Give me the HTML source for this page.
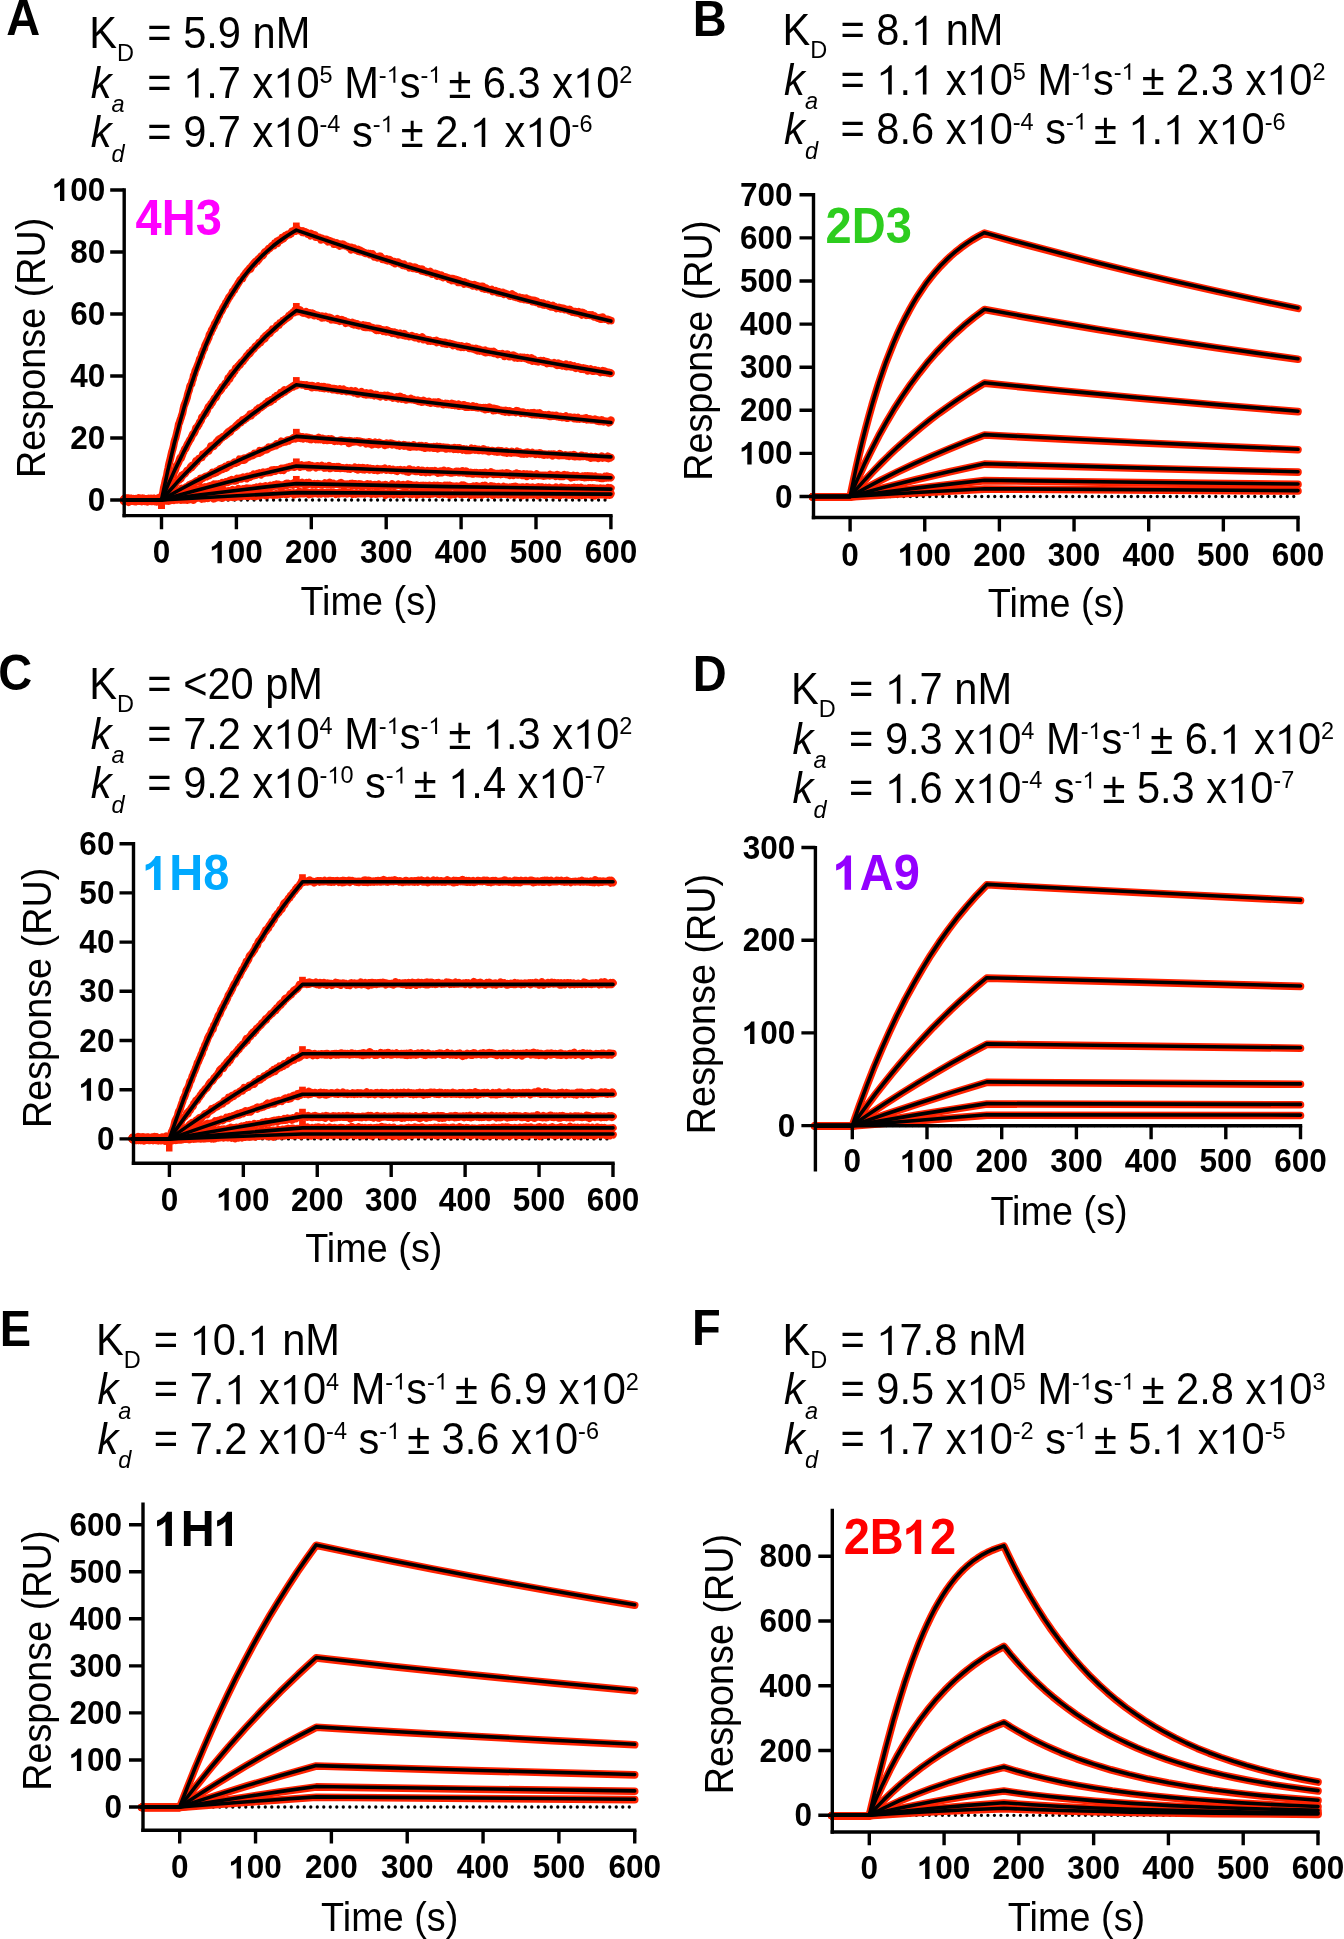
<!DOCTYPE html><html><head><meta charset="utf-8"><style>html,body{margin:0;padding:0;background:#fff;overflow:hidden}svg{display:block;will-change:transform}text{font-family:"Liberation Sans", sans-serif}</style></head><body>
<svg width="1344" height="1939" viewBox="0 0 1344 1939">
<rect width="1344" height="1939" fill="#fff"/><defs><path id="or" d="M0.285 0L0.371 0L0.371 0.67L0.325 0.67Q0.25 0.56 0.107 0.5L0.107 0.43Q0.21 0.47 0.285 0.52Z"/><path id="ob" d="M0.233 0L0.371 0L0.371 0.69L0.269 0.69Q0.19 0.55 0.054 0.51L0.054 0.39Q0.15 0.41 0.233 0.492Z"/></defs>
<path d="M124.05 500H610.9" stroke="#000" stroke-width="3.3" stroke-linecap="round" stroke-dasharray="0 6.5"/>
<g fill="none" stroke="#ff2200" stroke-width="7.6" stroke-linejoin="round" stroke-linecap="round">
<path d="M124 499.9l0.8-1.4 0.7 0.8 0.8 0.7 0.7-1.5 0.8 1.1 0.7-0.2 0.8-0.3 0.7 1.4 0.8-1 0.7-1.1 0.8 1.4 0.7 0.2 0.8-0.6 0.7-0.1 0.8-0.4 0.7 1.7 0.8-1.7 0.7 0.6 0.8-0.1 0.7-1.4 0.8 1 0.7 0 0.8 0.6 0.7-0.4 0.8 0.2 0.7 0.1 0.8 0.5 0.7-1.1 0.8 0.5 0.7 0 0.8 0.4 0.7-0.9 0.8 0.6 0.7 1 0.8-1 0.7-1 0.8 0.5 0.7 1.1 0.8 1 0.7-1.6 0.8-0.4 0.7-0.2 0.8 1.3 0.7-1.2 0.8-1 0.7 0.3 0.8 1.6 0.7-0.8 0.8-0.2 0.7-0.6 0.7-3.2 0.8-2.6 0.7-4.5 0.8-3.1 0.7-3.4 0.8-3.3 0.7-2.4 0.8-4.7 0.7-2.8 0.8-4.3 0.7-2.7 0.8-3.1 0.7-3.4 0.8-3.3 0.7-2.1 0.8-3.2 0.7-3.9 0.8-2.8 0.7-1.9 0.8-3.2 0.7-3 0.8-3.3 0.7-4 0.8-1.6 0.7-2.5 0.8-2.1 0.7-2.4 0.8-2.2 0.7-3.7 0.8-3.6 0.7-1.7 0.8-2.1 0.7-1.9 0.8-2.4 0.7-3.4 0.8-2.6 0.7-1.8 0.8-3.9 0.7-1.3 0.8-0.8 0.7-3.3 0.8-1.7 0.7-3.8 0.8-1.2 0.7-3.1 0.8-1.8 0.7-1.4 0.8-2.2 0.7-1.8 0.7-1.6 0.8-3.1 0.7-1.1 0.8-1.5 0.7-3.2 0.8-1.3 0.7-2.3 0.8-0.9 0.7-3 0.8-1.8 0.7-1.4 0.8-1.5 0.7-1.8 0.8-1.4 0.7-3.1 0.8-1.3 0.7-0.7 0.8-3 0.7-0.4 0.8-2.2 0.7-0.7 0.8-2.8 0.7-0.7 0.8-1.6 0.7-0.6 0.8-2.4 0.7-1.6 0.8-1.1 0.7-2.1 0.8-1.5 0.7-0.7 0.8-1.5 0.7-1.9 0.8-1.1 0.7-1.4 0.8-0.3 0.7-2.7 0.8-0.7 0.7-1.5 0.8-1.1 0.7-1.8 0.8-0.3 0.7-1.6 0.8-1 0.7-0.9 0.8-2.2 0.7-0.5 0.8-0.6 0.7-1.8 0.8-1.3 0.7-0.7 0.7-1.4 0.8-1.2 0.7-1.3 0.8-1 0.7-1.6 0.8-0.6 0.7-0.7 0.8 0.1 0.7-2.2 0.8-1.2 0.7-0.6 0.8-1.3 0.7-1.1 0.8-0.9 0.7-0.7 0.8-0.8 0.7-0.9 0.8-1.2 0.7 1.1 0.8-2.1 0.7-1.5 0.8-0.2 0.7-1.6 0.8 0.5 0.7-2.1 0.8-0.8 0.7-0.2 0.8 0.2 0.7-2 0.8 0.3 0.7-1.6 0.8-0.3 0.7-1.6 0.8 0 0.7-0.3 0.8-0.8 0.7-1.8 0.8-1.1 0.7-0.2 0.8-0.9 0.7-0.1 0.8-1.3 0.7-0.9 0.8 0 0.7-0.5 0.8-1.1 0.7-0.9 0.8-0.7 0.7-0.1 0.8 0.3 0.7-2.4 0.7 0.7 0.8-0.9 0.7-1.5 0.8 1.9 0.7-2.1 0.8-1.2 0.7 0.2 0.8 0.1 0.7-0.6 0.8-2.5 0.7 0 0.8 1.2 0.7-1.8 0.8-0.9 0.7 0.6 0.8-1 0.7-0.5 0.8-0.7 0.7 0.4 0.8 0.1 0.7-1.4 0.8 0.3 0.7-2.4 0.8-0.2 0.7-0.2 0.8 0.4 0.7-1.2 0.8 1.1 0.7-2.8 0.8 0.5 0.7 1.5 0.8-0.2 0.7 0.2 0.8 0.4 0.7 0.6 0.8 0.1 0.7 0.9 0.8-1.2 0.7 1.3 0.8-0.5 0.7 0 0.8 0.3 0.7 0.4 0.8 1.4 0.7-0.3 0.8 0.5 0.7-0.1 0.8 1.6 0.7-2.2 0.7 0.9 0.8 0.4 0.7 0.8 0.8 0.4 0.7-1.1 0.8 2.3 0.7-0.6 0.8 0.4 0.7 0.2 0.8 0.2 0.7 0 0.8 0.5 0.7 2 0.8-1.8 0.7 0.6 0.8 0.4 0.7 0.4 0.8-0.2 0.7 0 0.8 1 0.7-0.5 0.8 1.9 0.7-1.3 0.8 0.3 0.7 0.9 0.8-0.5 0.7 0.6 0.8 0.1 0.7 0.2 0.8 2.1 0.7-1.4 0.8 0 0.7 1.2 0.8-1 0.7 0.9 0.8 1.3 0.7-0.5 0.8 1.3 0.7-1.6 0.8 0.9 0.7 0.2 0.8-1.3 0.7 0.4 0.8 0.5 0.7 0.9 0.8 0.2 0.7 0.1 0.8 0.2 0.7 0.6 0.8 0.4 0.7 0.5 0.7-0.4 0.8 2.3 0.7-2.3 0.8 1.4 0.7-0.9 0.8 0 0.7 0.9 0.8 1 0.7-0.3 0.8 0.9 0.7 0.5 0.8-1.5 0.7 1.1 0.8 0.9 0.7-1 0.8 0.8 0.7 0.1 0.8 0.4 0.7 0.9 0.8-0.2 0.7 0.9 0.8-0.1 0.7 0.1 0.8 0.2 0.7-0.2 0.8 0.2 0.7 0.8 0.8-0.7 0.7 1.2 0.8-0.3 0.7-0.5 0.8 1.3 0.7 1.5 0.8-0.4 0.7 0.1 0.8 0.6 0.7 0.5 0.8-1 0.7 0.2 0.8 0.6 0.7-1.3 0.8 1.4 0.7 0 0.8 1.8 0.7-0.1 0.8 0.4 0.7-0.3 0.8-0.1 0.7 1 0.7-1.3 0.8 1.8 0.7-1.3 0.8 0.8 0.7-0.6 0.8 1.4 0.7 0.5 0.8 0.2 0.7 0.5 0.8-0.8 0.7 0.1 0.8 2 0.7-0.6 0.8-0.1 0.7-0.7 0.8-0.2 0.7 1.1 0.8-0.1 0.7 1 0.8-0.2 0.7 0.9 0.8 0.7 0.7-0.5 0.8-0.6 0.7 1.3 0.8 0.4 0.7-0.1 0.8 0.2 0.7 0.3 0.8-0.1 0.7 1.4 0.8-1.4 0.7 1.1 0.8-0.5 0.7 0.3 0.8 1.2 0.7-0.4 0.8-0.7 0.7 1.1 0.8-0.6 0.7 1.4 0.8-0.2 0.7-0.1 0.8-0.1 0.7 1 0.8 0.3 0.7 0.7 0.8-1.6 0.7 1 0.7 1.1 0.8-0.4 0.7 0.3 0.8 0.2 0.7 1 0.8-0.1 0.7 0.2 0.8-0.3 0.7 0.6 0.8-1.2 0.7 1.1 0.8 1.5 0.7-0.3 0.8-0.6 0.7 0.4 0.8-0.4 0.7 0.1 0.8 0.6 0.7 2.1 0.8-1.9 0.7 0.8 0.8 0.4 0.7 0.3 0.8 0.7 0.7-1.1 0.8 0.7 0.7 1.5 0.8-0.4 0.7-0.2 0.8-0.2 0.7 0.4 0.8 0.6 0.7 0.2 0.8 0.1 0.7 1.4 0.8-1 0.7 0.1 0.8 0.2 0.7 1.8 0.8-1.9 0.7 1.7 0.8 0.4 0.7-0.1 0.8-1.1 0.7 0.8 0.8-0.2 0.7 2.2 0.8-1.9 0.7 0.2 0.8 1.7 0.7-0.8 0.7 0.6 0.8 0 0.7 0.6 0.8 1.2 0.7-1.9 0.8 1.7 0.7 0.1 0.8-0.6 0.7 0.7 0.8-0.1 0.7 0.7 0.8-0.2 0.7 0.2 0.8 0.5 0.7 0.6 0.8 0.4 0.7-0.5 0.8-0.8 0.7 0.4 0.8 1 0.7 0.6 0.8-0.7 0.7 0.5 0.8-0.1 0.7 0.4 0.8 0 0.7-0.3 0.8 1.7 0.7-1.8 0.8 1 0.7 0.7 0.8 1 0.7-1.2 0.8 0.5 0.7 0.5 0.8 0.4 0.7 0.5 0.8 0 0.7-0.1 0.8 0.4 0.7-0.5 0.8 1.9 0.7-1 0.8 0.8 0.7-0.2 0.8-0.5 0.7 1 0.8-0.1 0.7 1.1 0.8-0.9 0.7 1.3 0.7 0.2 0.8-0.4 0.7-0.3 0.8 0.8 0.7-0.8 0.8 1.7 0.7-0.7 0.8-0.1 0.7 0.4 0.8 0.1 0.7 0.7 0.8 0.2 0.7 0.1 0.8 1.1 0.7 0.2 0.8-1.4 0.7-0.8 0.8 1.9 0.7-0.8 0.8 1.6 0.7-0.9 0.8 1.5 0.7 0.2 0.8-0.4 0.7 0.7 0.8 0.5 0.7-1.1 0.8 0.7 0.7 0.9 0.8-0.4 0.7-0.4 0.8 1 0.7 0.5 0.8-1 0.7 0.7 0.8-0.9 0.7 1.4 0.8-0.5 0.7 0.9 0.8-0.6 0.7 0.5 0.8 0 0.7 0.2 0.8 1.4 0.7-1.2 0.8 0 0.7 1.5 0.8-1.2 0.7 1.5 0.7-1 0.8 0.8 0.7 0.3 0.8 0.5 0.7 1.2 0.8-0.2 0.7-0.9 0.8 1.4 0.7 0.4 0.8-1.4 0.7 1 0.8 0.8 0.7-0.3 0.8-0.1 0.7-0.4 0.8 0.3 0.7 1.4 0.8 0.2 0.7-0.4 0.8 1 0.7-1 0.8-0.3 0.7 1.5 0.8-0.7 0.7 0.3 0.8 0.8 0.7 1 0.8-1 0.7 0.4 0.8 0.3 0.7-0.8 0.8 0.4 0.7 1.2 0.8-0.4 0.7-0.1 0.8 0 0.7-0.1 0.8 1.2 0.7-0.5 0.8 0.3 0.7 0.3 0.8 0.1 0.7 0.4 0.8 0.6 0.7-1.3 0.8 1.2 0.7 0.7 0.8 0.7 0.7-0.9 0.8 0.5 0.7 0 0.7 0.9 0.8-0.9 0.7 0.4 0.8 1 0.7-0.3 0.8-1 0.7 1.6 0.8 0.6 0.7 0.2 0.8 0.8 0.7-2.5 0.8 1.9 0.7-0.4 0.8-0.5 0.7 1 0.8 0.9 0.7-0.3 0.8 0.2 0.7-0.2 0.8-0.2 0.7 0.7 0.8-0.3 0.7 0.5 0.8-0.6 0.7 1 0.8 0.6 0.7-0.7 0.8 1.2 0.7 0 0.8 0.1 0.7 0.8 0.8-0.4 0.7 0.3 0.8-0.4 0.7 1.3 0.8-0.5 0.7 0.6 0.8-1.9 0.7 1.2 0.8 0.2 0.7 0.7 0.8-0.2 0.7 0.3 0.8 0 0.7-0.1 0.8 1.2 0.7-0.5 0.8 0.6 0.7 0.1"/>
<path d="M124 501l0.8-1.4 0.7 0.1 0.8 0.1 0.7-0.4 0.8-0.6 0.7 0.4 0.8 0.9 0.7-0.2 0.8 0.4 0.7-1.5 0.8 0.9 0.7 0.8 0.8-1.7 0.7 0.5 0.8-0.4 0.7 1.8 0.8-0.7 0.7-0.4 0.8 0.4 0.7-0.1 0.8 0.6 0.7 0.1 0.8-0.1 0.7-0.4 0.8 0.3 0.7 0 0.8 0.2 0.7-1.8 0.8 1.3 0.7-0.1 0.8 0 0.7-0.2 0.8 0.1 0.7 0.3 0.8-0.1 0.7-0.1 0.8-0.7 0.7-0.1 0.8 0.3 0.7-0.6 0.8 0.7 0.7-0.2 0.8-0.5 0.7-0.1 0.8 0.9 0.7-0.1 0.8 1.6 0.7-0.7 0.8-1 0.7 0.1 0.7-2.1 0.8-1.6 0.7-1.5 0.8-1.5 0.7-2.1 0.8-0.9 0.7-1.8 0.8-0.9 0.7-3.6 0.8-0.5 0.7-2.3 0.8-2.4 0.7-0.9 0.8-2.4 0.7-0.7 0.8 0.1 0.7-2.5 0.8-1.3 0.7-1.9 0.8-3.2 0.7-0.4 0.8-1.7 0.7-1.4 0.8-2.4 0.7-2.1 0.8 0.9 0.7-2 0.8-2 0.7-2 0.8-1.1 0.7-2.3 0.8-0.1 0.7-1.9 0.8-1.7 0.7-1.6 0.8-1.2 0.7-1.3 0.8-1.7 0.7-0.5 0.8-1.9 0.7-1.5 0.8-1.8 0.7-0.2 0.8-1.3 0.7-1.7 0.8-2.8 0.7-0.4 0.8-0.5 0.7-1.9 0.7-0.6 0.8-2.3 0.7-0.5 0.8-1.4 0.7-3.1 0.8 0 0.7-1.2 0.8-1.4 0.7-1.4 0.8 0.3 0.7-2.3 0.8-0.6 0.7-2.5 0.8-1.6 0.7-0.3 0.8-0.6 0.7-1.9 0.8-0.4 0.7-0.9 0.8-1.9 0.7-0.9 0.8-1.6 0.7 0 0.8-0.7 0.7-1.9 0.8-1.7 0.7-1.2 0.8-0.8 0.7-0.4 0.8-2.1 0.7 0.3 0.8-2.7 0.7-0.3 0.8-0.2 0.7-0.8 0.8-2.3 0.7-0.3 0.8 0 0.7-1.8 0.8-3.1 0.7 0.5 0.8 0.3 0.7-3.1 0.8 0.2 0.7-2.7 0.8 1.2 0.7-2.4 0.8 0 0.7-0.9 0.8-3.1 0.7-0.1 0.7 0.1 0.8-2 0.7-0.1 0.8-1.4 0.7 0.4 0.8-2 0.7-1.1 0.8 0 0.7-0.5 0.8-1.7 0.7-0.6 0.8-0.8 0.7-1.4 0.8-1.3 0.7 0.2 0.8-1.4 0.7-1.4 0.8 0.5 0.7-1.1 0.8-1 0.7-1.3 0.8-0.5 0.7-0.3 0.8-0.9 0.7-1.6 0.8-0.8 0.7-0.1 0.8-0.8 0.7-0.4 0.8-2 0.7 0.5 0.8-0.3 0.7-1.2 0.8-1.3 0.7-0.2 0.8-2.1 0.7-0.2 0.8 0.8 0.7-3 0.8-0.4 0.7 0.4 0.8-1.6 0.7-0.6 0.8-1 0.7 0.9 0.8-2 0.7-0.5 0.8-1.6 0.7 0.8 0.8-1.1 0.7-0.4 0.7 0 0.8-1.5 0.7-1.5 0.8-0.5 0.7 0 0.8 0.1 0.7-2.2 0.8 0 0.7-0.6 0.8-0.2 0.7-1.5 0.8 0.1 0.7-0.4 0.8-1.1 0.7-0.6 0.8-0.2 0.7-0.6 0.8-0.2 0.7-2 0.8 0.8 0.7-1.5 0.8-1.1 0.7-0.2 0.8-1 0.7 0.1 0.8 0.1 0.7-2.5 0.8 0.1 0.7 0.6 0.8-0.5 0.7 0.9 0.8-1.1 0.7 0.9 0.8-1.3 0.7 1.2 0.8 1.1 0.7 0.5 0.8 0.4 0.7-0.8 0.8-0.3 0.7 0.5 0.8-0.8 0.7 2.2 0.8 0 0.7-1 0.8 1.8 0.7-1.8 0.8 1.4 0.7-0.7 0.7-0.4 0.8 1.5 0.7-0.8 0.8 1.6 0.7-1 0.8 0.7 0.7-0.1 0.8 0.5 0.7-0.3 0.8 1.1 0.7 0 0.8-0.1 0.7 0 0.8 1.5 0.7-1.5 0.8 0.4 0.7 0.9 0.8-0.3 0.7-0.8 0.8 1 0.7 0.1 0.8-0.2 0.7 0.9 0.8-0.7 0.7 0.7 0.8-0.3 0.7 1.8 0.8-1 0.7 0.7 0.8 0 0.7 0.5 0.8-0.4 0.7 0.7 0.8-0.2 0.7-1.3 0.8 1.8 0.7-0.8 0.8 1.5 0.7-0.3 0.8-0.1 0.7-1.2 0.8 0.4 0.7 0.8 0.8 0.6 0.7-0.4 0.8 2.2 0.7-0.8 0.8-0.1 0.7-0.4 0.8 0.6 0.7 0.2 0.7 0.1 0.8 0.3 0.7 0.7 0.8-1.3 0.7 1.3 0.8 0.7 0.7-1.3 0.8 0.9 0.7 0 0.8-0.3 0.7 1.5 0.8-0.6 0.7 1 0.8-0.3 0.7-0.2 0.8 0.5 0.7-0.2 0.8-0.6 0.7 2 0.8-0.5 0.7 0.7 0.8-1.7 0.7 1.9 0.8 0.1 0.7-0.4 0.8-1.1 0.7 1.5 0.8-0.3 0.7 0.5 0.8 0.3 0.7-0.4 0.8 0.6 0.7 0.2 0.8 1.1 0.7-0.8 0.8 1.6 0.7-1.9 0.8 0.8 0.7 1 0.8-1.6 0.7 1.5 0.8 0 0.7-0.4 0.8 0.4 0.7 1.2 0.8-1 0.7 0.6 0.8 0.2 0.7 0.7 0.7-1.8 0.8 0.5 0.7 0.2 0.8 0.8 0.7 0.7 0.8 0.3 0.7-0.5 0.8 1.2 0.7-0.8 0.8 0.7 0.7-0.7 0.8 1.1 0.7-0.8 0.8 1.3 0.7 0 0.8 0.7 0.7-1.2 0.8-0.3 0.7 1.4 0.8-0.2 0.7-0.3 0.8-0.3 0.7 1.4 0.8-1.5 0.7 1.1 0.8 1 0.7-0.6 0.8 0.6 0.7 0.2 0.8 0.2 0.7 0.4 0.8-0.1 0.7-0.4 0.8-0.4 0.7 0.7 0.8 0 0.7 0.8 0.8 0.6 0.7-0.1 0.8-0.7 0.7 0.7 0.8 0 0.7-0.1 0.8 1.2 0.7-0.3 0.8 0 0.7-0.8 0.8-0.7 0.7 1.3 0.7 1.3 0.8-0.6 0.7 0.2 0.8 0 0.7 0.6 0.8-0.1 0.7 1.2 0.8-1 0.7 0.1 0.8 1.2 0.7-0.3 0.8 0.1 0.7 0.1 0.8-0.2 0.7 0.4 0.8 0.2 0.7-0.1 0.8-1 0.7 2.1 0.8-1 0.7 0.1 0.8 0.3 0.7-0.1 0.8 0.1 0.7 0.6 0.8 0.8 0.7-0.6 0.8 0.6 0.7-0.9 0.8 1.4 0.7-1 0.8 1.2 0.7-0.7 0.8 0.3 0.7-0.3 0.8 0.2 0.7 0.7 0.8-0.3 0.7 0.6 0.8 1 0.7-1 0.8 0.4 0.7 0.3 0.8-0.2 0.7 0.5 0.8 0.3 0.7 0.7 0.8-0.9 0.7 0.4 0.8 0.2 0.7 1 0.7-1.2 0.8 0.8 0.7 0.5 0.8 0.1 0.7-0.7 0.8 0 0.7-0.3 0.8 0.9 0.7 0.3 0.8-0.6 0.7 1.5 0.8-0.2 0.7-0.1 0.8 0 0.7 0.7 0.8-0.3 0.7 0.6 0.8-0.4 0.7 1 0.8-1.4 0.7 0.4 0.8 1.9 0.7-0.3 0.8 0.5 0.7-1.3 0.8 1 0.7 0.3 0.8 0.1 0.7-0.5 0.8 1.2 0.7-0.5 0.8-0.9 0.7 2.4 0.8-1.3 0.7 0.8 0.8-1 0.7 0 0.8 1.2 0.7 0.1 0.8-0.8 0.7 0.8 0.8-0.8 0.7-0.3 0.8 2 0.7-1.2 0.8 1.3 0.7 0.3 0.8-0.3 0.7 0.9 0.8-0.6 0.7 0.1 0.7 0 0.8 0.4 0.7 0.1 0.8-0.7 0.7 0.7 0.8 0 0.7 2 0.8-0.8 0.7-1.1 0.8 1 0.7-1.3 0.8 1.2 0.7 1.2 0.8-0.9 0.7 0.9 0.8-0.9 0.7 0.7 0.8 0.1 0.7-1.4 0.8 0.9 0.7 1.8 0.8-1.5 0.7 1.3 0.8 0.5 0.7-0.9 0.8 0.7 0.7-0.2 0.8-0.5 0.7 0.9 0.8 0 0.7-0.7 0.8 0.5 0.7-0.4 0.8 0.7 0.7 0.3 0.8-0.4 0.7-0.4 0.8 1.7 0.7 0.4 0.8-1.1 0.7 0.7 0.8-0.3 0.7-1.1 0.8 3 0.7-0.9 0.8-0.9 0.7 1.7 0.8-0.2 0.7 0.6 0.7-0.3 0.8 0 0.7 0.7 0.8-0.9 0.7 0.4 0.8-0.6 0.7 0.1 0.8 0.9 0.7 0.2 0.8-1 0.7 1.3 0.8 0.5 0.7-1.2 0.8 0.7 0.7 1.3 0.8-1.4 0.7 1 0.8 0.3 0.7-0.3 0.8 0.2 0.7 0.3 0.8 0 0.7 0.1 0.8-0.9 0.7 1.2 0.8-0.5 0.7 1.5 0.8 0.5 0.7-0.5 0.8-1.8 0.7 2 0.8-0.4 0.7-0.6 0.8 0.1 0.7 1.5 0.8-0.9 0.7 0.4 0.8 0.2 0.7 0.7 0.8-2 0.7 2.4 0.8-1.1 0.7 0.4 0.8 0.7 0.7 0 0.8-1.5 0.7 1.9 0.8-0.3 0.7-0.4 0.8 0.4 0.7-0.5 0.7 1.6 0.8 0.5 0.7-1.1 0.8 0.2 0.7-0.5 0.8 0.6 0.7-0.1 0.8 0.8 0.7 1.1 0.8-0.2 0.7 0 0.8-1 0.7 1.2 0.8-0.8 0.7 0 0.8 1.1 0.7-0.4 0.8 1.7 0.7-1.2 0.8-0.2 0.7 0.8 0.8-1.1 0.7 1.3 0.8 0.6 0.7-0.9 0.8-0.1 0.7 1.1 0.8-1.2 0.7 1 0.8-0.4 0.7 0.6 0.8-0.5 0.7 1 0.8 0 0.7 0.9 0.8-1.2 0.7 0.6 0.8-1.2 0.7 0.8 0.8 0.7 0.7-0.9 0.8 0.9 0.7-0.3 0.8 0.9 0.7 0.2 0.8-0.5 0.7 0.8 0.8-0.6 0.7 0.5"/>
<path d="M124 499.3l0.8 0.4 0.7-0.1 0.8-1 0.7 0.9 0.8 0.4 0.7 0 0.8-1.1 0.7 0 0.8 0.3 0.7 0.5 0.8 0.5 0.7 0.2 0.8-0.5 0.7 0.5 0.8-0.6 0.7-1 0.8 1.2 0.7-0.8 0.8 0.1 0.7-0.1 0.8 0.2 0.7 0.1 0.8 0.5 0.7-0.8 0.8 1.1 0.7-0.3 0.8-0.6 0.7 0.3 0.8-0.6 0.7 0.2 0.8-0.4 0.7 0.3 0.8 0.2 0.7 0.2 0.8-0.5 0.7-0.1 0.8 0.5 0.7 0.2 0.8-1 0.7 0 0.8 0.1 0.7 0.6 0.8 0.2 0.7 0.1 0.8-0.7 0.7 1 0.8-2 0.7 1.2 0.8 0 0.7 0.8 0.7-2.1 0.8-0.2 0.7-0.5 0.8-1.6 0.7-0.5 0.8-0.1 0.7-2.2 0.8 0 0.7-1.7 0.8 0 0.7-1.3 0.8-0.8 0.7-1.2 0.8-0.1 0.7-1.1 0.8-0.5 0.7-0.2 0.8-2.3 0.7 0.2 0.8-1.7 0.7-0.7 0.8-1.1 0.7-0.9 0.8 0.5 0.7-1.8 0.8 0.5 0.7-3 0.8 0.5 0.7-1.5 0.8-0.2 0.7-0.4 0.8-0.9 0.7-1.2 0.8-1.2 0.7-0.4 0.8-0.1 0.7-1 0.8-0.6 0.7-1.8 0.8 1.1 0.7-2.5 0.8 0.6 0.7-1 0.8-0.6 0.7-1.2 0.8-2.3 0.7 1.2 0.8-1.6 0.7-0.7 0.7-1.2 0.8-0.1 0.7-0.5 0.8-0.3 0.7-0.1 0.8-3.1 0.7 0.5 0.8-0.9 0.7 0 0.8-1.6 0.7-0.2 0.8-1.2 0.7 0.4 0.8-0.4 0.7-1.8 0.8-0.5 0.7-2.7 0.8 1.2 0.7-0.4 0.8-1.5 0.7 0.9 0.8-1.8 0.7-0.1 0.8-1.9 0.7-1 0.8 1.2 0.7-2.8 0.8 0.9 0.7-2.1 0.8 0.1 0.7-0.8 0.8 0 0.7-1.1 0.8-0.5 0.7 0.1 0.8-0.5 0.7-1 0.8-1.3 0.7 0.5 0.8-2.2 0.7 0.3 0.8-1.3 0.7 1 0.8-1.7 0.7-0.9 0.8-0.5 0.7-0.5 0.8-0.6 0.7-0.1 0.8-1.4 0.7-0.8 0.7 0.5 0.8-1.7 0.7-0.7 0.8-0.8 0.7 0.3 0.8-0.3 0.7-1.5 0.8-1.1 0.7 0.5 0.8-0.3 0.7-0.9 0.8-0.8 0.7 0 0.8-0.7 0.7-1 0.8 0 0.7-0.6 0.8-2 0.7 0.4 0.8 0.7 0.7-1.7 0.8-0.7 0.7-0.5 0.8 0.3 0.7-1 0.8-0.7 0.7-1.2 0.8 0.7 0.7-1.5 0.8-1.1 0.7-0.2 0.8 0.2 0.7-0.7 0.8-0.3 0.7-1.1 0.8 0 0.7-0.7 0.8-0.8 0.7-0.9 0.8 0 0.7-0.1 0.8-2 0.7 0.6 0.8-1.1 0.7 1.1 0.8-0.6 0.7-1.8 0.8 0.2 0.7-0.8 0.8 0.3 0.7-2.1 0.7 0.5 0.8-0.4 0.7-1.7 0.8 0.9 0.7-0.7 0.8-0.9 0.7-0.6 0.8-1.7 0.7 1.5 0.8-1 0.7-1.3 0.8-0.9 0.7-0.9 0.8 1.7 0.7-1.1 0.8-0.3 0.7-0.2 0.8-0.5 0.7-0.7 0.8-0.4 0.7-0.8 0.8-0.3 0.7-0.1 0.8-1.1 0.7 0.6 0.8-1.6 0.7 0 0.8 0.6 0.7-0.1 0.8-1.5 0.7 0.5 0.8-0.3 0.7 0 0.8 0.1 0.7 0.2 0.8-0.2 0.7 0.4 0.8-0.1 0.7-0.1 0.8 0.4 0.7 0 0.8 1 0.7-1 0.8 1 0.7-0.6 0.8 0 0.7 0.8 0.8 0.6 0.7-1.1 0.7 1.8 0.8-1.8 0.7 1 0.8-0.1 0.7 0 0.8 0.8 0.7-0.1 0.8-1.1 0.7-0.4 0.8 0.5 0.7 1.3 0.8-0.4 0.7 0.5 0.8-1 0.7 1.4 0.8 0.2 0.7-1.8 0.8 1.9 0.7-1 0.8 0.1 0.7 0.6 0.8-0.6 0.7 1.1 0.8-1 0.7 0.6 0.8 0 0.7 0.9 0.8 0.4 0.7-1.1 0.8 0.1 0.7 0.7 0.8 0.5 0.7-0.9 0.8 0.8 0.7 0.7 0.8-0.6 0.7 0.2 0.8-1 0.7 1.6 0.8-0.1 0.7 0.6 0.8-0.9 0.7-0.8 0.8 1.1 0.7-0.4 0.8 0.4 0.7 1 0.8-0.7 0.7 0.1 0.8 0.5 0.7 0 0.7 0.2 0.8-0.9 0.7 1.1 0.8 0.2 0.7-0.4 0.8 1.2 0.7-0.3 0.8-1.4 0.7 1.4 0.8 0.3 0.7 1.1 0.8 0.1 0.7-1.4 0.8 0.1 0.7-0.2 0.8-0.8 0.7 1.2 0.8 0.2 0.7 1.2 0.8-1 0.7 0.7 0.8 0.7 0.7-1.7 0.8 0.9 0.7-0.2 0.8 0.8 0.7-0.9 0.8 1.1 0.7-1.4 0.8 1.5 0.7 0.2 0.8-0.1 0.7 0.7 0.8-1 0.7-0.2 0.8 0.1 0.7 0.7 0.8 0.7 0.7-0.4 0.8 0.3 0.7 0.8 0.8-1 0.7 0.2 0.8 0.1 0.7 0 0.8-0.3 0.7-0.3 0.8 1 0.7 0.7 0.7-0.4 0.8-1.2 0.7 0.9 0.8 0 0.7 0.5 0.8-0.5 0.7 0.3 0.8 0.4 0.7 1 0.8-0.7 0.7 0.2 0.8 0 0.7 0.4 0.8-0.9 0.7 0.9 0.8 0.7 0.7-1.3 0.8 0.8 0.7-1.7 0.8 1.9 0.7 0.7 0.8-0.5 0.7 0.4 0.8-0.9 0.7 0.7 0.8 1.1 0.7 0.2 0.8-0.7 0.7-0.2 0.8 0.4 0.7-0.1 0.8-0.1 0.7-0.9 0.8 1.3 0.7 0.1 0.8-0.5 0.7 0.5 0.8 0.3 0.7 0 0.8 0.2 0.7 0.4 0.8-0.5 0.7 1 0.8-0.6 0.7 0.5 0.8 0 0.7 1 0.8-1.1 0.7 0.8 0.7-1.2 0.8 0.8 0.7-0.2 0.8 0.3 0.7 0.4 0.8 0.5 0.7-0.7 0.8-0.3 0.7 1.1 0.8 0.7 0.7-0.3 0.8-0.1 0.7-0.3 0.8-0.4 0.7 0.5 0.8-0.4 0.7 0.9 0.8-0.3 0.7-0.4 0.8 1.2 0.7-1.6 0.8 1.5 0.7-0.5 0.8 0 0.7 0.6 0.8 0.8 0.7 0.2 0.8 0 0.7-0.7 0.8-0.5 0.7 0.4 0.8 0.6 0.7-0.7 0.8 0.7 0.7 0.3 0.8-0.3 0.7 0.2 0.8 0.5 0.7-1.7 0.8 1.7 0.7-0.7 0.8-0.2 0.7 1.2 0.8-0.8 0.7 0.2 0.8 0.6 0.7 0.5 0.8-1.6 0.7 1.9 0.8-1 0.7 0.7 0.7 0 0.8 0.3 0.7-1.4 0.8-0.1 0.7 1.2 0.8 1.2 0.7-1.2 0.8 0 0.7 1.1 0.8-0.8 0.7 0.9 0.8-0.5 0.7 0.3 0.8 0.3 0.7 0.1 0.8-1.3 0.7 0.7 0.8 0.5 0.7-0.2 0.8-0.4 0.7 1.2 0.8 0 0.7 0.1 0.8-0.4 0.7 0.1 0.8 0.1 0.7 0.1 0.8 0.7 0.7-0.7 0.8-0.2 0.7 1.1 0.8 0.8 0.7-1.8 0.8 1.5 0.7-1.2 0.8 1.2 0.7-0.1 0.8-1.8 0.7 1.4 0.8 0.4 0.7-0.2 0.8-0.5 0.7 2.2 0.8-2.3 0.7 1.2 0.8 0.8 0.7-1.4 0.8 0.3 0.7 0.1 0.8 0.5 0.7 0.6 0.7-0.1 0.8-0.1 0.7 0 0.8 1.1 0.7-0.4 0.8-0.4 0.7 0.2 0.8 1.2 0.7-1.3 0.8 0.9 0.7-0.6 0.8 0.4 0.7 0.8 0.8-1.2 0.7 0.7 0.8-0.1 0.7 0.4 0.8 0.1 0.7-0.1 0.8-0.3 0.7 0.3 0.8 0.6 0.7-1.8 0.8 1.3 0.7-1.1 0.8 1 0.7-0.2 0.8 0.6 0.7 0.8 0.8-1.1 0.7 0 0.8 0.9 0.7-0.5 0.8 1 0.7 0 0.8-0.1 0.7-0.1 0.8-0.3 0.7 0.5 0.8 0.4 0.7-0.4 0.8 0.3 0.7-0.6 0.8 1.3 0.7-1.1 0.8-0.5 0.7 1.9 0.8-0.2 0.7-0.2 0.7 0.4 0.8-1.4 0.7 0.6 0.8-0.3 0.7-0.6 0.8 2.1 0.7-0.3 0.8-0.2 0.7 0.3 0.8 0.6 0.7-0.3 0.8-0.4 0.7 0.3 0.8 0.6 0.7-0.1 0.8-0.2 0.7-0.7 0.8 1.7 0.7-0.8 0.8 0.7 0.7-1 0.8 0 0.7 0.8 0.8 0.2 0.7-0.1 0.8-0.6 0.7-0.3 0.8 1.4 0.7-0.2 0.8-0.2 0.7 0.8 0.8-0.2 0.7-0.5 0.8 0.2 0.7 1 0.8-0.1 0.7-0.6 0.8 0.1 0.7 0.1 0.8-1 0.7 1.9 0.8-0.4 0.7 0.5 0.8-0.9 0.7-0.1 0.8-0.1 0.7 0.5 0.8 0.2 0.7-0.2 0.8 0.2 0.7 0.9 0.7-1.1 0.8 0.7 0.7 0.6 0.8-0.8 0.7-0.5 0.8 1.5 0.7 0.1 0.8-0.4 0.7 0.1 0.8-0.3 0.7 0.5 0.8-0.1 0.7-0.5 0.8 0.8 0.7-0.3 0.8-0.8 0.7 1.6 0.8-0.9 0.7 0.7 0.8 0.2 0.7-0.7 0.8 0.6 0.7 0.3 0.8-0.3 0.7 0.3 0.8 0.1 0.7 0 0.8-0.8 0.7 0.3 0.8 1.3 0.7-0.6 0.8-0.1 0.7 1.4 0.8-0.2 0.7-0.7 0.8 0.6 0.7-1.3 0.8 1.5 0.7 0.4 0.8-0.8 0.7 0.6 0.8-0.4 0.7 0.1 0.8 0.2 0.7 0.2 0.8 1.1 0.7-0.3 0.8-0.4 0.7-2"/>
<path d="M124 500.8l0.8 0.4 0.7 0 0.8 0.2 0.7-0.5 0.8 0.5 0.7 0.7 0.8-1.6 0.7 0 0.8-0.2 0.7 0.4 0.8-0.5 0.7 0.9 0.8 0.2 0.7 0.3 0.8 0.1 0.7-1 0.8 0.3 0.7-0.6 0.8 0.5 0.7 0 0.8 0.3 0.7-0.3 0.8-0.6 0.7 1.2 0.8-0.7 0.7-0.7 0.8-0.2 0.7 1.4 0.8-1.5 0.7 1.5 0.8 0.5 0.7-0.6 0.8 0.2 0.7-0.2 0.8-0.7 0.7 0.5 0.8-1.2 0.7 1.5 0.8 0 0.7-0.3 0.8 0.5 0.7-0.7 0.8-0.9 0.7 1.8 0.8-0.8 0.7-0.4 0.8 0.1 0.7 0.1 0.8 0.3 0.7-0.9 0.7 0.4 0.8-0.7 0.7 0.2 0.8-1 0.7 0.1 0.8-1.3 0.7 0.3 0.8-0.8 0.7 0.4 0.8-0.9 0.7 0 0.8-1.3 0.7-0.5 0.8-0.1 0.7-1 0.8 0 0.7 0.5 0.8-1.8 0.7-0.1 0.8 0 0.7 0.5 0.8-0.1 0.7-2 0.8-0.4 0.7 0 0.8-0.9 0.7-1.2 0.8 1.1 0.7-0.5 0.8-0.5 0.7-0.2 0.8-0.6 0.7-0.9 0.8 0.3 0.7-0.8 0.8-0.3 0.7-1.1 0.8 0.3 0.7-0.5 0.8-0.8 0.7-0.4 0.8-0.2 0.7-0.1 0.8-0.8 0.7-0.6 0.8 0.3 0.7-1.2 0.8 0.5 0.7-1.1 0.7 0 0.8 0.4 0.7-2.3 0.8 0.1 0.7 0.1 0.8-0.1 0.7-0.8 0.8-0.5 0.7-0.2 0.8-0.6 0.7 0.3 0.8-0.8 0.7-0.1 0.8-0.2 0.7 0 0.8-1.2 0.7-0.2 0.8 0.1 0.7-1.9 0.8 0.9 0.7-0.9 0.8 0.7 0.7-1.1 0.8-0.7 0.7 0.8 0.8-1.3 0.7-0.6 0.8 0.5 0.7-1.8 0.8 0.7 0.7 0.1 0.8-1.5 0.7 1 0.8-1.1 0.7-0.5 0.8-1.1 0.7 1.5 0.8-0.4 0.7-1.3 0.8 0 0.7-1.7 0.8 0.9 0.7-0.2 0.8-1 0.7-0.3 0.8-0.1 0.7-0.7 0.8-0.9 0.7 1.1 0.8-0.2 0.7-0.6 0.7-0.2 0.8-0.2 0.7-1.1 0.8-1.9 0.7 1.4 0.8-0.7 0.7-0.7 0.8 0.7 0.7-1.2 0.8-0.5 0.7 1.8 0.8-2 0.7 0 0.8-0.1 0.7-0.3 0.8-0.7 0.7 0 0.8-0.7 0.7-0.5 0.8-0.2 0.7 0.2 0.8-0.3 0.7-0.5 0.8-1.5 0.7 0.5 0.8 0.1 0.7-0.9 0.8 0.2 0.7-0.5 0.8 0.3 0.7-2.4 0.8 1.1 0.7 0.3 0.8-0.6 0.7-1 0.8-0.1 0.7-0.4 0.8 0.1 0.7-0.1 0.8-1.1 0.7 0.6 0.8-0.6 0.7-1.8 0.8 0.7 0.7-0.2 0.8-0.6 0.7 0.1 0.8-0.4 0.7-0.3 0.8-0.4 0.7 0 0.7-0.8 0.8 0.4 0.7-1.7 0.8 0.8 0.7-0.6 0.8-0.3 0.7 0.1 0.8-0.8 0.7-1.8 0.8 0.7 0.7 0.4 0.8-0.3 0.7-0.4 0.8-0.4 0.7 0.5 0.8-0.7 0.7-0.9 0.8-0.2 0.7 0.8 0.8-0.8 0.7-0.2 0.8-0.5 0.7-0.1 0.8-0.8 0.7-0.5 0.8-0.3 0.7-0.2 0.8 1.3 0.7-1 0.8-0.3 0.7 0 0.8-0.8 0.7 1.4 0.8-1.4 0.7 1.7 0.8-0.8 0.7-0.5 0.8 1.7 0.7-1.4 0.8 0.5 0.7 0.1 0.8-0.7 0.7 1.2 0.8-1 0.7 0.8 0.8-0.5 0.7 1.6 0.8-0.8 0.7 0.9 0.7-1.2 0.8 0.6 0.7 0.2 0.8-0.2 0.7-0.2 0.8 0.9 0.7-0.4 0.8-0.1 0.7 0.5 0.8-2 0.7 1 0.8 1 0.7-0.5 0.8 0.1 0.7-0.6 0.8 0.7 0.7 1.1 0.8-1.1 0.7-0.2 0.8 0.5 0.7 0.8 0.8-0.9 0.7-0.5 0.8 1.1 0.7-0.3 0.8 0.4 0.7-1.1 0.8 0.4 0.7 0.6 0.8 0.4 0.7 0.9 0.8-0.2 0.7-0.1 0.8 0 0.7 0.1 0.8-0.2 0.7 0.1 0.8-0.6 0.7 0 0.8 1.1 0.7-1.4 0.8 0.4 0.7 0.3 0.8 0.3 0.7-0.5 0.8 0.2 0.7-0.1 0.8 0.1 0.7 0.2 0.8 2.3 0.7-2.6 0.7 2.2 0.8-2.1 0.7 0.8 0.8 0 0.7 0.4 0.8-0.5 0.7-0.4 0.8 0.4 0.7 0.2 0.8-0.7 0.7 0.9 0.8 0.2 0.7-0.9 0.8 0.2 0.7 1.3 0.8-1 0.7 0.2 0.8 0.1 0.7 0 0.8 0.8 0.7-0.1 0.8 1.1 0.7-1.4 0.8 0.5 0.7-0.6 0.8 1.1 0.7-1.5 0.8 0.5 0.7 0.4 0.8 1.9 0.7-0.3 0.8-0.1 0.7-1.1 0.8-0.9 0.7 1.3 0.8 0.4 0.7-1 0.8 1.6 0.7 0 0.8-2.1 0.7 0.9 0.8 0.1 0.7 0 0.8 0.2 0.7 0.1 0.8-0.1 0.7 1.7 0.8-1.7 0.7-0.4 0.7 1.5 0.8-0.1 0.7-1.2 0.8 0.2 0.7 0.1 0.8-0.7 0.7 0.5 0.8 1.1 0.7-1 0.8 0.7 0.7 0 0.8-0.1 0.7 0.7 0.8-0.2 0.7 0.7 0.8-0.4 0.7-0.6 0.8 1.4 0.7-0.7 0.8 0.1 0.7 0 0.8-0.3 0.7-0.3 0.8 1.3 0.7-1.1 0.8 0.3 0.7 0.7 0.8 0.2 0.7-0.6 0.8 1.3 0.7-1.3 0.8 1.6 0.7-0.6 0.8-0.6 0.7-0.2 0.8 0.8 0.7-1.6 0.8 1.5 0.7 0 0.8 0.6 0.7 0 0.8-0.6 0.7 0.1 0.8-0.8 0.7 1 0.8-0.8 0.7-0.3 0.8 1.9 0.7 0.1 0.7-1.1 0.8 0.3 0.7 1.3 0.8-2.2 0.7 1.8 0.8-1 0.7 0.6 0.8-0.4 0.7 1 0.8-0.1 0.7-0.8 0.8 0.8 0.7 0 0.8 0.3 0.7-1.4 0.8 1.2 0.7-0.5 0.8 0.2 0.7-1 0.8 2.2 0.7-1.2 0.8 0.3 0.7-1.1 0.8 0.8 0.7 0.3 0.8 0 0.7-0.7 0.8 0.9 0.7-0.4 0.8 0.9 0.7-1.2 0.8 1.4 0.7-1.2 0.8 0 0.7 1 0.8 0.1 0.7-0.1 0.8-0.5 0.7 0.2 0.8-0.3 0.7 1.2 0.8-1.6 0.7 0.3 0.8 0.1 0.7 1.1 0.8-1.2 0.7 1.4 0.8-1.4 0.7 0 0.8 1.3 0.7 0.1 0.7-0.4 0.8 1 0.7-1 0.8 0 0.7 0.3 0.8 0.9 0.7-0.8 0.8 1.2 0.7-0.2 0.8-0.1 0.7-0.1 0.8 0.3 0.7-0.5 0.8-1.6 0.7 1.6 0.8-0.2 0.7-0.5 0.8-0.4 0.7 1.2 0.8-0.7 0.7 0.7 0.8-0.4 0.7 0.7 0.8-0.7 0.7 0.8 0.8-0.2 0.7-0.2 0.8 0.2 0.7 0.4 0.8-1.7 0.7 0.5 0.8 1.2 0.7 0 0.8 0.2 0.7 0.1 0.8-0.7 0.7 1.4 0.8-0.3 0.7-0.2 0.8-0.3 0.7-0.3 0.8 0.2 0.7 0.6 0.8-0.1 0.7 0.4 0.8-0.3 0.7-0.3 0.8 1 0.7-1.5 0.8 0.1 0.7 1.1 0.7-0.5 0.8-0.5 0.7 0 0.8 0.9 0.7 0.9 0.8 0.1 0.7-0.9 0.8-0.1 0.7-0.3 0.8 1.7 0.7-1.1 0.8-0.1 0.7 0.7 0.8 0.3 0.7-0.7 0.8 0.8 0.7-1.4 0.8 1 0.7 0.1 0.8 0 0.7 0.2 0.8-0.3 0.7 0.3 0.8-1.5 0.7 0.8 0.8 1 0.7-1.1 0.8 0.2 0.7 1.7 0.8-1.1 0.7 0.2 0.8 0.1 0.7 0.9 0.8-1.2 0.7-0.3 0.8 0.7 0.7 0.7 0.8-1.8 0.7 1 0.8-0.1 0.7 0.4 0.8 0.3 0.7-0.2 0.8-1 0.7 0.8 0.8 0.1 0.7 0.1 0.8 0.7 0.7-0.8 0.7-0.1 0.8 0.3 0.7 0.2 0.8 0.4 0.7-1.4 0.8 0.3 0.7 0.8 0.8 0.6 0.7-0.5 0.8 0.2 0.7 0.9 0.8-0.9 0.7 0.2 0.8-0.2 0.7 0.7 0.8-0.3 0.7-0.4 0.8 0.6 0.7-0.1 0.8-0.5 0.7 0.8 0.8 0.8 0.7-1.8 0.8 0 0.7 0.6 0.8 0 0.7 0.3 0.8-0.1 0.7 0.2 0.8 0.6 0.7 0.1 0.8-1.9 0.7 1.6 0.8-0.3 0.7 0.4 0.8-0.3 0.7 0.2 0.8-0.3 0.7-0.2 0.8 0.3 0.7 0.7 0.8-0.5 0.7 0 0.8 0.9 0.7-0.2 0.8-1 0.7 0.1 0.8 0.4 0.7 0.4 0.8 0.4 0.7-1.6 0.7 1.8 0.8-0.7 0.7 0.2 0.8 0.4 0.7-0.3 0.8 0 0.7 0.5 0.8 0.1 0.7-1.3 0.8-0.2 0.7 0.3 0.8 0.9 0.7-0.3 0.8 0.1 0.7-0.2 0.8-0.1 0.7 0.8 0.8-0.3 0.7 0.3 0.8 0.1 0.7 0.7 0.8 0.4 0.7-1.6 0.8 1.2 0.7-0.7 0.8 0.2 0.7 0.5 0.8-1 0.7 0.3 0.8 0.7 0.7-0.2 0.8 0.8 0.7-0.7 0.8-0.2 0.7-0.1 0.8 0.4 0.7-1.4 0.8 1.9 0.7-0.5 0.8-0.5 0.7 0.4 0.8 0.3 0.7-0.9 0.8 1.2 0.7-1.8 0.8 2.2 0.7-0.9 0.8 0.3 0.7-0.3"/>
<path d="M124 499l0.8 0.8 0.7-0.8 0.8 1.5 0.7-1.8 0.8 0.4 0.7-0.7 0.8 1.8 0.7-1.7 0.8 2.7 0.7-2 0.8 0.3 0.7 0 0.8 0 0.7-0.1 0.8-0.4 0.7 0.8 0.8-0.3 0.7-0.5 0.8 1.1 0.7 0.6 0.8-0.6 0.7 0.3 0.8-1.2 0.7 0.6 0.8-1.5 0.7 0.7 0.8 0.9 0.7 0.5 0.8-1.3 0.7 0.5 0.8 0.9 0.7-0.7 0.8-1.2 0.7 1.4 0.8 0 0.7-0.7 0.8-0.5 0.7 0.8 0.8-0.6 0.7-0.4 0.8 2.1 0.7-1 0.8 0.5 0.7-0.2 0.8-0.3 0.7-0.6 0.8 0 0.7 0.8 0.8 0.8 0.7-0.7 0.7 0 0.8-1.4 0.7-0.3 0.8-0.5 0.7 1.1 0.8-1.4 0.7 0.8 0.8 0.1 0.7-1.3 0.8-0.8 0.7 0.5 0.8 0.4 0.7-0.3 0.8 0.3 0.7-0.6 0.8-1.1 0.7 0.4 0.8-0.1 0.7-0.3 0.8 0.2 0.7-0.8 0.8 0.6 0.7-0.8 0.8 0.4 0.7-1.5 0.8 1.3 0.7-0.8 0.8-1.9 0.7 2.5 0.8-1.3 0.7 0.3 0.8-0.8 0.7-0.1 0.8-1.1 0.7 0.4 0.8 0.6 0.7 0.2 0.8-1 0.7 1 0.8-2.4 0.7-0.9 0.8 0.2 0.7 1.3 0.8-1.4 0.7 0 0.8-0.3 0.7 0.8 0.8-0.6 0.7 0.4 0.7-0.5 0.8-0.6 0.7 0.4 0.8-1.5 0.7 1 0.8 0 0.7-0.4 0.8-1.2 0.7-0.3 0.8 0.5 0.7 0.7 0.8 0.6 0.7-1.8 0.8-0.7 0.7-0.3 0.8 1.1 0.7-0.4 0.8-1.3 0.7 0.3 0.8 0.4 0.7-1.9 0.8 0.7 0.7 0 0.8-0.5 0.7 1.1 0.8-1 0.7-0.4 0.8 1.2 0.7-0.4 0.8 0.5 0.7-1.8 0.8-0.8 0.7 1.4 0.8-1.2 0.7 0 0.8-0.3 0.7-0.7 0.8 0.4 0.7 0.2 0.8-0.4 0.7-1.2 0.8-0.5 0.7 0.9 0.8-0.3 0.7-1.3 0.8 1 0.7-0.1 0.8 0.3 0.7 0.1 0.8-0.4 0.7 0 0.7-2.2 0.8 0.6 0.7 0.2 0.8-0.1 0.7-1 0.8 0 0.7 0.7 0.8-0.9 0.7-0.9 0.8 0.3 0.7 0.5 0.8-0.3 0.7-0.1 0.8 1.2 0.7-2.1 0.8 0.9 0.7-0.6 0.8 0.3 0.7-1.1 0.8 0.3 0.7-0.6 0.8-0.3 0.7-1.1 0.8 1.3 0.7-0.3 0.8 0 0.7-0.7 0.8-1 0.7-0.1 0.8 0.5 0.7-1 0.8 0.5 0.7 1.3 0.8-0.9 0.7-0.1 0.8-1.6 0.7 0.8 0.8 0 0.7-0.3 0.8-0.5 0.7 0.3 0.8 0.2 0.7-1.1 0.8-0.4 0.7 0.1 0.8 1 0.7-2.1 0.8 1.1 0.7-0.5 0.8-0.9 0.7 0 0.7 1.2 0.8-1.2 0.7-0.2 0.8 0.3 0.7-0.1 0.8-0.3 0.7-0.4 0.8 1 0.7-1.8 0.8 0.9 0.7-0.8 0.8 1.7 0.7-1.4 0.8-0.8 0.7-0.2 0.8 0.3 0.7-0.7 0.8 0.4 0.7-0.5 0.8-0.6 0.7 0.3 0.8-0.2 0.7-0.3 0.8-0.7 0.7 0.4 0.8 1 0.7-0.3 0.8-2 0.7 0.6 0.8-0.3 0.7-0.2 0.8 0.3 0.7 0.1 0.8 1.7 0.7-0.9 0.8-1.1 0.7 0.9 0.8-0.1 0.7 0.5 0.8-0.9 0.7 0.3 0.8-0.4 0.7 0 0.8 1.3 0.7 0.8 0.8-2.7 0.7 2.9 0.8-1.2 0.7 0.1 0.7-0.9 0.8 0.8 0.7-0.5 0.8 0.4 0.7 0.3 0.8 0.9 0.7-1.4 0.8-0.3 0.7 0.7 0.8 0.3 0.7-0.4 0.8-0.5 0.7 0.5 0.8-1 0.7 0.6 0.8 0.8 0.7 1 0.8-0.8 0.7-0.6 0.8 1.2 0.7-0.8 0.8 0.5 0.7 0.1 0.8-1.7 0.7 2.6 0.8 0 0.7-1.7 0.8 0.3 0.7-0.2 0.8 0.1 0.7-0.1 0.8 1.3 0.7-0.8 0.8-0.5 0.7 1.4 0.8-0.3 0.7-1.2 0.8 1.4 0.7 0.3 0.8-0.7 0.7 0.5 0.8-0.4 0.7 0.1 0.8 0.6 0.7 0 0.8-0.5 0.7-0.3 0.8 0.9 0.7-0.8 0.8 0.3 0.7-0.2 0.7 1.2 0.8-0.4 0.7-0.4 0.8 0 0.7-0.2 0.8 0 0.7-0.7 0.8 1.5 0.7 0.3 0.8 0 0.7 0.6 0.8-2.2 0.7 0.1 0.8 0.1 0.7 1.2 0.8 0.2 0.7 0.3 0.8-1.7 0.7 1.4 0.8 0.5 0.7-1.5 0.8 1 0.7-0.1 0.8-1.1 0.7 0.3 0.8 1.6 0.7 0 0.8-1.4 0.7 0.6 0.8 0 0.7-0.3 0.8 0.2 0.7 1.1 0.8-0.3 0.7-0.2 0.8-0.3 0.7-0.5 0.8 1.8 0.7-0.3 0.8-1.3 0.7 0.1 0.8 0.4 0.7 0.3 0.8-0.5 0.7-0.5 0.8-0.1 0.7-0.4 0.8 1.2 0.7 0.6 0.7-0.7 0.8 0.2 0.7-0.2 0.8-0.5 0.7 1.2 0.8-0.4 0.7 0.7 0.8-0.5 0.7-0.4 0.8 0.7 0.7-0.4 0.8 0.3 0.7 0.7 0.8-0.6 0.7 1 0.8-1.3 0.7 0.4 0.8-0.5 0.7-0.2 0.8 0.4 0.7 0 0.8 0.7 0.7-0.3 0.8-0.5 0.7 0.4 0.8 0.4 0.7 0.8 0.8-1 0.7 0.5 0.8 0.9 0.7-2.9 0.8 1.6 0.7-0.4 0.8 0.4 0.7-0.2 0.8 0.4 0.7-0.6 0.8 0.6 0.7 0.6 0.8-0.1 0.7 0.2 0.8-0.3 0.7-1.1 0.8 0.9 0.7-0.4 0.8 0.2 0.7 1.3 0.8-1.6 0.7 1.4 0.7-1.2 0.8 0.3 0.7 0.4 0.8 1.1 0.7-0.7 0.8-1.1 0.7 0.6 0.8 0 0.7 1 0.8-1.4 0.7 0.3 0.8-0.3 0.7 0.7 0.8-0.3 0.7-0.2 0.8-0.5 0.7 0.2 0.8 1.5 0.7-0.2 0.8 0.9 0.7-0.9 0.8-0.7 0.7-0.2 0.8 1.4 0.7-1.3 0.8 1.1 0.7-1.1 0.8-0.8 0.7 1.4 0.8-0.5 0.7 0.4 0.8 0.3 0.7 0.2 0.8-1.4 0.7 1.2 0.8 0.6 0.7-0.9 0.8 0.7 0.7 0.4 0.8-0.6 0.7 0.2 0.8-0.4 0.7 0.2 0.8-1.1 0.7 0 0.8 0.9 0.7-0.5 0.8 1.2 0.7-0.1 0.8-0.1 0.7-1.1 0.7 0.4 0.8-0.8 0.7 1.7 0.8-0.9 0.7 0.7 0.8 0.3 0.7-1.6 0.8 2.1 0.7-1.2 0.8 0.6 0.7 0.5 0.8-0.7 0.7 0.1 0.8-0.2 0.7 1.4 0.8-1 0.7 0.9 0.8-1 0.7 0.5 0.8-0.6 0.7 0.8 0.8-0.5 0.7 0.6 0.8 0.2 0.7-1.1 0.8 0 0.7 0.5 0.8-0.3 0.7 1.4 0.8-1.2 0.7 0.5 0.8-1 0.7 1.3 0.8 0.5 0.7-1.4 0.8 0.1 0.7 0.4 0.8 0.1 0.7-0.2 0.8-1.3 0.7 0.7 0.8 0.5 0.7 1 0.8-0.9 0.7 0.8 0.8 0.1 0.7-0.1 0.8-0.6 0.7-0.1 0.8 0.7 0.7-0.4 0.7-0.4 0.8 1 0.7-0.7 0.8-0.5 0.7 0.9 0.8-0.1 0.7-0.4 0.8 0.5 0.7 0.3 0.8-1.3 0.7 1.3 0.8-1.1 0.7 1.1 0.8 0.8 0.7-1.1 0.8 0.5 0.7 0.2 0.8-0.4 0.7 0.8 0.8-1.1 0.7-0.1 0.8-0.1 0.7-0.7 0.8 1.7 0.7 0.1 0.8-0.5 0.7-0.6 0.8 0.3 0.7 0.6 0.8 0.5 0.7 0.2 0.8-0.3 0.7-1.3 0.8 1.3 0.7-0.4 0.8-0.5 0.7 2.1 0.8-2.2 0.7 0.4 0.8 0.2 0.7-0.5 0.8-0.1 0.7 0.9 0.8 0.8 0.7-1 0.8 0.5 0.7 0.3 0.8-0.3 0.7-0.3 0.7-1 0.8 0.8 0.7 0.7 0.8-0.1 0.7-0.2 0.8-0.1 0.7 0.4 0.8 0.2 0.7-0.4 0.8 0.6 0.7-0.6 0.8 0.5 0.7-0.5 0.8 0.3 0.7-0.1 0.8-0.2 0.7-0.2 0.8 0.5 0.7-1.1 0.8 0.5 0.7-0.1 0.8 0.5 0.7-0.3 0.8 0.3 0.7 0.2 0.8 0.6 0.7-0.6 0.8-1.1 0.7 0.1 0.8 1.2 0.7-0.3 0.8 0.7 0.7-0.8 0.8 0.1 0.7 0.5 0.8 0.4 0.7-0.2 0.8-1.5 0.7 0.9 0.8 0.1 0.7-0.1 0.8-0.6 0.7 0.4 0.8 0.6 0.7 0.5 0.8-0.5 0.7 1.7 0.8-1.1 0.7 0.2 0.8-1.3 0.7 1.4 0.7-1.1 0.8 0.4 0.7 0.5 0.8-1 0.7 1 0.8-0.3 0.7 0.2 0.8 0.2 0.7 0 0.8 0.3 0.7-1.1 0.8 0.1 0.7 0.3 0.8 0.9 0.7-1.5 0.8 1.5 0.7-0.1 0.8-1.3 0.7 1.2 0.8-0.7 0.7 0.6 0.8-0.8 0.7 1 0.8-1.1 0.7 0.5 0.8 0.6 0.7 0 0.8-0.9 0.7 1 0.8 0.2 0.7-0.5 0.8 0.1 0.7-0.2 0.8 1.1 0.7-0.7 0.8 0.9 0.7-0.7 0.8-0.3 0.7 0.8 0.8-0.9 0.7-0.8 0.8 0.1 0.7 1.3 0.8-1.7 0.7 0.7 0.8 0.8 0.7-0.8 0.8 0.1 0.7 0.7"/>
<path d="M124 500.4l0.8-0.4 0.7-0.4 0.8 0.1 0.7-0.8 0.8 1.6 0.7-1.1 0.8 0.3 0.7-0.2 0.8 0.4 0.7-0.2 0.8-0.1 0.7 0 0.8 0.3 0.7 0.8 0.8-1.6 0.7 1.3 0.8-0.5 0.7 0.2 0.8-0.7 0.7 1 0.8-0.2 0.7-1.5 0.8 0.1 0.7 2 0.8-1.3 0.7 0.2 0.8-0.8 0.7 0.9 0.8 0 0.7-0.3 0.8 1.1 0.7-0.9 0.8 0.6 0.7-0.5 0.8 0.1 0.7-0.3 0.8-0.1 0.7 1.1 0.8-0.1 0.7 0 0.8-1.1 0.7 0.2 0.8 0.3 0.7-0.3 0.8 0.6 0.7 0.6 0.8-1.3 0.7 0.1 0.8-0.7 0.7 1.6 0.7-0.7 0.8 0 0.7-0.7 0.8 0.3 0.7-0.3 0.8-0.3 0.7 0.6 0.8 0.4 0.7-0.2 0.8-1 0.7 1.9 0.8-2.3 0.7 0.3 0.8-0.9 0.7 0.5 0.8 0.3 0.7-0.7 0.8 0.2 0.7-0.6 0.8 0.2 0.7-0.6 0.8 0.4 0.7-1.1 0.8 0.7 0.7 0.1 0.8 0.1 0.7 0.7 0.8-1.5 0.7 0.2 0.8 0.8 0.7-1.2 0.8 0.3 0.7-0.9 0.8-1 0.7 3.1 0.8-1 0.7 0.7 0.8-1.4 0.7-0.9 0.8 1 0.7-0.9 0.8 0.6 0.7 0 0.8 0.1 0.7-1 0.8 0.5 0.7 0 0.8 0.5 0.7-1.1 0.7 1.3 0.8-0.9 0.7-0.2 0.8-0.7 0.7 0.5 0.8 0 0.7-1 0.8 0.9 0.7-0.4 0.8-0.4 0.7-0.4 0.8 0.3 0.7 0.4 0.8 0.5 0.7-1 0.8-0.4 0.7 0.5 0.8 0.1 0.7-0.2 0.8-0.7 0.7-1.4 0.8 1.5 0.7-0.3 0.8-0.7 0.7 0.6 0.8-0.7 0.7 0.3 0.8 0.8 0.7-1.1 0.8-1.2 0.7 1.9 0.8-0.7 0.7-0.1 0.8-1.1 0.7-0.2 0.8 0.8 0.7-0.2 0.8 0.4 0.7-0.4 0.8 0.3 0.7-0.6 0.8 0.4 0.7-0.6 0.8 0.5 0.7 0 0.8-1.4 0.7 0.8 0.8-0.3 0.7 0.2 0.8 1 0.7-1.6 0.7 0.2 0.8 0.1 0.7-1.5 0.8 2.1 0.7-0.6 0.8-0.5 0.7 0.5 0.8 0.9 0.7-2.1 0.8 1.2 0.7 0.1 0.8-1.6 0.7 0.7 0.8-1.1 0.7 0.8 0.8-0.6 0.7 0.6 0.8-0.6 0.7 0.8 0.8-0.1 0.7 0.2 0.8-1.1 0.7-0.2 0.8-0.1 0.7-0.3 0.8 0.2 0.7-0.6 0.8 0.4 0.7 0.5 0.8 0 0.7-0.4 0.8-1.2 0.7 1.7 0.8 0.1 0.7-0.7 0.8-0.8 0.7 0.5 0.8-0.5 0.7-0.9 0.8 1.5 0.7-0.3 0.8-0.3 0.7 0.1 0.8-0.5 0.7-0.8 0.8 1.5 0.7-1.2 0.8-0.1 0.7 0.4 0.8-1.3 0.7 0.7 0.7 0.4 0.8-0.5 0.7-1.4 0.8 1.4 0.7 0.4 0.8-1.4 0.7 2 0.8-1.3 0.7-0.1 0.8 0.1 0.7 0.3 0.8-0.6 0.7-0.3 0.8 0.2 0.7-1 0.8 1.8 0.7-2.2 0.8 0.8 0.7-0.5 0.8 0.5 0.7-0.2 0.8 0.6 0.7-0.8 0.8-0.2 0.7 1.3 0.8-1.9 0.7 0.5 0.8-0.3 0.7 0.8 0.8-0.6 0.7 0.7 0.8-1.1 0.7 0.6 0.8 0.2 0.7-0.3 0.8 0.2 0.7-1.1 0.8 1.2 0.7-0.4 0.8 1.3 0.7-1.7 0.8-0.3 0.7 2.1 0.8 0 0.7-1.3 0.8-1 0.7 0.7 0.8 0.7 0.7 0.1 0.7 0.3 0.8 0.1 0.7-0.3 0.8-0.4 0.7 0.9 0.8 0.1 0.7-0.7 0.8-0.4 0.7 0.7 0.8-0.3 0.7-0.1 0.8 0.1 0.7 0.6 0.8 0.2 0.7-0.3 0.8-0.3 0.7-0.4 0.8-0.7 0.7 0.8 0.8 0.4 0.7-0.8 0.8 0.8 0.7-0.7 0.8 0.6 0.7-1.7 0.8 1.9 0.7 0.2 0.8-0.4 0.7 0.4 0.8-1 0.7 0.6 0.8-0.2 0.7 0.3 0.8-0.1 0.7 0.1 0.8-0.5 0.7 0.2 0.8-0.8 0.7 1 0.8-1.4 0.7 1.7 0.8 1 0.7-1.4 0.8 0 0.7 0.3 0.8 0.3 0.7 0.2 0.8-0.8 0.7 0.2 0.8 0.4 0.7 0 0.7-0.9 0.8 1 0.7 0.8 0.8-2.1 0.7 0.8 0.8 0.1 0.7-0.4 0.8-0.2 0.7 1.8 0.8-0.8 0.7 0.1 0.8 0.3 0.7-1.2 0.8 1.4 0.7-1.1 0.8 1.1 0.7-0.7 0.8 0.9 0.7-0.5 0.8-0.3 0.7 0.6 0.8-0.9 0.7 0.7 0.8-1.2 0.7 0.8 0.8 1.2 0.7-0.6 0.8-1.1 0.7 1.4 0.8-0.9 0.7 0.4 0.8-0.4 0.7 0.6 0.8-0.7 0.7 1.1 0.8-0.9 0.7-0.2 0.8 0.1 0.7-0.5 0.8 1.2 0.7 0.3 0.8 0.1 0.7-0.5 0.8-0.3 0.7 0.9 0.8 0 0.7-1.2 0.8-0.3 0.7 0.4 0.7 0.3 0.8 0.7 0.7 0 0.8-0.4 0.7 0.5 0.8-0.8 0.7 0.1 0.8-1.3 0.7 1.1 0.8 0.1 0.7 0.9 0.8-0.8 0.7-0.1 0.8 0.3 0.7-0.3 0.8-0.9 0.7 0.8 0.8 0.3 0.7 0 0.8-0.3 0.7 0.2 0.8 0.6 0.7-1.2 0.8 0.7 0.7-0.2 0.8 0.3 0.7 0.1 0.8 0.4 0.7-1.9 0.8 1.4 0.7-0.5 0.8-0.3 0.7 1.1 0.8 0 0.7-0.5 0.8 0.3 0.7-0.3 0.8 1.3 0.7 0.2 0.8-0.3 0.7-1.4 0.8 1.1 0.7-0.2 0.8-0.1 0.7-0.1 0.8-0.1 0.7-0.2 0.8 0 0.7-0.1 0.7 1.9 0.8-1 0.7-0.7 0.8 0 0.7 0.7 0.8 0.8 0.7-0.1 0.8-1.5 0.7-0.2 0.8 0.4 0.7 0.5 0.8-0.4 0.7-0.1 0.8 1.6 0.7-1.9 0.8 1.1 0.7-0.5 0.8-0.2 0.7 1.5 0.8-1.9 0.7 1 0.8-0.3 0.7-0.3 0.8 0.2 0.7 0.3 0.8 1.5 0.7-1.2 0.8-0.5 0.7-0.6 0.8 0.9 0.7 0.4 0.8 1.2 0.7-2.6 0.8 0.1 0.7-0.2 0.8 0.2 0.7 1.6 0.8-0.7 0.7-0.4 0.8 0.5 0.7-0.1 0.8 0 0.7 0.8 0.8-0.2 0.7-0.7 0.8 1 0.7-0.2 0.8-0.7 0.7-0.1 0.8 0 0.7-0.3 0.7-0.7 0.8 2 0.7 0.1 0.8-2.2 0.7 1.3 0.8-0.4 0.7 0.3 0.8 0.5 0.7 0.5 0.8-0.4 0.7 0.2 0.8 0.2 0.7-0.5 0.8 0.6 0.7-0.2 0.8-0.9 0.7 0.9 0.8-0.7 0.7 0.9 0.8 0 0.7-1.5 0.8 1.2 0.7-0.9 0.8 0.3 0.7 0 0.8 0.6 0.7 0.1 0.8-0.4 0.7-1.2 0.8 1.6 0.7 0.4 0.8-2.3 0.7 1.3 0.8 0 0.7 0.5 0.8-0.3 0.7 0.8 0.8-0.9 0.7-0.2 0.8-0.7 0.7 0.1 0.8 1 0.7 0.5 0.8-1 0.7 1 0.8-0.6 0.7 0.8 0.8 0.3 0.7-0.5 0.8-0.8 0.7 1.2 0.7-0.5 0.8-0.1 0.7 0.2 0.8 0.2 0.7 0.3 0.8-1.5 0.7 1.6 0.8-0.6 0.7 0.6 0.8-0.8 0.7 0.6 0.8 0.1 0.7 0.2 0.8-1 0.7 1.1 0.8-1.2 0.7-0.4 0.8 0.3 0.7-0.3 0.8 1.6 0.7-0.2 0.8-1.7 0.7 1 0.8 0.3 0.7 0 0.8-0.5 0.7 0 0.8 0.9 0.7-0.6 0.8-0.4 0.7 0.7 0.8-0.6 0.7 0.3 0.8 0.6 0.7-0.6 0.8 1.7 0.7-2.4 0.8 0.3 0.7 1.5 0.8-0.8 0.7-0.2 0.8 0.7 0.7-0.7 0.8-0.4 0.7 1.5 0.8-0.8 0.7 0 0.8 0 0.7-0.1 0.7-0.5 0.8 0 0.7-0.4 0.8 1.5 0.7-0.5 0.8-0.1 0.7-0.8 0.8 0.1 0.7 0.6 0.8 0.4 0.7-0.2 0.8 0 0.7-0.4 0.8 1 0.7-0.3 0.8 0.6 0.7-0.5 0.8-0.9 0.7 0.3 0.8 0.3 0.7 0.8 0.8-0.7 0.7 0 0.8 0.9 0.7-0.3 0.8-0.2 0.7-1.4 0.8 0.9 0.7 1.4 0.8-0.8 0.7 0.4 0.8 0.3 0.7-0.6 0.8-1.6 0.7 1.4 0.8-0.4 0.7-0.4 0.8 1.2 0.7-1 0.8 1.2 0.7-0.5 0.8-0.6 0.7-0.2 0.8 1.6 0.7-1.2 0.8 0.4 0.7-0.2 0.8-0.5 0.7 0.3 0.8 0.1 0.7-0.9 0.7 0.6 0.8-0.1 0.7 0.7 0.8 0 0.7-0.9 0.8 0.4 0.7 0.5 0.8-0.6 0.7-0.5 0.8 1.5 0.7-0.5 0.8-0.1 0.7-0.1 0.8 0.5 0.7-0.5 0.8 0.3 0.7 0.7 0.8 0.2 0.7 0.1 0.8-1.6 0.7 0.6 0.8-0.7 0.7 0.1 0.8-0.1 0.7 0.6 0.8-0.1 0.7-0.3 0.8 0.6 0.7 0.3 0.8-0.6 0.7-0.1 0.8 0.9 0.7-0.6 0.8 0.3 0.7-0.7 0.8 0.9 0.7 0.2 0.8-1.1 0.7 0 0.8 0.4 0.7 0.6 0.8 0.1 0.7 0.3 0.8-1.2 0.7-0.7 0.8 0.7 0.7 0.6 0.8 0.2 0.7-1.1"/>
<path d="M124 501.4l0.8-0.6 0.7-1.1 0.8 1.3 0.7-0.6 0.8 0 0.7 0.2 0.8-0.2 0.7 1 0.8-0.4 0.7-0.8 0.8 0.1 0.7 0.7 0.8-0.6 0.7-0.4 0.8-0.4 0.7 0.1 0.8 1.6 0.7-0.3 0.8-0.7 0.7-0.3 0.8 0.9 0.7-0.1 0.8-1 0.7 0.7 0.8 0 0.7-0.3 0.8-0.1 0.7 0.4 0.8-0.9 0.7 0.9 0.8 0.1 0.7-0.4 0.8-0.1 0.7 1 0.8-0.8 0.7-0.4 0.8 1.5 0.7-1.6 0.8 0 0.7 0.8 0.8-0.8 0.7 0.9 0.8-0.2 0.7 0.7 0.8-0.8 0.7 0.3 0.8-0.2 0.7 0.3 0.8-0.1 0.7-1.1 0.7-0.4 0.8 0.5 0.7 0.3 0.8 0.5 0.7-0.5 0.8 0.8 0.7-1.2 0.8 0.5 0.7 0.9 0.8-0.7 0.7 0.3 0.8-1 0.7 0.3 0.8 0.2 0.7-0.5 0.8-0.5 0.7 1.2 0.8-0.7 0.7 0.2 0.8-0.5 0.7 0.7 0.8-0.3 0.7-1 0.8 0.9 0.7-0.5 0.8 0.9 0.7-2.4 0.8 2 0.7-0.6 0.8 0.9 0.7-0.3 0.8-1.4 0.7 1 0.8 0.9 0.7-0.4 0.8-2.1 0.7 2.1 0.8-0.5 0.7-0.5 0.8-0.6 0.7 0.6 0.8 0.3 0.7 1.1 0.8-3 0.7 0.9 0.8-0.7 0.7 0.9 0.8-0.1 0.7-0.1 0.7-0.1 0.8-0.7 0.7 0.8 0.8-0.6 0.7 1.7 0.8-0.8 0.7-0.2 0.8-0.3 0.7 0.7 0.8-0.5 0.7-0.3 0.8-0.6 0.7 1.1 0.8-1.7 0.7 0.4 0.8 0.2 0.7 0 0.8-0.1 0.7 0.8 0.8 0.8 0.7-1.3 0.8 1.1 0.7-2.1 0.8 0.8 0.7 0.4 0.8-1.6 0.7 1.5 0.8-0.8 0.7 1 0.8-1.7 0.7 0.8 0.8-0.1 0.7 1.3 0.8-1.2 0.7-0.3 0.8 0.6 0.7 0 0.8-1.2 0.7-0.1 0.8 1.8 0.7-0.1 0.8-1 0.7 0.4 0.8-1.1 0.7 0.3 0.8 1.3 0.7-1.4 0.8-0.9 0.7 0.3 0.8 2 0.7-1.6 0.7-0.6 0.8 1.3 0.7-1 0.8 1.2 0.7-1.8 0.8 1.8 0.7-0.9 0.8 0.5 0.7-0.3 0.8-0.1 0.7 0.2 0.8-1 0.7 1.1 0.8-0.3 0.7-0.3 0.8 0.7 0.7-1 0.8 0.5 0.7-1.5 0.8 0.5 0.7 1.3 0.8-0.8 0.7-0.6 0.8 1.6 0.7-1.7 0.8 1.7 0.7-1.1 0.8-1.3 0.7 2.1 0.8 0.1 0.7-0.7 0.8-1 0.7 0.4 0.8-1.1 0.7 1.1 0.8-0.7 0.7 0.9 0.8 0.5 0.7-1.6 0.8 0.8 0.7 0.6 0.8-1.1 0.7 0.5 0.8-0.2 0.7 0.2 0.8 0 0.7 0.2 0.8-0.6 0.7 0.9 0.8-0.6 0.7-0.2 0.7 0.5 0.8-1 0.7 0.6 0.8 0.5 0.7-0.5 0.8-0.5 0.7 0.3 0.8 0 0.7-1.8 0.8 1.6 0.7-1.6 0.8 1.2 0.7 0.1 0.8-0.2 0.7 0.9 0.8-0.3 0.7-0.9 0.8 0.8 0.7-1 0.8-0.2 0.7 0.6 0.8-0.3 0.7 0.1 0.8 0.2 0.7-0.4 0.8 1.8 0.7-1 0.8-0.7 0.7 0.1 0.8 0.7 0.7-0.4 0.8 0.3 0.7-2.3 0.8 1.3 0.7 0.8 0.8-0.3 0.7 0.3 0.8-1 0.7-0.8 0.8 1.8 0.7-0.1 0.8-1.4 0.7 0.5 0.8 0.7 0.7-0.6 0.8 1.9 0.7-1.3 0.8-0.1 0.7-1 0.7-0.1 0.8 1.8 0.7-0.9 0.8 0.4 0.7-0.8 0.8-0.5 0.7 0.9 0.8 0.5 0.7 0.4 0.8-1 0.7 0.3 0.8-0.7 0.7 1.4 0.8-0.5 0.7-1.2 0.8 0.8 0.7-0.5 0.8 0.4 0.7 0.8 0.8-1.1 0.7 0.7 0.8 0.5 0.7-1.3 0.8 0.8 0.7 0.1 0.8-1.1 0.7 1 0.8-0.4 0.7-0.3 0.8-0.2 0.7 0.4 0.8 0.1 0.7 1.3 0.8-1.2 0.7 0.5 0.8 0.2 0.7 0.2 0.8-1.8 0.7 1.3 0.8 0.1 0.7-0.6 0.8 0.5 0.7-1.1 0.8-0.9 0.7 1.1 0.8 1 0.7 0.3 0.8-1 0.7 0.7 0.8-1.1 0.7 0.1 0.7 0.5 0.8 0.3 0.7-0.1 0.8 1 0.7-1.1 0.8 0.2 0.7 0 0.8 0.7 0.7-0.9 0.8 0.6 0.7-0.6 0.8 0.4 0.7 0.2 0.8-0.7 0.7-0.4 0.8 0.9 0.7-1.5 0.8 1.8 0.7-0.1 0.8 0.2 0.7-0.4 0.8 0 0.7-0.3 0.8-0.4 0.7 0.5 0.8-0.6 0.7 0.9 0.8-0.2 0.7 0.7 0.8-0.6 0.7-0.5 0.8 0.7 0.7-0.5 0.8 0.8 0.7 0.2 0.8-1.8 0.7 1.4 0.8-1.3 0.7 1.3 0.8 0 0.7-0.2 0.8-0.5 0.7 0.3 0.8-0.3 0.7 0.5 0.8-0.6 0.7 0.4 0.8 1.6 0.7-0.6 0.7-0.1 0.8-1 0.7 0.6 0.8-0.3 0.7 0 0.8-0.6 0.7 0.9 0.8-0.5 0.7 0.1 0.8 0.9 0.7-1.6 0.8 0.5 0.7 0 0.8 0.6 0.7 0.2 0.8-0.4 0.7 0.2 0.8-0.2 0.7 0.8 0.8-1.2 0.7-0.1 0.8 1.1 0.7-1 0.8 0.5 0.7-1.1 0.8 0.2 0.7 0.8 0.8-0.3 0.7 0.3 0.8 0.4 0.7-0.7 0.8 0.4 0.7-0.1 0.8-0.8 0.7 1.3 0.8-1.2 0.7 0.6 0.8 0.2 0.7-0.3 0.8 0 0.7 1.3 0.8-1.9 0.7 0.8 0.8 0.6 0.7-0.3 0.8-0.5 0.7-1 0.8 1.7 0.7-0.1 0.7 0 0.8-1.6 0.7 1.4 0.8-0.1 0.7 0.3 0.8-0.8 0.7-0.5 0.8 1.3 0.7-0.4 0.8 0.3 0.7-1.1 0.8 0.5 0.7 0.5 0.8-0.3 0.7-0.1 0.8-0.1 0.7-0.5 0.8 0.4 0.7-0.1 0.8 0.8 0.7-1.2 0.8 1.5 0.7-0.2 0.8-0.9 0.7 0.5 0.8-0.6 0.7-0.1 0.8 1 0.7-0.8 0.8 0.1 0.7-0.7 0.8 1.3 0.7-0.6 0.8 1.2 0.7 0.3 0.8 0.2 0.7-0.2 0.8-0.7 0.7 0.1 0.8 0.3 0.7-0.2 0.8-0.5 0.7 0.6 0.8-0.4 0.7-0.3 0.8 0 0.7-0.5 0.8 0.4 0.7 0.6 0.8-0.8 0.7 0.9 0.7-0.4 0.8 0.4 0.7-1 0.8 0.1 0.7 0.8 0.8-0.4 0.7 0.4 0.8-0.7 0.7 0.2 0.8 0.4 0.7 0 0.8-0.1 0.7 1.1 0.8-1.2 0.7 0.1 0.8 0.5 0.7-0.8 0.8 1.2 0.7-1.2 0.8-0.4 0.7 0.7 0.8 0.5 0.7-0.6 0.8 0.1 0.7 0.5 0.8-0.1 0.7-1.1 0.8 1.6 0.7-1.3 0.8 0.5 0.7-0.4 0.8-0.9 0.7 1 0.8 0.3 0.7-1.2 0.8 0.8 0.7 0.4 0.8-0.9 0.7 0.7 0.8 0.1 0.7-0.6 0.8 1.6 0.7-1.8 0.8 0.8 0.7-1 0.8 1.3 0.7-0.3 0.8-0.4 0.7 0.9 0.8-1.3 0.7 1.2 0.7-0.9 0.8 0.7 0.7 0 0.8-0.1 0.7-0.6 0.8 0.6 0.7-0.1 0.8 0.2 0.7 0.2 0.8-0.2 0.7-0.6 0.8 0.5 0.7-1 0.8 1.2 0.7 0.5 0.8-0.4 0.7-0.3 0.8-1.3 0.7 1.7 0.8-0.4 0.7 0.8 0.8-0.6 0.7-1.5 0.8 0.9 0.7-0.5 0.8 0.3 0.7 1.3 0.8-0.6 0.7 0 0.8 0.3 0.7 0.9 0.8-0.6 0.7-1.5 0.8 1.5 0.7-0.5 0.8-1.2 0.7 0.7 0.8 1.3 0.7-2.3 0.8 1.7 0.7-0.9 0.8-0.6 0.7 1.7 0.8-0.7 0.7 0.1 0.8 0.1 0.7 0.4 0.8-1.1 0.7 1.1 0.7 0.3 0.8 0.6 0.7-1.8 0.8 1 0.7-0.5 0.8 0 0.7 0.1 0.8 0.2 0.7 0.1 0.8-0.4 0.7 0 0.8 0.8 0.7-1.1 0.8 0.6 0.7-0.7 0.8-0.9 0.7 1.1 0.8 0.4 0.7 0 0.8 0.1 0.7 0.1 0.8-0.3 0.7 0.1 0.8 0.2 0.7 0.2 0.8-0.8 0.7 0.9 0.8-1.6 0.7 1 0.8-1.4 0.7 0.6 0.8 2 0.7-1.6 0.8 0 0.7 0.3 0.8-0.6 0.7 0.9 0.8-1.6 0.7 1.3 0.8-0.6 0.7-0.5 0.8 1.7 0.7 0.2 0.8-0.7 0.7 0.1 0.8 0.5 0.7-0.5 0.8 0.2 0.7 0.2 0.8-0.3 0.7-0.1 0.7 0 0.8 0.9 0.7-1.9 0.8 1.1 0.7 0.5 0.8-1 0.7 0 0.8 0.2 0.7-0.4 0.8 1.4 0.7-0.7 0.8-0.4 0.7 0.5 0.8 0.4 0.7-1.4 0.8 1.1 0.7 0 0.8-0.6 0.7 0.5 0.8 0 0.7-0.4 0.8 0.8 0.7 0.2 0.8 0 0.7-1.1 0.8 0.7 0.7-0.6 0.8 1.5 0.7-2 0.8 0 0.7 1 0.8 0 0.7-0.8 0.8 0.9 0.7-0.1 0.8 0.1 0.7-0.1 0.8-0.1 0.7 0.1 0.8 0.2 0.7-0.7 0.8 1.1 0.7 0 0.8-0.8 0.7-0.6 0.8 0.7 0.7 0.6 0.8-0.1 0.7-1.4"/>
</g>
<rect x="292.97" y="222.54" width="6.7" height="7.6" fill="#ff2200"/>
<rect x="292.97" y="302.99" width="6.7" height="7.6" fill="#ff2200"/>
<rect x="292.97" y="377.08" width="6.7" height="7.6" fill="#ff2200"/>
<rect x="292.97" y="428.85" width="6.7" height="7.6" fill="#ff2200"/>
<rect x="292.97" y="458.45" width="6.7" height="7.6" fill="#ff2200"/>
<rect x="292.97" y="475.97" width="6.7" height="7.6" fill="#ff2200"/>
<rect x="158" y="500" width="7" height="9" fill="#ff2200"/>
<g fill="none" stroke="#000" stroke-width="3.6" stroke-linejoin="round" stroke-linecap="round">
<path d="M124 500l37.5 0 6.2-28.8 6.3-26.7 3.2-12.4 3.4-12.5 3.4-11.8 3.3-11.2 3.6-11.2 3.6-10.5 3.5-10 3.8-9.9 3.7-9.3 3.9-9.2 4-8.7 3.9-8.1 4.1-7.9 4.1-7.5 4.3-7.3 4.4-6.8 4.4-6.6 4.5-6.2 4.7-5.9 4.9-5.8 4.9-5.3 5-5.1 5.3-4.8 5.4-4.7 5.6-4.3 5.6-4 5.8-3.8 6-3.6 37.1 12.8 37.6 12.4 38.2 11.9 39 11.5 39.7 11.2 40.2 10.8 41 10.4 41.8 10"/>
<path d="M124 500l37.5 0 7.1-16.4 7.1-15.5 7.3-14.9 7.5-14.3 7.7-13.8 7.9-13.1 8-12.6 8.3-12 8.4-11.5 8.6-10.8 8.8-10.3 9.2-9.9 9.3-9.3 9.6-8.8 9.9-8.4 10.1-7.8 37.1 8.7 37.6 8.5 38.4 8.2 39 8 39.7 7.7 40.2 7.4 41 7.2 41.6 6.9"/>
<path d="M124 500l37.5 0 7.7-8.8 7.7-8.6 7.8-8.3 7.9-8.1 8-8 8.1-7.6 8.2-7.5 8.3-7.2 8.4-7 8.6-6.9 8.6-6.7 8.8-6.4 9-6.4 9.2-6.2 9.2-5.9 9.3-5.7 37.1 5.3 37.8 5.1 38.2 4.9 39 4.8 39.7 4.7 40.2 4.5 41 4.3 41.6 4.2"/>
<path d="M124 500l37.5 0 15.9-9 16.1-8.6 16.3-8.3 16.7-8.1 17-7.8 17.2-7.5 17.6-7.2 18-7.1 74.9 5.7 77.4 5.2 79.7 5 82.6 4.6"/>
<path d="M124 500l37.5 0 32.4-9.1 33.3-8.7 34.1-8.3 35-7.8 74.7 3.2 77.2 3 79.9 2.8 82.8 2.6"/>
<path d="M124 500l37.5 0 32.8-4.4 33.3-4.1 34.1-4.1 34.6-3.8 151.9 3 162.7 2.5"/>
<path d="M124 500l37.5 0 66.3-3.8 68.5-3.6 314.6 1.5"/>
</g>
<g stroke="#000" stroke-width="3.4" fill="none">
<path d="M124.2 188.3V517.3"/>
<path d="M122.5 515.6H612.6"/>
<path d="M110.2 500H124.2M110.2 438H124.2M110.2 376H124.2M110.2 314H124.2M110.2 252H124.2M110.2 190H124.2M161.5 515.6V529.3M236.4 515.6V529.3M311.3 515.6V529.3M386.2 515.6V529.3M461.1 515.6V529.3M536 515.6V529.3M610.9 515.6V529.3"/>
</g>
<g font-weight="bold">
<text transform="translate(105.2,511) scale(1,1.030)" font-size="31.5" text-anchor="end">0</text>
<text transform="translate(105.2,449) scale(1,1.030)" font-size="31.5" text-anchor="end">20</text>
<text transform="translate(105.2,387) scale(1,1.030)" font-size="31.5" text-anchor="end">40</text>
<text transform="translate(105.2,325) scale(1,1.030)" font-size="31.5" text-anchor="end">60</text>
<text transform="translate(105.2,263) scale(1,1.030)" font-size="31.5" text-anchor="end">80</text>
<text transform="translate(105.2,201) scale(1,1.030)" font-size="31.5" text-anchor="end"> 00</text><use href="#ob" transform="translate(105.2,201) scale(1,1.030) translate(-52.55,0.00) scale(31.500,-31.500)"/>
<text transform="translate(161.5,563.3) scale(1,1.030)" font-size="31.5" text-anchor="middle">0</text>
<text transform="translate(236.4,563.3) scale(1,1.030)" font-size="31.5" text-anchor="middle"> 00</text><use href="#ob" transform="translate(236.4,563.3) scale(1,1.030) translate(-26.27,0.00) scale(31.500,-31.500)"/>
<text transform="translate(311.3,563.3) scale(1,1.030)" font-size="31.5" text-anchor="middle">200</text>
<text transform="translate(386.2,563.3) scale(1,1.030)" font-size="31.5" text-anchor="middle">300</text>
<text transform="translate(461.1,563.3) scale(1,1.030)" font-size="31.5" text-anchor="middle">400</text>
<text transform="translate(536,563.3) scale(1,1.030)" font-size="31.5" text-anchor="middle">500</text>
<text transform="translate(610.9,563.3) scale(1,1.030)" font-size="31.5" text-anchor="middle">600</text>
</g>
<text transform="translate(369.05,614.9) scale(1,1.075)" font-size="37.85" text-anchor="middle">Time (s)</text>
<text transform="translate(44.5,347.8) rotate(-90) scale(1,1.066)" font-size="37.8" text-anchor="middle">Response (RU)</text>
<text transform="translate(135.6,235.4) scale(1,1.055)" font-size="47" font-weight="bold" fill="#ff00ff">4H3</text>
<text transform="translate(6.35,34.8) scale(1,1.056)" font-size="47" font-weight="bold">A</text>
<g transform="translate(0,47.9) scale(1,1.050)" font-size="41.6">
<text x="89.3" y="0">K<tspan font-size="23.5" dy="12.9">D</tspan></text>
<text x="147.3" y="0">= 5.9 nM</text>
</g>
<g transform="translate(0,97.5) scale(1,1.050)" font-size="41.6">
<text x="90.8" y="0" font-style="italic">k<tspan font-size="23.5" dy="13.9">a</tspan></text>
<text x="147.3" y="0"><tspan>=  .7 x 0</tspan><tspan font-size="23.5" dy="-14">5</tspan><tspan dy="14"> M</tspan><tspan font-size="23.5" dy="-14">- </tspan><tspan dy="14">s</tspan><tspan font-size="23.5" dy="-14">- </tspan><tspan dy="14" dx="-4.5"> ± 6.3 x 0</tspan><tspan font-size="23.5" dy="-14">2</tspan></text><use href="#or" transform="translate(183.13,0.00) scale(41.600,-41.600)"/><use href="#or" transform="translate(273.30,0.00) scale(41.600,-41.600)"/><use href="#or" transform="translate(386.66,-14.00) scale(23.500,-23.500)"/><use href="#or" transform="translate(428.36,-14.00) scale(23.500,-23.500)"/><use href="#or" transform="translate(573.02,0.00) scale(41.600,-41.600)"/>
</g>
<g transform="translate(0,146.9) scale(1,1.050)" font-size="41.6">
<text x="90.8" y="0" font-style="italic">k<tspan font-size="23.5" dy="13.9">d</tspan></text>
<text x="147.3" y="0"><tspan>= 9.7 x 0</tspan><tspan font-size="23.5" dy="-14">-4</tspan><tspan dy="14"> s</tspan><tspan font-size="23.5" dy="-14">- </tspan><tspan dy="14" dx="-4.5"> ± 2.  x 0</tspan><tspan font-size="23.5" dy="-14">-6</tspan></text><use href="#or" transform="translate(273.30,0.00) scale(41.600,-41.600)"/><use href="#or" transform="translate(380.63,-14.00) scale(23.500,-23.500)"/><use href="#or" transform="translate(469.82,0.00) scale(41.600,-41.600)"/><use href="#or" transform="translate(525.29,0.00) scale(41.600,-41.600)"/>
</g>
<path d="M812.77 496.5H1298" stroke="#000" stroke-width="3.3" stroke-linecap="round" stroke-dasharray="0 6.5"/>
<g fill="none" stroke="#ff2200" stroke-width="7.6" stroke-linejoin="round" stroke-linecap="round">
<path d="M812.8 496.9l37.3 0 6-28.5 3.1-13.9 3.2-13.3 3.2-12.5 3.2-11.9 3.3-11.9 3.4-11.2 3.3-10.6 3.6-10.6 3.5-9.9 3.8-9.8 3.7-9.3 3.7-8.6 3.9-8.5 4-8 4.1-7.7 4.1-7.3 4.3-7.1 4.3-6.5 4.4-6.4 4.5-5.8 4.7-5.7 4.8-5.4 5.1-5.2 5-4.8 5.2-4.5 5.5-4.3 5.6-4 5.7-3.8 6-3.5 6.2-3.3 37.3 10.4 37.9 10 38.4 9.9 38.8 9.5 39.4 9.2 40 9 40.5 8.8 41.2 8.5"/>
<path d="M812.8 496.9l37.3 0 7.1-16.6 7.1-15.6 7.3-14.9 7.4-14.4 7.7-13.7 7.6-12.8 8.1-12.5 8.2-11.9 8.4-11.2 8.5-10.7 8.8-10.1 9.2-9.6 9.3-9.1 9.5-8.5 9.9-8 10.3-7.7 37.5 6.8 37.9 6.6 38.4 6.4 38.8 6.3 39.4 6.1 39.9 5.9 40.5 5.8 41.1 5.7"/>
<path d="M812.8 496.9l37.3 0 7.5-8.6 7.6-8.5 7.9-8.3 7.8-8 8-7.9 8-7.5 8.3-7.4 8.2-7.1 8.4-7 8.5-6.8 8.8-6.7 8.8-6.3 8.9-6.2 9-6 9.3-5.9 9.4-5.6 75.6 7.7 77.4 7.2 79.3 7 81.2 6.6"/>
<path d="M812.8 496.9l37.3 0 15.9-8.7 16-8.5 16.2-8.1 16.7-7.8 16.9-7.6 17.2-7.3 17.6-7.1 17.9-6.8 75.7 3.9 77.5 3.8 79.3 3.6 81 3.4"/>
<path d="M812.8 496.9l37.3 0 32.3-8.8 33.2-8.3 34-8 34.9-7.7 153 4.2 160.5 3.8"/>
<path d="M812.8 496.9l37.3 0 32.7-4.3 33.2-4.1 33.9-4 34.6-3.9 153.2 2 160.3 1.8"/>
<path d="M812.8 496.9l37.3 0 66.1-4 68.3-3.8 313.5 1.9"/>
</g>
<g fill="none" stroke="#000" stroke-width="3.6" stroke-linejoin="round" stroke-linecap="round">
<path d="M812.8 496.5l37.3 0 6-28.5 3.1-13.9 3.2-13.3 3.2-12.5 3.2-11.9 3.3-11.9 3.4-11.2 3.3-10.6 3.6-10.6 3.5-9.9 3.8-9.8 3.7-9.3 3.7-8.6 3.9-8.5 4-8 4.1-7.7 4.1-7.3 4.3-7.1 4.3-6.5 4.4-6.4 4.5-5.8 4.7-5.7 4.8-5.4 5.1-5.2 5-4.8 5.2-4.5 5.5-4.3 5.6-4 5.7-3.8 6-3.5 6.2-3.3 37.3 10.4 37.9 10 38.4 9.9 38.8 9.5 39.4 9.2 40 9 40.5 8.8 41.2 8.5"/>
<path d="M812.8 496.5l37.3 0 7.1-16.6 7.1-15.6 7.3-14.9 7.4-14.4 7.7-13.7 7.6-12.8 8.1-12.5 8.2-11.9 8.4-11.2 8.5-10.7 8.8-10.1 9.2-9.6 9.3-9.1 9.5-8.5 9.9-8 10.3-7.7 37.5 6.8 37.9 6.6 38.4 6.4 38.8 6.3 39.4 6.1 39.9 5.9 40.5 5.8 41.1 5.7"/>
<path d="M812.8 496.5l37.3 0 7.5-8.6 7.6-8.5 7.9-8.3 7.8-8 8-7.9 8-7.5 8.3-7.4 8.2-7.1 8.4-7 8.5-6.8 8.8-6.7 8.8-6.3 8.9-6.2 9-6 9.3-5.9 9.4-5.6 75.6 7.7 77.4 7.2 79.3 7 81.2 6.6"/>
<path d="M812.8 496.5l37.3 0 15.9-8.7 16-8.5 16.2-8.1 16.7-7.8 16.9-7.6 17.2-7.3 17.6-7.1 17.9-6.8 75.7 3.9 77.5 3.8 79.3 3.6 81 3.4"/>
<path d="M812.8 496.5l37.3 0 32.3-8.8 33.2-8.3 34-8 34.9-7.7 153 4.2 160.5 3.8"/>
<path d="M812.8 496.5l37.3 0 32.7-4.3 33.2-4.1 33.9-4 34.6-3.9 153.2 2 160.3 1.8"/>
<path d="M812.8 496.5l37.3 0 66.1-4 68.3-3.8 313.5 1.9"/>
</g>
<g stroke="#000" stroke-width="3.4" fill="none">
<path d="M813.5 193.1V519.2"/>
<path d="M811.8 517.5H1299.7"/>
<path d="M799.5 496.5H813.5M799.5 453.4H813.5M799.5 410.3H813.5M799.5 367.2H813.5M799.5 324.1H813.5M799.5 281H813.5M799.5 237.9H813.5M799.5 194.8H813.5M850.1 517.5V531.4M924.75 517.5V531.4M999.4 517.5V531.4M1074.05 517.5V531.4M1148.7 517.5V531.4M1223.35 517.5V531.4M1298 517.5V531.4"/>
</g>
<g font-weight="bold">
<text transform="translate(792.5,507.5) scale(1,1.030)" font-size="31.5" text-anchor="end">0</text>
<text transform="translate(792.5,464.4) scale(1,1.030)" font-size="31.5" text-anchor="end"> 00</text><use href="#ob" transform="translate(792.5,464.4) scale(1,1.030) translate(-52.55,0.00) scale(31.500,-31.500)"/>
<text transform="translate(792.5,421.3) scale(1,1.030)" font-size="31.5" text-anchor="end">200</text>
<text transform="translate(792.5,378.2) scale(1,1.030)" font-size="31.5" text-anchor="end">300</text>
<text transform="translate(792.5,335.1) scale(1,1.030)" font-size="31.5" text-anchor="end">400</text>
<text transform="translate(792.5,292) scale(1,1.030)" font-size="31.5" text-anchor="end">500</text>
<text transform="translate(792.5,248.9) scale(1,1.030)" font-size="31.5" text-anchor="end">600</text>
<text transform="translate(792.5,205.8) scale(1,1.030)" font-size="31.5" text-anchor="end">700</text>
<text transform="translate(850.1,565.7) scale(1,1.030)" font-size="31.5" text-anchor="middle">0</text>
<text transform="translate(924.75,565.7) scale(1,1.030)" font-size="31.5" text-anchor="middle"> 00</text><use href="#ob" transform="translate(924.75,565.7) scale(1,1.030) translate(-26.27,0.00) scale(31.500,-31.500)"/>
<text transform="translate(999.4,565.7) scale(1,1.030)" font-size="31.5" text-anchor="middle">200</text>
<text transform="translate(1074.05,565.7) scale(1,1.030)" font-size="31.5" text-anchor="middle">300</text>
<text transform="translate(1148.7,565.7) scale(1,1.030)" font-size="31.5" text-anchor="middle">400</text>
<text transform="translate(1223.35,565.7) scale(1,1.030)" font-size="31.5" text-anchor="middle">500</text>
<text transform="translate(1298,565.7) scale(1,1.030)" font-size="31.5" text-anchor="middle">600</text>
</g>
<text transform="translate(1056.5,616.8) scale(1,1.075)" font-size="37.85" text-anchor="middle">Time (s)</text>
<text transform="translate(712.4,350.7) rotate(-90) scale(1,1.066)" font-size="37.8" text-anchor="middle">Response (RU)</text>
<text transform="translate(825.6,242.5) scale(1,1.055)" font-size="47" font-weight="bold" fill="#2dcd1e">2D3</text>
<text transform="translate(692.7,35.9) scale(1,1.056)" font-size="47" font-weight="bold">B</text>
<g transform="translate(0,44.9) scale(1,1.050)" font-size="41.6">
<text x="782.6" y="0">K<tspan font-size="23.5" dy="12.9">D</tspan></text>
<text x="840.5" y="0">= 8.  nM</text><use href="#or" transform="translate(911.01,0.00) scale(41.600,-41.600)"/>
</g>
<g transform="translate(0,94.5) scale(1,1.050)" font-size="41.6">
<text x="784.1" y="0" font-style="italic">k<tspan font-size="23.5" dy="13.9">a</tspan></text>
<text x="840.5" y="0"><tspan>=  .  x 0</tspan><tspan font-size="23.5" dy="-14">5</tspan><tspan dy="14"> M</tspan><tspan font-size="23.5" dy="-14">- </tspan><tspan dy="14">s</tspan><tspan font-size="23.5" dy="-14">- </tspan><tspan dy="14" dx="-4.5"> ± 2.3 x 0</tspan><tspan font-size="23.5" dy="-14">2</tspan></text><use href="#or" transform="translate(876.33,0.00) scale(41.600,-41.600)"/><use href="#or" transform="translate(911.01,0.00) scale(41.600,-41.600)"/><use href="#or" transform="translate(966.50,0.00) scale(41.600,-41.600)"/><use href="#or" transform="translate(1079.86,-14.00) scale(23.500,-23.500)"/><use href="#or" transform="translate(1121.56,-14.00) scale(23.500,-23.500)"/><use href="#or" transform="translate(1266.22,0.00) scale(41.600,-41.600)"/>
</g>
<g transform="translate(0,144.3) scale(1,1.050)" font-size="41.6">
<text x="784.1" y="0" font-style="italic">k<tspan font-size="23.5" dy="13.9">d</tspan></text>
<text x="840.5" y="0"><tspan>= 8.6 x 0</tspan><tspan font-size="23.5" dy="-14">-4</tspan><tspan dy="14"> s</tspan><tspan font-size="23.5" dy="-14">- </tspan><tspan dy="14" dx="-4.5"> ±  .  x 0</tspan><tspan font-size="23.5" dy="-14">-6</tspan></text><use href="#or" transform="translate(966.50,0.00) scale(41.600,-41.600)"/><use href="#or" transform="translate(1073.83,-14.00) scale(23.500,-23.500)"/><use href="#or" transform="translate(1128.34,0.00) scale(41.600,-41.600)"/><use href="#or" transform="translate(1163.02,0.00) scale(41.600,-41.600)"/><use href="#or" transform="translate(1218.49,0.00) scale(41.600,-41.600)"/>
</g>
<path d="M132.44 1138.9H612.98" stroke="#000" stroke-width="3.3" stroke-linecap="round" stroke-dasharray="0 6.5"/>
<g fill="none" stroke="#ff2200" stroke-width="7.6" stroke-linejoin="round" stroke-linecap="round">
<path d="M132.4 1137.9l0.8 0.4 0.7-0.5 0.8 0.1 0.7 0.6 0.7 0 0.8 0.2 0.7-0.7 0.7 0.6 0.8 1.8 0.7-3.1 0.8 1.3 0.7-1 0.7 1 0.8 0.3 0.7 0.2 0.8-0.2 0.7-1 0.7 0.5 0.8-0.9 0.7 1.9 0.8-0.6 0.7-0.8 0.7 0.2 0.8 1.4 0.7-0.9 0.8-1.2 0.7 1.1 0.7 0.5 0.8-1.3 0.7 1.2 0.8-0.9 0.7 0.5 0.7-0.8 0.8 1.8 0.7-1.7 0.7 0.8 0.8-0.1 0.7 0.1 0.8 1.3 0.7-2.3 0.7 1.1 0.8-0.6 0.7 0.9 0.8-1.1 0.7 0.8 0.7-1.1 0.8 0.3 0.7 1.2 0.8-1.3 0.7 1.6 0.7-3.7 0.8-0.8 0.7-3.1 0.8-1.4 0.7-1.7 0.7-1.9 0.8-3.7 0.7-2.6 0.8-1.6 0.7-1.4 0.7-1.3 0.8-3.5 0.7-1.9 0.8-0.7 0.7-2.6 0.7-2.2 0.8-2.3 0.7-1.8 0.7-2.7 0.8-1.1 0.7-1.8 0.8-2.3 0.7-3.2 0.7 0 0.8-2.4 0.7-1.3 0.8-2.5 0.7-2.8 0.7-0.2 0.8-2.2 0.7-2.7 0.8-1.2 0.7-2.4 0.7-1.1 0.8-2.1 0.7-1.8 0.8-2.2 0.7-2.5 0.7-0.7 0.8-2.1 0.7-1.7 0.8-1.6 0.7-2.5 0.7-0.1 0.8-3.3 0.7-1.9 0.7-0.7 0.8-3.1 0.7-0.9 0.8-2.2 0.7-1.5 0.7-2.3 0.8-1.6 0.7-1.3 0.8-1.1 0.7-1.6 0.7-2 0.8-1.7 0.7 0.4 0.8-3.9 0.7-0.9 0.7-0.9 0.8-2.2 0.7-1.7 0.8-1.5 0.7-2.2 0.7-1.4 0.8-0.2 0.7-2.1 0.8-2.7 0.7-0.4 0.7-2.3 0.8-0.2 0.7-2.3 0.7-1.6 0.8-0.5 0.7-2 0.8-1.3 0.7-2 0.7-2.2 0.8-0.4 0.7-1.9 0.8-0.7 0.7-2.2 0.7-0.6 0.8-2.4 0.7-1.3 0.8-1.8 0.7 0.1 0.7-1.4 0.8-2 0.7-1.5 0.8-1.9 0.7-0.6 0.7-0.5 0.8-2.4 0.7-1 0.8-2.5 0.7-0.1 0.7-1.3 0.8-1.4 0.7-2.2 0.7 0.3 0.8-3.4 0.7 0.2 0.8-1.4 0.7-1.1 0.7-2.5 0.8-1.5 0.7-0.6 0.8-0.8 0.7-0.8 0.7-1.2 0.8-1.4 0.7-0.6 0.8-2 0.7-1.8 0.7-1 0.8 0 0.7-2.9 0.8-1.4 0.7-0.5 0.7-0.7 0.8-1.7 0.7 0.1 0.8-2.2 0.7-0.6 0.7-2.2 0.8-0.3 0.7-2.6 0.7 0.8 0.8-1.8 0.7-1.1 0.8 0 0.7-2.7 0.7-0.1 0.8-1.7 0.7 0.2 0.8-2.8 0.7-0.5 0.7-0.2 0.8-1.6 0.7-2.3 0.8-0.8 0.7-0.6 0.7-1.2 0.8-0.5 0.7-0.7 0.8-1.4 0.7-1.6 0.7 0.3 0.8-0.8 0.7-1.9 0.8-1.9 0.7-1.8 0.7 1.3 0.8-2.8 0.7-0.2 0.7-1 0.8-0.9 0.7-1.4 0.8-0.8 0.7 0.1 0.7-2.4 0.8-0.4 0.7-0.1 0.8-2 0.7-0.9 0.7-0.3 0.8-0.9 0.7-1.9 0.8-0.2 0.7-1.6 0.7-0.1 0.8-0.5 0.7-1.4 0.8-1.4 0.7-0.2 0.7-2.6 0.8 0.8 0.7-1.4 0.8 1.9 0.7-0.8 0.7 0.1 0.8-0.3 0.7 0.1 0.7 0.5 0.8-1.1 0.7 0.6 0.8-1 0.7 1.2 0.7 0.1 0.8-0.2 0.7 0.2 0.8 0 0.7 1.2 0.7-0.8 0.8-0.5 0.7-0.3 0.8-0.4 0.7 0.6 0.7-0.3 0.8 0.8 0.7-1 0.8-0.2 0.7 0.4 0.7 0.6 0.8-0.5 0.7 0.4 0.8-1.1 0.7 0.5 0.7 0.2 0.8 0.3 0.7 0.1 0.7 0.3 0.8-1.4 0.7 0.2 0.8-0.1 0.7 1.5 0.7-1.2 0.8 0 0.7 0 0.8 1 0.7-0.7 0.7-0.4 0.8 0.3 0.7-0.4 0.8 0.7 0.7 0.7 0.7-0.8 0.8-0.2 0.7-0.3 0.8 0.8 0.7 0.8 0.7-2 0.8 0.1 0.7 1.8 0.8-0.8 0.7-0.6 0.7 0.2 0.8 0.3 0.7 0.3 0.7-1.2 0.8 1.7 0.7-1.5 0.8 0.2 0.7-0.4 0.7 0.6 0.8 0.1 0.7 0.1 0.8 0 0.7 0.7 0.7 0.2 0.8-0.6 0.7-0.2 0.8 1 0.7-0.3 0.7-0.7 0.8 0.1 0.7 0 0.8-0.4 0.7 0.8 0.7-1.3 0.8 1.5 0.7-2 0.8 0.3 0.7 0.4 0.7 1.6 0.8-0.8 0.7-1.2 0.8 0.9 0.7 0.8 0.7-0.1 0.8-0.4 0.7-0.3 0.7-0.3 0.8 1 0.7-0.4 0.8-0.6 0.7 0.6 0.7 0.2 0.8-1.2 0.7 0.1 0.8 0.2 0.7 0.8 0.7-0.8 0.8 0.8 0.7-0.6 0.8 0.4 0.7-1.8 0.7 1.7 0.8-0.9 0.7 1.4 0.8-0.1 0.7 0.3 0.7-0.7 0.8-0.9 0.7 0.2 0.8 0.6 0.7-0.7 0.7-0.2 0.8 1.1 0.7 0.1 0.7-0.3 0.8-1.3 0.7 0.7 0.8 0.6 0.7 0 0.7-0.3 0.8 0.3 0.7 0.5 0.8-0.9 0.7 0.2 0.7 0.4 0.8 0.8 0.7-0.5 0.8-0.6 0.7 0 0.7-0.4 0.8 1 0.7-1.1 0.8 0.6 0.7 0.5 0.7 0.2 0.8-0.5 0.7-0.4 0.8 0.5 0.7-0.6 0.7 0.8 0.8-0.4 0.7-0.4 0.7 1 0.8-0.7 0.7-0.5 0.8 0.2 0.7 0.9 0.7-1.5 0.8 0.3 0.7 0.4 0.8 0 0.7-0.9 0.7 0.4 0.8 1.3 0.7 0.1 0.8-0.8 0.7 0.2 0.7 0.4 0.8-0.6 0.7-0.7 0.8 2 0.7-1.4 0.7 0.3 0.8 0.3 0.7-0.4 0.8 0.4 0.7-0.7 0.7-0.8 0.8 1.5 0.7-0.6 0.7 0.6 0.8-0.7 0.7-0.5 0.8 1.3 0.7-0.2 0.7-0.1 0.8 0.1 0.7-0.7 0.8 0 0.7 1.1 0.7-0.7 0.8 0 0.7-0.3 0.8 0.9 0.7-1 0.7 0.5 0.8-1.3 0.7 0.5 0.8 0.2 0.7 1 0.7-0.1 0.8 0 0.7-0.5 0.8-0.1 0.7 1.3 0.7-1.9 0.8 2 0.7-0.3 0.7-1.6 0.8 1.5 0.7-0.7 0.8-0.5 0.7 0.1 0.7-0.4 0.8 0.9 0.7-0.6 0.8 0.5 0.7-1.6 0.7 1.2 0.8-0.3 0.7 1.2 0.8-0.1 0.7-1 0.7 1.3 0.8-1.1 0.7-0.3 0.8 1 0.7 0.4 0.7-1 0.8 0 0.7 0.9 0.8-1.2 0.7 1.6 0.7-0.1 0.8-0.6 0.7 0.1 0.7-0.6 0.8-0.6 0.7-0.1 0.8 0.6 0.7-0.2 0.7 0.6 0.8 0 0.7 0.1 0.8-0.5 0.7-0.7 0.7 0 0.8 0.7 0.7 0 0.8 0.6 0.7-1.2 0.7 1.7 0.8-0.2 0.7-0.5 0.8-0.1 0.7 1 0.7-1.4 0.8 0.8 0.7-1.1 0.8 1.1 0.7-0.4 0.7-0.6 0.8 0.7 0.7-0.4 0.7 0.2 0.8 0.3 0.7 0.6 0.8-0.2 0.7-0.7 0.7-0.3 0.8 0.6 0.7 0.3 0.8-0.6 0.7-1 0.7 1.1 0.8-0.8 0.7 1.1 0.8 0.1 0.7-0.2 0.7 0.4 0.8-1 0.7 0.2 0.8 0.2 0.7 1 0.7 0 0.8-0.8 0.7 0.9 0.8-2.1 0.7 0.4 0.7 1.1 0.8-1.3 0.7 0.3 0.7 1.4 0.8-1.1 0.7-0.2 0.8 1.5 0.7-2 0.7 0.9 0.8 0 0.7-0.1 0.8 0.2 0.7-1 0.7 0.1 0.8 0.8 0.7-0.4 0.8 0.5 0.7-0.3 0.7 0.1 0.8-0.8 0.7 0.9 0.8-0.8 0.7 1 0.7 1 0.8-1.6 0.7 1.1 0.8 0.1 0.7-1 0.7 0 0.8-0.1 0.7 0.6 0.7 0.3 0.8-0.3 0.7 0.1 0.8-0.7 0.7 0.9 0.7-1.3 0.8 1.4 0.7 0.1 0.8-1.9 0.7 0.2 0.7 0.6 0.8-0.7 0.7 0.4 0.8 1.5 0.7 0.1 0.7-1.5 0.8-0.5 0.7 1.3 0.8-0.6 0.7 0.3 0.7 0.2 0.8-0.2 0.7 0.1 0.8 0.2 0.7-1.3 0.7 1 0.8-0.7 0.7 0.5 0.8-0.1 0.7-0.2 0.7-0.5 0.8 1.2 0.7-0.6 0.7 0.6 0.8 0.5 0.7-1.3 0.8 0.2 0.7 0.8 0.7-1.2 0.8 0.6 0.7 0.2 0.8 0 0.7 0.2 0.7 0.8 0.8-0.6 0.7 0.1 0.8-0.4 0.7 0.2 0.7-0.1 0.8 0.3 0.7-0.5 0.8 0.1 0.7 0.1 0.7 0 0.8-0.5 0.7 0.3 0.8 0.6 0.7-0.5 0.7-0.9 0.8 1.3 0.7 0 0.7-0.3 0.8-0.4 0.7 0.2 0.8 0.4 0.7-0.5 0.7 0.6 0.8-0.2 0.7 0.1 0.8 0.3 0.7-0.9 0.7 0.4 0.8 0.7 0.7-0.6 0.8-0.5 0.7 1.2 0.7-2.4 0.8 1.7 0.7-0.5 0.8 0.6 0.7-0.6 0.7 1.3 0.8-1.5 0.7 0 0.8 1.1 0.7-0.2 0.7 0.2 0.8-0.9 0.7 0.3 0.7-0.1 0.8 0.3 0.7-0.1 0.8 0 0.7-0.2 0.7-0.8 0.8-0.3 0.7 1.6 0.8 1 0.7-2.6 0.7 1.2 0.8 1.1"/>
<path d="M132.4 1137.4l0.8 0.4 0.7 1 0.8-0.5 0.7-0.3 0.7-0.3 0.8 1.5 0.7-0.7 0.7 0 0.8-0.9 0.7 1.2 0.8-0.4 0.7-0.5 0.7 0.1 0.8-0.9 0.7 1.4 0.8-1.1 0.7 1.2 0.7-0.8 0.8-0.1 0.7 0.6 0.8-0.1 0.7-0.8 0.7 0.6 0.8 0.4 0.7-0.5 0.8-0.6 0.7 0.6 0.7-0.4 0.8 0.2 0.7 0.4 0.8-0.1 0.7-0.1 0.7-0.8 0.8 1.2 0.7-0.4 0.7-0.1 0.8 0.4 0.7 1 0.8-1.9 0.7-0.2 0.7 1.4 0.8-0.9 0.7 1.2 0.8-1.3 0.7 0.3 0.7 0.8 0.8 0 0.7-0.3 0.8 0 0.7-0.3 0.7-1.3 0.8-0.9 0.7-0.2 0.8-1.4 0.7-1.4 0.7-0.9 0.8-0.7 0.7-0.9 0.8-1.8 0.7-1 0.7-0.8 0.8 0.3 0.7-2.4 0.8-0.4 0.7-2.7 0.7 0.4 0.8-2.4 0.7-0.8 0.7-0.8 0.8-0.7 0.7-0.8 0.8-0.9 0.7-1.1 0.7-1.4 0.8 0.8 0.7-2.3 0.8-0.9 0.7-0.2 0.7-1.6 0.8-1.2 0.7-1.1 0.8-0.1 0.7-2.7 0.7-0.9 0.8-0.4 0.7-2.2 0.8-0.3 0.7 0.2 0.7-1.9 0.8-0.6 0.7-0.7 0.8-2 0.7-0.1 0.7-1.5 0.8-1.3 0.7-0.4 0.7-0.8 0.8-1.2 0.7-1.1 0.8 0 0.7-0.8 0.7-1.3 0.8-1.3 0.7-1.5 0.8-0.8 0.7-1.1 0.7-0.1 0.8-0.5 0.7-1 0.8-1.4 0.7-1.2 0.7-0.5 0.8-1 0.7-0.6 0.8-0.4 0.7-2.2 0.7 0.8 0.8-3.4 0.7-0.7 0.8-0.8 0.7-0.6 0.7-0.4 0.8 0.5 0.7-2.6 0.7 0.2 0.8-1.7 0.7-0.6 0.8-1.6 0.7 1.1 0.7-2.2 0.8-1.3 0.7 0.9 0.8-2.1 0.7-0.7 0.7-1.2 0.8-1.3 0.7-1.2 0.8-0.1 0.7 0.2 0.7-1.6 0.8-1.2 0.7-0.1 0.8-2 0.7 0.5 0.7-1.7 0.8-1.3 0.7 0.1 0.8-1 0.7-1.3 0.7-0.5 0.8-0.4 0.7-0.6 0.7-2.1 0.8-1.9 0.7 2 0.8-2.2 0.7-0.9 0.7-0.4 0.8-1.3 0.7 0.1 0.8-2.2 0.7-0.2 0.7-1.4 0.8 0.8 0.7-1.8 0.8 0 0.7-0.6 0.7-2.4 0.8-0.2 0.7-0.2 0.8-1.2 0.7-0.9 0.7-0.2 0.8-0.7 0.7-1.7 0.8-0.5 0.7-0.3 0.7-1.1 0.8-0.8 0.7-1.5 0.7 0.9 0.8-1.9 0.7-0.5 0.8-0.9 0.7-0.7 0.7-0.7 0.8-1.4 0.7 0 0.8-0.3 0.7-1.2 0.7-0.6 0.8-0.8 0.7-1.1 0.8 0.4 0.7-2.3 0.7-0.1 0.8-0.3 0.7-1.2 0.8-1.5 0.7-0.8 0.7 0.8 0.8-2.2 0.7-0.1 0.8-0.4 0.7-1 0.7-1.9 0.8-0.8 0.7 0.4 0.7-1.1 0.8-0.4 0.7-0.5 0.8-0.7 0.7-1.6 0.7-0.9 0.8 0.8 0.7-1.6 0.8-1 0.7-1.2 0.7 0.8 0.8-1.8 0.7-0.6 0.8 0.3 0.7-0.8 0.7-0.6 0.8-1.8 0.7-1.6 0.8 0.4 0.7-0.2 0.7-0.9 0.8 0.2 0.7-0.3 0.8-0.8 0.7 0.9 0.7-0.4 0.8-0.2 0.7 0.9 0.7-1.6 0.8 1.6 0.7 0 0.8-1.9 0.7 1.2 0.7 0 0.8-0.6 0.7 0.3 0.8-0.1 0.7 0.5 0.7-0.4 0.8-0.9 0.7 2 0.8-0.2 0.7-1 0.7 1 0.8 0.7 0.7-2.2 0.8 0.7 0.7 0 0.7 0.6 0.8-0.5 0.7-0.7 0.8 1.6 0.7-0.9 0.7 0.6 0.8 0.9 0.7-1.8 0.7 0.2 0.8 0.8 0.7-0.6 0.8 0.4 0.7-0.3 0.7 1.7 0.8-1.3 0.7-0.2 0.8-0.2 0.7 0.2 0.7-1.2 0.8 0.8 0.7 0.6 0.8-1.1 0.7 0.7 0.7-0.1 0.8-0.2 0.7 1.8 0.8-1.1 0.7-0.2 0.7-0.7 0.8 0.5 0.7-0.2 0.8 0.1 0.7 0.2 0.7 1.4 0.8-0.7 0.7 0.2 0.7-0.2 0.8 0.9 0.7-2.1 0.8-0.4 0.7 0.9 0.7 0 0.8-0.1 0.7-0.4 0.8 0.8 0.7 0.6 0.7-0.9 0.8-0.3 0.7 0.9 0.8-0.9 0.7 0 0.7 0.4 0.8-1.6 0.7 2.5 0.8-1.2 0.7 0.4 0.7-0.1 0.8 0 0.7-1 0.8 1.8 0.7-0.7 0.7-0.1 0.8 1.7 0.7-2.7 0.8 1.2 0.7-0.5 0.7-0.8 0.8 2 0.7-2.1 0.7 1.1 0.8-0.2 0.7 0.2 0.8-0.7 0.7 1.4 0.7-0.7 0.8-0.9 0.7 0 0.8 0.9 0.7-0.8 0.7 0.9 0.8 0 0.7-0.6 0.8-0.8 0.7 0.4 0.7 1 0.8-0.5 0.7 1.4 0.8-1.4 0.7 0.5 0.7 0.2 0.8-0.4 0.7 0.2 0.8 0.4 0.7-0.7 0.7 0.3 0.8-0.4 0.7 1.4 0.7-1.1 0.8 0.4 0.7-2.3 0.8 1.5 0.7-0.4 0.7 0.7 0.8-0.3 0.7-0.4 0.8 0.5 0.7 0.7 0.7 0.1 0.8-0.9 0.7 0.9 0.8-1 0.7 0.7 0.7-0.8 0.8 1.1 0.7 0.8 0.8-1.6 0.7 0.9 0.7-1.6 0.8 0.5 0.7 2 0.8-1.7 0.7 0.4 0.7-1.3 0.8 1 0.7-0.5 0.7 1.2 0.8-1 0.7 1.8 0.8-2.2 0.7 0.9 0.7-1.4 0.8 0.9 0.7 1 0.8-0.8 0.7-0.7 0.7 1.1 0.8 0.2 0.7-0.3 0.8 0.4 0.7-1.5 0.7 2 0.8-0.7 0.7-1.7 0.8 2.4 0.7-1.4 0.7 0.6 0.8-1.5 0.7 0.8 0.8-0.7 0.7 1.6 0.7-0.7 0.8-0.4 0.7 0.4 0.7 0.8 0.8-1.1 0.7 0.8 0.8-1 0.7-0.3 0.7 0.7 0.8 0.1 0.7 0.3 0.8 0.4 0.7-0.8 0.7 0.1 0.8 0.6 0.7-0.2 0.8-0.3 0.7 0.2 0.7-1.4 0.8 0.9 0.7-0.6 0.8 0.8 0.7 0.7 0.7-1.5 0.8 1.5 0.7-0.9 0.8 0.2 0.7-0.1 0.7 0.7 0.8-0.8 0.7-0.9 0.7 1.5 0.8-0.3 0.7 0.5 0.8-0.1 0.7-1.1 0.7 0.9 0.8-0.1 0.7-0.1 0.8 0.1 0.7 0.2 0.7-0.6 0.8 0.3 0.7 0.7 0.8-1.3 0.7 0.6 0.7-0.5 0.8-0.1 0.7 0.4 0.8 0.4 0.7 0.8 0.7-1 0.8 0.6 0.7-0.2 0.8-0.3 0.7-1.9 0.7 1.9 0.8 0 0.7-0.6 0.7 0.7 0.8 0.8 0.7-1.6 0.8 0.4 0.7 0.8 0.7-1.6 0.8 0.5 0.7 0.8 0.8 0.3 0.7 0.2 0.7-0.3 0.8 1 0.7-1.2 0.8-1 0.7 0.7 0.7 0.4 0.8-0.1 0.7-1.4 0.8 1.4 0.7-0.7 0.7 0.4 0.8 1 0.7-1 0.8-0.3 0.7 0.3 0.7-0.3 0.8 1.6 0.7-0.7 0.7 0 0.8-0.9 0.7 0 0.8 0.5 0.7-1.4 0.7 1.9 0.8-1.4 0.7 0.8 0.8 0.2 0.7-0.7 0.7 0.7 0.8 0.2 0.7 0.7 0.8-0.9 0.7 0.9 0.7-0.8 0.8-0.4 0.7 0.6 0.8-0.8 0.7 0.4 0.7 0.2 0.8 0.4 0.7-0.6 0.8-1 0.7 1.7 0.7-0.7 0.8-0.3 0.7-0.3 0.7 0.8 0.8-0.1 0.7 0.2 0.8-0.5 0.7 1 0.7-1.1 0.8 0.4 0.7-0.1 0.8 0.5 0.7-1 0.7 0.2 0.8 0 0.7-0.2 0.8 0 0.7-0.3 0.7 1.1 0.8 0.5 0.7-1.5 0.8 1 0.7-1.1 0.7 0.2 0.8 0.3 0.7 0.2 0.8 0.2 0.7-1.4 0.7 0.4 0.8 0.8 0.7-0.2 0.7 1.4 0.8-1.4 0.7-0.2 0.8 1.1 0.7-2.3 0.7 0.5 0.8 2.7 0.7-2 0.8 0.4 0.7-0.1 0.7-0.5 0.8 0.5 0.7-0.7 0.8 1.3 0.7-0.1 0.7 0 0.8-1 0.7-0.6 0.8 0.9 0.7-0.4 0.7 0.9 0.8-1.2 0.7 0.4 0.8 0.7 0.7 0.1 0.7-0.2 0.8-0.8 0.7 0.4 0.8 1.6 0.7-0.7 0.7-1 0.8 1.6 0.7-1.2 0.7 0.1 0.8-0.5 0.7 1.4 0.8-0.9 0.7-0.1 0.7-0.5 0.8-0.2 0.7 0.9 0.8-0.1 0.7 0.9 0.7-1.5 0.8 0.3 0.7 0.9 0.8-0.1 0.7-0.9 0.7 1.2 0.8-0.5 0.7 0.2 0.8-0.3 0.7 0.4 0.7-0.9 0.8 0.1 0.7 0.8 0.8-0.4 0.7 0 0.7 0.5 0.8-0.6 0.7 0.1 0.7-1.5 0.8 1 0.7 0.8 0.8-1.1 0.7 0.4 0.7 0.3 0.8-0.2 0.7 0.6 0.8-0.2 0.7-0.4 0.7 0.7 0.8-0.8 0.7-0.3 0.8 0.7 0.7 0.1 0.7-0.4 0.8-0.6 0.7 0.4 0.8 0.4 0.7 0.3 0.7 0.6 0.8-1.1 0.7-0.1 0.8-1.1 0.7 2 0.7-0.2 0.8-0.5 0.7-0.5 0.7-1.1 0.8 2 0.7-0.9 0.8 1.4 0.7-0.5 0.7 0.3 0.8-0.8 0.7 0.8 0.8-1.6 0.7 1.7 0.7-0.8 0.8-0.7"/>
<path d="M132.4 1138.3l0.8 1.4 0.7-0.5 0.8 0.8 0.7-1.3 0.7 0.2 0.8 0.7 0.7-0.3 0.7-0.3 0.8-0.1 0.7 0.4 0.8-0.8 0.7 1.9 0.7-1.5 0.8 0.3 0.7-0.5 0.8 1.3 0.7-0.6 0.7-0.2 0.8-1.3 0.7 1.4 0.8 0.3 0.7 0.6 0.7-1.1 0.8-0.8 0.7 1 0.8 0.4 0.7 0.1 0.7-1 0.8-0.3 0.7 0.9 0.8 0.1 0.7-1.1 0.7 0 0.8 0.9 0.7 0 0.7 0.9 0.8-0.4 0.7-1.1 0.8 1 0.7 0.4 0.7-0.9 0.8 0 0.7 1 0.8-0.5 0.7-0.5 0.7-0.1 0.8-0.2 0.7 1 0.8-0.5 0.7-0.9 0.7 1.6 0.8-1.1 0.7-0.7 0.8-2 0.7 1 0.7-2.1 0.8 0.7 0.7-1.1 0.8 0.1 0.7-1.9 0.7 0.8 0.8-1.1 0.7 0.1 0.8-1.1 0.7-0.2 0.7-0.9 0.8 0.5 0.7-2 0.7 0 0.8-0.3 0.7-0.4 0.8-0.1 0.7-0.9 0.7-0.4 0.8 0 0.7-1.4 0.8 0.6 0.7-2.2 0.7-0.3 0.8-0.1 0.7-1.1 0.8-0.3 0.7 0.2 0.7 0.2 0.8-1 0.7-1.2 0.8-0.3 0.7 0.2 0.7-1.5 0.8-0.6 0.7-0.5 0.8 1.6 0.7-0.5 0.7-1.9 0.8-0.3 0.7-0.7 0.7-0.8 0.8-1.2 0.7 0.2 0.8-0.4 0.7 0.8 0.7-1.9 0.8-0.4 0.7-0.6 0.8-0.4 0.7-0.8 0.7-1.4 0.8 0.8 0.7-0.7 0.8-0.6 0.7-0.7 0.7-0.6 0.8 0.1 0.7-0.7 0.8 0 0.7-1 0.7-0.5 0.8-0.1 0.7-0.7 0.8-0.1 0.7-0.9 0.7 0.4 0.8-0.8 0.7-2 0.7 0.3 0.8-1.1 0.7 0.3 0.8 0.4 0.7-0.8 0.7-2.5 0.8 0.9 0.7-0.1 0.8-0.7 0.7-1.1 0.7-1.1 0.8-0.1 0.7 0.9 0.8-1.5 0.7-0.2 0.7-1 0.8 0.5 0.7-0.2 0.8-0.8 0.7-0.6 0.7-0.9 0.8-0.5 0.7 0.1 0.8-1.1 0.7 0.7 0.7-1.2 0.8-1.9 0.7 0.7 0.7 0 0.8-0.7 0.7-0.1 0.8-0.6 0.7 0.2 0.7-1.6 0.8-0.4 0.7 0 0.8-0.3 0.7-0.4 0.7-0.2 0.8-1.1 0.7 0.8 0.8-2.2 0.7-0.2 0.7-0.4 0.8-0.2 0.7-0.6 0.8-1.4 0.7 0 0.7 0.9 0.8-1.3 0.7 0 0.8-0.8 0.7-0.1 0.7-1.5 0.8-0.3 0.7 0 0.7-0.6 0.8-0.1 0.7-1.2 0.8-0.3 0.7 0.5 0.7-1.3 0.8 0.1 0.7-1.3 0.8 0.8 0.7-1.3 0.7-1.4 0.8 1.3 0.7 0.3 0.8-1.4 0.7-1.6 0.7 0.8 0.8-0.8 0.7-0.2 0.8-1.9 0.7 1.4 0.7-0.5 0.8-0.5 0.7-1.1 0.8 0.6 0.7-2.3 0.7 0.3 0.8 0 0.7-0.3 0.7 0.4 0.8-2 0.7 0.3 0.8-2 0.7 1.3 0.7-0.9 0.8-0.3 0.7 0 0.8-1.1 0.7-1.5 0.7 1.9 0.8-1.6 0.7-0.1 0.8-0.3 0.7-1.1 0.7 0.1 0.8 0.7 0.7-1.6 0.8 0.7 0.7-2 0.7 0.3 0.8-0.7 0.7 0.6 0.8-1.3 0.7 0.3 0.7-0.3 0.8 0.5 0.7 0.8 0.7-2 0.8 1.2 0.7-1.1 0.8 1.5 0.7-0.2 0.7-0.1 0.8 0.3 0.7 0.9 0.8-1.5 0.7 0.9 0.7-1.1 0.8 0.9 0.7-0.1 0.8 0.8 0.7-0.7 0.7-0.5 0.8 0.5 0.7-0.1 0.8-0.5 0.7 0.6 0.7-0.7 0.8 0.1 0.7-0.1 0.8 0.7 0.7-0.8 0.7-0.2 0.8 1.2 0.7-1.1 0.7 0.2 0.8 0.8 0.7 0 0.8 0.6 0.7-1 0.7-0.4 0.8 0.5 0.7-0.4 0.8 0.4 0.7-0.6 0.7 1 0.8-1.1 0.7 0.7 0.8-0.5 0.7 0.9 0.7-0.6 0.8-0.7 0.7 0.7 0.8-0.8 0.7 1 0.7 0 0.8 0.1 0.7-0.9 0.8 0 0.7 1 0.7-0.1 0.8-0.9 0.7 0.2 0.7 0.8 0.8 0.3 0.7-0.7 0.8-0.8 0.7 0.8 0.7-0.7 0.8 0.8 0.7-0.3 0.8-0.3 0.7 0.7 0.7-0.3 0.8 0.3 0.7-0.6 0.8 0.5 0.7-0.6 0.7 1.1 0.8-0.3 0.7 0.2 0.8-1.6 0.7 2.2 0.7-2.3 0.8 1.7 0.7-0.4 0.8 0.6 0.7-0.2 0.7-1.5 0.8 1.2 0.7 0.4 0.8-2.8 0.7 1.6 0.7-0.6 0.8 0.9 0.7 0.1 0.7 0.3 0.8-0.3 0.7 1.1 0.8-0.4 0.7-0.7 0.7 1 0.8-0.5 0.7-0.3 0.8-0.1 0.7-0.1 0.7-1.3 0.8 1.3 0.7 0.3 0.8 0.7 0.7-0.9 0.7-0.8 0.8 0.9 0.7-1 0.8 1.3 0.7-0.3 0.7-1.6 0.8 1.2 0.7 0.5 0.8 0.6 0.7 0 0.7 0.1 0.8-1.6 0.7 1 0.7-0.4 0.8-0.2 0.7 0.2 0.8-0.9 0.7 1.3 0.7-0.7 0.8 0.5 0.7 0.3 0.8 0.1 0.7-0.9 0.7-0.1 0.8 1 0.7-0.6 0.8-0.4 0.7 0 0.7 1.4 0.8-0.8 0.7-0.6 0.8 1.8 0.7-0.7 0.7-0.7 0.8-0.7 0.7-0.4 0.8 2.1 0.7-1.3 0.7 0.6 0.8 0.3 0.7-0.2 0.7-0.7 0.8 0.1 0.7 1.1 0.8-1.1 0.7-0.5 0.7 1.1 0.8-0.9 0.7 0.1 0.8-0.2 0.7 0.7 0.7-1.1 0.8 1.2 0.7 0.3 0.8 0.6 0.7-1.3 0.7 1.4 0.8-0.5 0.7-0.3 0.8-1.2 0.7 1.3 0.7-0.2 0.8 0.3 0.7 0 0.8 0.1 0.7-0.6 0.7 0 0.8 0.2 0.7 0.2 0.7 0.3 0.8-0.9 0.7-0.2 0.8 0.2 0.7-0.4 0.7-0.3 0.8 0.9 0.7 0 0.8-0.6 0.7 0.9 0.7 0.7 0.8-0.7 0.7-0.5 0.8 0.7 0.7-1 0.7 0 0.8-0.7 0.7 1.2 0.8-0.5 0.7 0.5 0.7 0.7 0.8-0.4 0.7-0.8 0.8 1.1 0.7-0.6 0.7 0.1 0.8 0.3 0.7-0.3 0.7 0.9 0.8-0.3 0.7-1.1 0.8 0.2 0.7 0 0.7-0.6 0.8 1.7 0.7-0.5 0.8-0.1 0.7 1.8 0.7-1.8 0.8 0.1 0.7-0.4 0.8 1.2 0.7-0.8 0.7-1.1 0.8 1.1 0.7 0.1 0.8-0.5 0.7-0.2 0.7 1.2 0.8-1.5 0.7 1.4 0.8-1.3 0.7-0.8 0.7 0.1 0.8 1.1 0.7 0.5 0.7-0.2 0.8 0 0.7-0.2 0.8-0.3 0.7 0.2 0.7-0.6 0.8 1.3 0.7-1.4 0.8 0.3 0.7-0.6 0.7 1.5 0.8-0.4 0.7-0.5 0.8 0.9 0.7-1.1 0.7-0.5 0.8 1 0.7-1.3 0.8 1.2 0.7-0.3 0.7-0.5 0.8 1 0.7 0.2 0.8-0.7 0.7 0 0.7 1.2 0.8-0.5 0.7 1.1 0.7-0.4 0.8-0.9 0.7-0.4 0.8 0.5 0.7-0.7 0.7 0.3 0.8 1.5 0.7-1.5 0.8-0.7 0.7 0.4 0.7 0.9 0.8-0.5 0.7 0.8 0.8-1.6 0.7 2 0.7-1 0.8-0.3 0.7 0.6 0.8-0.5 0.7-0.1 0.7 0.4 0.8-0.9 0.7 1.1 0.8-0.8 0.7 0.1 0.7 1.6 0.8-1.5 0.7-0.2 0.7-0.1 0.8 0.4 0.7-0.2 0.8-0.1 0.7 0.1 0.7 2.1 0.8-0.9 0.7-1.4 0.8 0.6 0.7 0.4 0.7-0.5 0.8-1 0.7 0.9 0.8-0.1 0.7 0.2 0.7-0.6 0.8 0.2 0.7 1.1 0.8-1.4 0.7 1.1 0.7-0.3 0.8-1.7 0.7 2.3 0.8-0.1 0.7 0.3 0.7-1.1 0.8-0.7 0.7 0.5 0.7 1.6 0.8-0.9 0.7-0.7 0.8 0 0.7 0.2 0.7 1.1 0.8-0.3 0.7 0 0.8-0.5 0.7 1.4 0.7-1.2 0.8-0.8 0.7 0.6 0.8-0.6 0.7 0.3 0.7 0.3 0.8 0.7 0.7-1.5 0.8 0.8 0.7-0.2 0.7 0.3 0.8-0.2 0.7-0.5 0.8 0.3 0.7 0.9 0.7-0.4 0.8 0.5 0.7-1.2 0.8 0.1 0.7 1.4 0.7-1.8 0.8 1.8 0.7-1.2 0.7 0.4 0.8 0 0.7-0.2 0.8 0 0.7 1.1 0.7-0.5 0.8-0.1 0.7 0 0.8-1.1 0.7 0 0.7 1.4 0.8-0.4 0.7-1.1 0.8 0.4 0.7-0.1 0.7-1.1 0.8 2.5 0.7-0.9 0.8-0.1 0.7 0.2 0.7 0.2 0.8-0.3 0.7-0.5 0.8 0.9 0.7 0.4 0.7-0.1 0.8 0.7 0.7-2.7 0.7 1.6 0.8-0.2 0.7-0.5 0.8 0.5 0.7-0.8 0.7 0.7 0.8 0.1 0.7-0.4 0.8-0.5 0.7 0.3 0.7 1.5 0.8-0.9 0.7 0.4 0.8-0.1 0.7-0.2 0.7 0.3 0.8-1 0.7 0.7 0.8 0.1 0.7-0.7 0.7-0.1 0.8 0.6 0.7-0.3 0.8 0.7 0.7-1.2 0.7 0.9 0.8-0.8 0.7 0.9 0.7-0.2 0.8-0.3 0.7 0 0.8 0.9 0.7-0.1 0.7 0.2 0.8-1.7 0.7 1.2 0.8-1 0.7 1.3 0.7-1.3 0.8 0"/>
<path d="M132.4 1137.8l0.8 0.6 0.7-0.1 0.8-0.6 0.7 0.4 0.7 0.7 0.8-0.9 0.7 0.1 0.7-1.2 0.8 1.4 0.7 1.1 0.8-0.8 0.7-0.6 0.7 0.9 0.8 0 0.7 0.1 0.8-1.5 0.7 0 0.7 1.1 0.8-0.1 0.7-0.1 0.8-1.1 0.7 1.3 0.7 0.7 0.8-0.4 0.7 0.8 0.8-1.3 0.7-0.2 0.7 1 0.8-0.4 0.7-2 0.8 0.4 0.7 1.1 0.7-0.5 0.8 1.4 0.7-0.1 0.7-0.2 0.8-0.9 0.7 0 0.8 0.6 0.7-0.6 0.7 0.6 0.8-0.3 0.7 0.3 0.8-0.4 0.7-0.5 0.7-1.3 0.8 0.9 0.7 0 0.8 1.3 0.7-1.3 0.7 0.2 0.8 0.4 0.7-0.1 0.8-0.1 0.7-0.6 0.7 0.4 0.8-1.5 0.7 0.8 0.8-1.8 0.7 0.3 0.7 0.2 0.8-0.1 0.7-0.8 0.8-0.5 0.7-0.6 0.7-0.9 0.8-0.1 0.7 1.9 0.7-2.3 0.8-0.1 0.7-0.3 0.8 0.6 0.7-0.3 0.7-0.5 0.8-0.6 0.7 0.4 0.8-1 0.7 0.8 0.7 0.4 0.8-1.7 0.7 0.4 0.8-0.7 0.7-0.2 0.7-0.8 0.8 0.6 0.7-0.3 0.8 0.5 0.7 0.4 0.7-2.3 0.8 1.1 0.7-1.5 0.8-0.1 0.7-0.6 0.7 0.8 0.8 0.2 0.7-1.1 0.7-0.1 0.8-0.8 0.7 0 0.8-0.9 0.7 0.5 0.7-1.4 0.8 2.4 0.7-0.9 0.8-1.4 0.7-0.2 0.7-0.2 0.8 0.1 0.7-0.2 0.8 0.7 0.7-1.6 0.7-1.2 0.8 1.1 0.7-0.2 0.8-1 0.7 0.8 0.7-0.9 0.8-0.6 0.7 0.2 0.8-1 0.7 0.3 0.7 1 0.8-0.5 0.7-0.7 0.7-0.5 0.8-0.1 0.7-1.2 0.8 0.6 0.7-0.8 0.7-0.2 0.8 1.1 0.7-1.7 0.8 0.3 0.7-0.3 0.7 0.3 0.8-1 0.7 0.2 0.8-0.3 0.7-0.6 0.7-0.5 0.8-0.5 0.7 1.1 0.8-1.5 0.7 1 0.7 0.1 0.8-1.6 0.7-0.5 0.8-0.3 0.7 0.1 0.7 0.8 0.8-1.5 0.7-0.4 0.7-0.6 0.8 0.8 0.7 0 0.8 0.4 0.7-1 0.7-0.5 0.8-0.2 0.7 1.5 0.8-1 0.7-0.7 0.7-1 0.8-0.1 0.7-0.2 0.8-0.2 0.7 0.1 0.7-1 0.8 1.3 0.7-1.9 0.8 0.7 0.7-0.2 0.7-0.1 0.8 0 0.7-0.9 0.8-0.3 0.7 0.5 0.7-0.3 0.8-1 0.7 0.2 0.7-1.4 0.8 0.7 0.7-1.8 0.8 1.8 0.7-1.4 0.7 0.7 0.8-0.5 0.7-0.9 0.8 0.7 0.7 0.2 0.7-1.7 0.8 1.4 0.7-1.2 0.8-1 0.7 0.2 0.7 0.1 0.8 0 0.7-1.2 0.8 0 0.7 0.3 0.7-0.3 0.8 0.7 0.7-0.9 0.8-0.2 0.7-1.3 0.7-0.2 0.8-0.4 0.7 0.4 0.7 0.2 0.8 0.4 0.7-0.7 0.8-1.3 0.7 0.2 0.7 1.1 0.8-1.4 0.7 0 0.8-1.4 0.7-0.3 0.7 0.3 0.8-0.1 0.7 0.3 0.8-0.6 0.7-1.2 0.7 2.2 0.8-1.4 0.7-1.5 0.8 1.8 0.7-0.8 0.7-0.8 0.8-0.1 0.7 0.3 0.8-1.7 0.7 2 0.7-0.5 0.8 0.3 0.7-0.8 0.7 0 0.8 1.3 0.7-3 0.8 2.8 0.7 0 0.7-1.7 0.8 0.8 0.7-0.3 0.8 0.1 0.7-0.4 0.7-0.1 0.8 0.9 0.7-0.2 0.8 0.5 0.7 0.1 0.7-0.8 0.8 1.6 0.7-0.3 0.8-1.9 0.7 0.9 0.7-0.2 0.8 0.5 0.7-0.8 0.8 1.5 0.7-1.2 0.7 1.5 0.8-1.7 0.7 1.6 0.7-0.9 0.8 0.3 0.7-0.3 0.8 0 0.7-0.8 0.7 0.4 0.8-0.3 0.7 0.3 0.8-0.1 0.7 0.7 0.7-0.3 0.8-0.3 0.7-0.9 0.8 1.6 0.7-1 0.7 0.2 0.8 0.5 0.7-0.3 0.8 0.1 0.7 0 0.7-1.2 0.8 1.6 0.7-0.6 0.8 0.6 0.7-0.4 0.7-0.3 0.8 1.1 0.7-0.8 0.7 0.5 0.8-0.2 0.7 0.1 0.8 0.2 0.7-0.3 0.7-0.9 0.8 0.4 0.7 0.9 0.8-0.8 0.7-0.2 0.7 0.3 0.8 0.5 0.7-1.1 0.8 0.5 0.7-0.2 0.7-0.2 0.8 0.9 0.7-0.8 0.8 0.4 0.7 0.2 0.7 0 0.8 0 0.7 0.2 0.8-0.9 0.7-1 0.7 2 0.8 0.4 0.7-1.2 0.8 0.3 0.7 0.5 0.7-1 0.8 0.4 0.7-0.2 0.7 0.6 0.8-0.3 0.7 0.9 0.8-1.5 0.7 0.1 0.7-0.4 0.8 1 0.7-0.2 0.8-0.1 0.7 0.5 0.7-0.9 0.8-0.3 0.7 2.1 0.8-1.3 0.7-0.5 0.7 1.2 0.8-0.6 0.7-0.6 0.8 0.7 0.7 0.5 0.7-0.2 0.8-0.5 0.7 1 0.8-1.5 0.7 0.4 0.7 0.4 0.8-0.9 0.7 1 0.7-0.1 0.8 0.3 0.7-0.4 0.8 1 0.7-2 0.7 0.6 0.8-0.1 0.7 0.3 0.8 0.4 0.7-1 0.7 1.2 0.8 0.1 0.7-0.6 0.8-0.9 0.7 1.2 0.7-0.1 0.8-0.8 0.7 0.1 0.8 0.1 0.7-0.5 0.7 1.1 0.8 0.4 0.7-0.4 0.8-0.7 0.7 0.4 0.7 0 0.8 1.1 0.7-1.3 0.7 0.5 0.8-0.4 0.7 0.8 0.8-1.1 0.7 0.8 0.7-0.6 0.8 0.6 0.7-1.2 0.8 0.8 0.7 0.7 0.7-0.3 0.8-1 0.7 2.2 0.8-1.3 0.7-0.4 0.7-0.1 0.8-0.3 0.7 1.5 0.8-0.2 0.7 0.1 0.7-1.5 0.8-0.5 0.7-0.1 0.8 0.4 0.7 0.5 0.7-0.4 0.8-0.3 0.7 1.3 0.7-0.7 0.8 0.6 0.7 0.5 0.8-1.2 0.7 0.2 0.7 1.1 0.8-1.7 0.7 0.6 0.8-0.4 0.7 0.6 0.7-0.3 0.8 0.5 0.7-0.4 0.8 1 0.7-1.2 0.7 0.5 0.8 0.4 0.7-0.9 0.8 0.1 0.7 0.3 0.7-0.1 0.8 0.7 0.7-0.9 0.8-0.5 0.7 1.3 0.7-0.9 0.8 0.1 0.7 0.2 0.7 0.9 0.8-0.2 0.7-0.4 0.8 0.1 0.7-0.5 0.7 1.3 0.8-0.4 0.7-1.1 0.8 1 0.7-1.3 0.7 0.3 0.8 0.1 0.7 1.4 0.8 0.2 0.7-1.2 0.7-0.3 0.8 1.1 0.7-1.1 0.8 1.3 0.7-1.6 0.7 1.2 0.8-1.1 0.7 1.5 0.8-0.9 0.7-0.5 0.7 0.5 0.8-1.5 0.7 1.5 0.7 0.3 0.8 1 0.7-2 0.8 1.3 0.7 0.1 0.7-0.4 0.8-0.6 0.7 0.3 0.8-0.6 0.7 0.7 0.7-0.9 0.8 0.4 0.7 0.4 0.8-0.6 0.7-0.2 0.7 0.7 0.8 0.2 0.7 0.2 0.8-0.1 0.7 0.7 0.7-1 0.8 0.8 0.7-1.4 0.8 1 0.7 0.1 0.7 0.6 0.8-1.4 0.7 1.4 0.7-1.1 0.8-0.2 0.7-0.8 0.8 1.6 0.7-0.9 0.7 0.8 0.8-0.4 0.7 0.4 0.8-0.4 0.7-0.5 0.7 0.2 0.8 0.2 0.7 0.3 0.8-0.7 0.7 1 0.7-1.8 0.8 0.4 0.7 1.2 0.8-0.2 0.7 1 0.7-0.5 0.8-1.3 0.7 0 0.8 0.6 0.7 0 0.7 0.5 0.8-0.8 0.7-0.1 0.7 0 0.8 0.4 0.7-0.5 0.8 0.4 0.7 0.6 0.7-0.6 0.8-0.5 0.7 0.9 0.8 0.2 0.7-1 0.7 0.3 0.8-0.7 0.7 0.3 0.8-0.1 0.7-0.1 0.7 0.4 0.8 1.6 0.7-0.5 0.8-0.9 0.7 0.5 0.7-0.2 0.8 0 0.7-1.3 0.8 1.1 0.7-0.6 0.7 0.4 0.8 0.2 0.7-2.1 0.7 0.7 0.8 1.7 0.7 0.6 0.8-0.3 0.7-1.2 0.7 0.5 0.8 0.6 0.7-0.5 0.8-1.2 0.7 1.8 0.7-0.9 0.8 0.4 0.7-1.1 0.8 0.4 0.7 1.4 0.7-1 0.8 0.6 0.7 0.7 0.8-1 0.7 0 0.7-0.2 0.8 0.7 0.7-0.3 0.8 0.1 0.7 0.7 0.7-0.7 0.8 0.5 0.7-1.3 0.8 0.3 0.7 0.6 0.7-0.9 0.8-0.4 0.7 0.9 0.7-0.3 0.8 0.5 0.7 0.8 0.8-1.3 0.7-0.4 0.7 0.5 0.8-0.2 0.7 0.1 0.8 1 0.7-0.3 0.7-0.2 0.8-0.3 0.7 0.7 0.8-0.6 0.7 1 0.7-1 0.8 0 0.7 0.4 0.8 0.9 0.7-2.4 0.7 1.4 0.8-1 0.7-0.3 0.8 0.7 0.7 0.8 0.7-1.5 0.8 0.8 0.7 1.3 0.7-0.3 0.8-1 0.7 0.6 0.8-0.4 0.7-0.3 0.7-0.2 0.8 1.3 0.7-1.2 0.8 0.3 0.7-0.2 0.7-0.6 0.8 0.8 0.7 1.2 0.8-1.7 0.7 0.6 0.7 0.7 0.8-0.4 0.7-0.3 0.8 0.4 0.7-0.2 0.7-0.2 0.8-0.5 0.7 0.2 0.8-0.8 0.7 1.2 0.7-0.2 0.8-0.3 0.7-0.6 0.7 0.7 0.8-0.8 0.7 1.5 0.8-1.1 0.7 1.2 0.7-1 0.8 0.9 0.7-0.1 0.8 0.2 0.7-0.7 0.7-1 0.8 1.4"/>
<path d="M132.4 1139.4l0.8-0.8 0.7 0.4 0.8 0.2 0.7 0.1 0.7 0.3 0.8-1.1 0.7 0.6 0.7 0.9 0.8-0.4 0.7 0.1 0.8-0.1 0.7 0.3 0.7-0.6 0.8 0.8 0.7 0.3 0.8-1.9 0.7 1.6 0.7-1.4 0.8 0.7 0.7 0.1 0.8-0.7 0.7-0.4 0.7 0.8 0.8 1 0.7-1 0.8 0.7 0.7-0.5 0.7 1 0.8-1.5 0.7 0.1 0.8 0.5 0.7-0.4 0.7 1.1 0.8-0.4 0.7 0.6 0.7-1.3 0.8 1 0.7-1 0.8-0.3 0.7-0.4 0.7 0.7 0.8 0 0.7 0.9 0.8-1.8 0.7 0 0.7 1 0.8 0.4 0.7-1.2 0.8 0.8 0.7-1.3 0.7 1.3 0.8 0 0.7 0.3 0.8-1.2 0.7 0.4 0.7-0.9 0.8 0.7 0.7-1 0.8 1.3 0.7 0.7 0.7-1.8 0.8 0.1 0.7 0.3 0.8-0.4 0.7-0.5 0.7 0.2 0.8-0.2 0.7 0.4 0.7-1 0.8-0.2 0.7 0.3 0.8 1.1 0.7-2.8 0.7 0.7 0.8-0.9 0.7 0.6 0.8 0.2 0.7 0.3 0.7 0.1 0.8-0.3 0.7 0 0.8-0.4 0.7-0.2 0.7 0.7 0.8-1.7 0.7 0.7 0.8-0.8 0.7-0.3 0.7 0.8 0.8-0.3 0.7-0.7 0.8-0.4 0.7 0.6 0.7 0.2 0.8-0.9 0.7 1 0.7-0.8 0.8 0.2 0.7-0.7 0.8-0.1 0.7-0.1 0.7 0 0.8 0.8 0.7-0.4 0.8-0.3 0.7-1 0.7 0.1 0.8 0.2 0.7-1.4 0.8 0.9 0.7 1.1 0.7-1.1 0.8-1 0.7 0 0.8 0.1 0.7 0.3 0.7-1 0.8 0.7 0.7 0.8 0.8-1.1 0.7-0.7 0.7 1 0.8-0.9 0.7-0.5 0.7 0.3 0.8-0.1 0.7-0.1 0.8 0 0.7-0.3 0.7-0.5 0.8 0.4 0.7-0.4 0.8-0.8 0.7 1.4 0.7-0.6 0.8 0.5 0.7-1.1 0.8 0.1 0.7 0 0.7 0.2 0.8-0.8 0.7 0.2 0.8 0.4 0.7-0.5 0.7 0.3 0.8-0.8 0.7 0.8 0.8-1.5 0.7 1.3 0.7 0.3 0.8-1.9 0.7-0.2 0.7 1.1 0.8-0.8 0.7-1 0.8 0.5 0.7 0.4 0.7-0.3 0.8-1 0.7 0.2 0.8 1.1 0.7 0.1 0.7-0.6 0.8 0.7 0.7-2.4 0.8 1.6 0.7-0.3 0.7-0.6 0.8-0.5 0.7-0.1 0.8-0.1 0.7 0.2 0.7-0.1 0.8-0.5 0.7 1.3 0.8-2.2 0.7 0.2 0.7 0.8 0.8-0.5 0.7 0.7 0.7-1.9 0.8 0.6 0.7-0.3 0.8 0.6 0.7 0.2 0.7-1 0.8 0.5 0.7-0.8 0.8-0.5 0.7 0.6 0.7 0.2 0.8-1.4 0.7 0.8 0.8-0.5 0.7-0.5 0.7 1.5 0.8-1.6 0.7-0.4 0.8 1.1 0.7-0.7 0.7-0.3 0.8 0.6 0.7 0.1 0.8-0.8 0.7-0.9 0.7 0.6 0.8 0.8 0.7-0.1 0.7-0.5 0.8-1.4 0.7 1.1 0.8-0.3 0.7-0.4 0.7 0.4 0.8-0.6 0.7 1.7 0.8-2.2 0.7 0.4 0.7 0.2 0.8 0.2 0.7 0.1 0.8-1.1 0.7-1.7 0.7 1.6 0.8-0.8 0.7 0.5 0.8-0.8 0.7 0.1 0.7 0.8 0.8-0.9 0.7-0.3 0.8-0.2 0.7 0.4 0.7 0.5 0.8-0.8 0.7-0.1 0.7 1.1 0.8-1.3 0.7 1.1 0.8 0.1 0.7-0.1 0.7 0.4 0.8-0.5 0.7 0.4 0.8-1.2 0.7-0.2 0.7-0.2 0.8 1.3 0.7-0.7 0.8 0.6 0.7 0.6 0.7-0.6 0.8 0.7 0.7-0.3 0.8-0.2 0.7-0.4 0.7-0.4 0.8 1.1 0.7 0.2 0.8-0.4 0.7 0.8 0.7-2.2 0.8 0.2 0.7 0.1 0.7 0.6 0.8 0.1 0.7 0.2 0.8 0.2 0.7-0.5 0.7 1.3 0.8-0.5 0.7-1.5 0.8 0.6 0.7 1.1 0.7-1.4 0.8 0.5 0.7 0.5 0.8-1 0.7-0.3 0.7 0.9 0.8 0.3 0.7-0.6 0.8 0.2 0.7 0.3 0.7-1.1 0.8 1.3 0.7 0.1 0.8-0.8 0.7 0.1 0.7-0.9 0.8 1.5 0.7-1.4 0.7 1.2 0.8-0.1 0.7 1.9 0.8-2.5 0.7-0.3 0.7 1.3 0.8-0.6 0.7 0.6 0.8-0.6 0.7 0.2 0.7 0.2 0.8-0.5 0.7 0.4 0.8-0.4 0.7 0.8 0.7-0.2 0.8 0.1 0.7 0.3 0.8-1.2 0.7 0.6 0.7-0.4 0.8-0.1 0.7-0.2 0.8 1 0.7-0.9 0.7 0.1 0.8-0.8 0.7 1.2 0.8 0 0.7 0.2 0.7-1.4 0.8 0.9 0.7 0.2 0.7 1 0.8-0.9 0.7-0.4 0.8-0.3 0.7 0 0.7-0.5 0.8 2 0.7-1 0.8 1.2 0.7-1.4 0.7 0.7 0.8-0.9 0.7 0.2 0.8 0 0.7 0.4 0.7-1 0.8 0.6 0.7 0.3 0.8 0.2 0.7 0.2 0.7 0.1 0.8-0.9 0.7 0.6 0.8-0.6 0.7 0.3 0.7 0.4 0.8-0.6 0.7 1.2 0.7-1.4 0.8 0.8 0.7-0.7 0.8-0.3 0.7 1.3 0.7-1.3 0.8 0.9 0.7-0.9 0.8 0.1 0.7 0.9 0.7 1 0.8-1.5 0.7-0.5 0.8 0.3 0.7 1.4 0.7-0.6 0.8-1 0.7 0.1 0.8 0.7 0.7 0.3 0.7-0.7 0.8-0.4 0.7 0.4 0.8 0.8 0.7-0.8 0.7 0.1 0.8 0.5 0.7-0.3 0.7-0.3 0.8-0.5 0.7 1 0.8-0.4 0.7 0.3 0.7 0.7 0.8-0.8 0.7 1.5 0.8-1.8 0.7 0.5 0.7 0.3 0.8-0.6 0.7-1.1 0.8 0.9 0.7-0.3 0.7-0.3 0.8 2 0.7-0.9 0.8-0.4 0.7 0.4 0.7 0 0.8 0.3 0.7-1 0.8-0.1 0.7 0.4 0.7 0.1 0.8-0.9 0.7 0.3 0.7 0.8 0.8 0 0.7-0.3 0.8-0.9 0.7 2.1 0.7 0.2 0.8-1.6 0.7-0.7 0.8 0.2 0.7 2.1 0.7-2.2 0.8 1.1 0.7 0.8 0.8-1.2 0.7 0.2 0.7 0.2 0.8-0.2 0.7 0.2 0.8 0.3 0.7-1.1 0.7-0.1 0.8 0.7 0.7-0.7 0.8 0.6 0.7-0.1 0.7-0.5 0.8 1.4 0.7-1.7 0.7 1.6 0.8-1.4 0.7 1 0.8 0.3 0.7-0.3 0.7-0.8 0.8 0.1 0.7 0.2 0.8 0.4 0.7-0.7 0.7-0.2 0.8 1.5 0.7-0.7 0.8-0.1 0.7-0.6 0.7 0.9 0.8 0.2 0.7-0.1 0.8-0.3 0.7-1.3 0.7 2.1 0.8-1.4 0.7 1 0.8-0.2 0.7-0.4 0.7 0.1 0.8 0.1 0.7-0.6 0.7 0.7 0.8-1.1 0.7 0.8 0.8 0.6 0.7-0.9 0.7 0.5 0.8 0.5 0.7-0.6 0.8 0.1 0.7 0.4 0.7-0.3 0.8-1.2 0.7 0.9 0.8 0.2 0.7-0.1 0.7-0.5 0.8 1.3 0.7-0.2 0.8-0.2 0.7-0.7 0.7-0.9 0.8 0.9 0.7-0.3 0.8 0.5 0.7 0.2 0.7 0 0.8 0.8 0.7-1.6 0.7 1.1 0.8 0.4 0.7-0.4 0.8 0.5 0.7-1.6 0.7 1.3 0.8-0.8 0.7 0.1 0.8-0.7 0.7 0.4 0.7 0.6 0.8-0.2 0.7-0.1 0.8 1.1 0.7-0.4 0.7-0.7 0.8 0.7 0.7-1.3 0.8 0.6 0.7 0.7 0.7-0.2 0.8-1 0.7-0.4 0.8 1 0.7 0.4 0.7 0.1 0.8-1.3 0.7 0.7 0.7-0.1 0.8-0.2 0.7-0.3 0.8 0.8 0.7 0.7 0.7-0.2 0.8 0.1 0.7-0.9 0.8-0.3 0.7 0.8 0.7-0.9 0.8 0.8 0.7-0.4 0.8 1.6 0.7-1.7 0.7 0.6 0.8-0.3 0.7-0.1 0.8-0.4 0.7 1.1 0.7-0.4 0.8-0.7 0.7 2 0.8-1 0.7 0.1 0.7-0.6 0.8-1.8 0.7 1.7 0.7-0.2 0.8 0.7 0.7-0.5 0.8 0.7 0.7 0.2 0.7 0.2 0.8-2 0.7 0.9 0.8 0 0.7 1 0.7-0.5 0.8-0.6 0.7 0.7 0.8-0.6 0.7-0.2 0.7-1.1 0.8 0 0.7 1.7 0.8-0.8 0.7 0.9 0.7 0.3 0.8-1.1 0.7 0.7 0.8-0.2 0.7-0.6 0.7 0.4 0.8 1.1 0.7-0.6 0.8-1 0.7 1.8 0.7-1.5 0.8 0.6 0.7-1.3 0.7 1.5 0.8 0.1 0.7-1 0.8 0.4 0.7 0.7 0.7-0.7 0.8 0.6 0.7-0.5 0.8-0.1 0.7 0.9 0.7-1.3 0.8 0.4 0.7 0.8 0.8 0.3 0.7-0.8 0.7-1 0.8 0.1 0.7 0 0.8 0.9 0.7-0.1 0.7-0.7 0.8 0.8 0.7-0.2 0.8 0.3 0.7-0.6 0.7 0.9 0.8-0.4 0.7 0.1 0.7 0.1 0.8-0.4 0.7-0.5 0.8-0.8 0.7 1.9 0.7 0.1 0.8-1.7 0.7 2.5 0.8-1.2 0.7-0.7 0.7 0.2 0.8 0.4 0.7-0.3 0.8 0.1 0.7-0.1 0.7 0.6 0.8-0.3 0.7-0.9 0.8 0.1 0.7 0.6 0.7-0.4 0.8 0.2 0.7-0.4 0.8 1.3 0.7-1 0.7 0.1 0.8-0.2 0.7 0.7 0.7-0.7 0.8 0.5 0.7 0.4 0.8-0.5 0.7-0.6 0.7-0.3 0.8 0.9 0.7-0.1 0.8 0.3 0.7-1.1 0.7 1.3 0.8-0.7"/>
<path d="M132.4 1138.8l0.8 0.9 0.7-1.3 0.8 0.9 0.7 0 0.7 0.8 0.8-1 0.7-0.1 0.7 1.2 0.8-1.8 0.7 0.4 0.8-0.2 0.7 1.3 0.7-1.2 0.8 0.9 0.7-0.9 0.8 1.4 0.7-0.6 0.7-0.7 0.8 0.8 0.7-0.2 0.8-0.2 0.7-0.6 0.7 1.7 0.8-1 0.7-0.3 0.8 0.3 0.7-0.1 0.7-0.7 0.8 1.3 0.7-1.5 0.8 1.4 0.7-1.6 0.7 0.3 0.8 1.5 0.7-1.6 0.7 0.9 0.8 0.2 0.7 0.6 0.8 0.2 0.7-0.5 0.7-0.2 0.8 0.4 0.7-0.1 0.8-1.6 0.7 1.4 0.7-0.9 0.8 2.1 0.7-0.9 0.8-1.1 0.7 1.5 0.7-1.7 0.8 0.8 0.7-1.1 0.8 0.4 0.7 0.3 0.7-1 0.8 1.1 0.7 0.2 0.8 0.3 0.7-0.4 0.7-0.4 0.8 0.2 0.7-1.1 0.8 0.1 0.7 1.1 0.7-1.6 0.8 0.3 0.7 0.8 0.7-0.6 0.8-0.8 0.7 0.3 0.8-0.1 0.7-0.4 0.7 0.4 0.8 0.7 0.7-0.8 0.8 0.3 0.7-0.5 0.7 0.2 0.8 0.5 0.7-0.3 0.8-0.4 0.7-0.1 0.7 0.7 0.8-0.9 0.7-0.7 0.8 1.2 0.7 0 0.7-0.6 0.8-0.3 0.7 1.1 0.8-0.1 0.7-0.6 0.7-0.3 0.8 0.3 0.7 0.6 0.7-1.5 0.8 0.8 0.7-1.8 0.8 0.9 0.7 0.6 0.7-0.3 0.8-0.9 0.7 1.2 0.8-0.2 0.7 0 0.7-0.7 0.8 0 0.7-0.1 0.8 0.3 0.7-0.2 0.7-0.2 0.8 0.5 0.7 0.1 0.8-0.6 0.7 0.6 0.7-1.8 0.8 2.4 0.7-2.1 0.8 0.2 0.7 0.5 0.7 0.3 0.8-0.6 0.7-1.1 0.7 0.7 0.8-0.6 0.7 1.2 0.8-0.9 0.7-1.2 0.7 0.9 0.8 0.6 0.7-0.9 0.8 0.9 0.7-1.4 0.7 0.8 0.8 0.7 0.7-0.6 0.8-0.7 0.7 0.1 0.7 1 0.8-0.3 0.7-0.2 0.8 0.1 0.7-0.5 0.7 0 0.8-0.2 0.7-0.2 0.8 0.8 0.7-1.2 0.7 1.8 0.8-0.9 0.7-0.7 0.7 0.9 0.8 0.1 0.7-0.9 0.8-0.9 0.7 0.7 0.7-0.1 0.8-0.4 0.7-0.6 0.8 0.3 0.7 0.5 0.7-0.2 0.8 0.6 0.7-1.4 0.8 1.1 0.7-1 0.7 0.7 0.8-0.2 0.7 0.7 0.8-0.6 0.7-0.5 0.7 0.2 0.8-1.1 0.7 0.9 0.8 0.2 0.7-0.2 0.7-0.5 0.8 0.4 0.7-0.1 0.7 0 0.8-0.8 0.7 0.9 0.8-0.5 0.7-0.8 0.7 0.6 0.8 0.7 0.7 0.2 0.8-1.2 0.7-0.3 0.7 0.2 0.8 0.5 0.7 0.4 0.8-0.8 0.7-0.3 0.7 0.9 0.8-0.6 0.7-0.8 0.8 0.3 0.7 0.6 0.7-0.8 0.8 0.1 0.7-0.5 0.8 0.7 0.7 0.5 0.7-0.2 0.8-1 0.7-0.5 0.7 1.4 0.8-0.5 0.7-1.3 0.8 1.6 0.7-1.1 0.7-0.2 0.8 0.3 0.7-0.8 0.8 0 0.7 1.5 0.7-1.1 0.8 0.4 0.7 0.4 0.8-0.6 0.7-0.3 0.7 0.3 0.8 0.6 0.7-0.7 0.8-0.6 0.7 1.3 0.7-0.4 0.8-1.6 0.7 0.9 0.8 1.2 0.7-2.2 0.7 0 0.8 1.3 0.7-0.8 0.7-0.6 0.8 1.8 0.7-1 0.8 0.4 0.7 0.5 0.7-0.6 0.8-0.7 0.7 1.9 0.8-0.8 0.7-0.5 0.7-0.3 0.8-0.6 0.7 1.2 0.8-1.1 0.7 1.8 0.7-2.2 0.8 1.6 0.7-1.1 0.8 0 0.7 1.1 0.7-0.4 0.8 0.4 0.7-1.1 0.8 0.5 0.7-0.1 0.7 0.4 0.8 0.3 0.7-0.6 0.7-0.4 0.8 0.6 0.7-1.1 0.8 0.7 0.7 1.1 0.7-1.1 0.8 0.8 0.7-0.7 0.8-0.3 0.7 0.6 0.7 0.2 0.8-0.4 0.7 0.3 0.8 0.8 0.7-1 0.7 0.2 0.8-0.6 0.7 0.9 0.8-0.9 0.7 0.5 0.7-0.4 0.8 0.7 0.7-0.1 0.8 0.3 0.7-0.5 0.7 0.3 0.8 0.7 0.7-1.6 0.7 0 0.8 1 0.7-0.4 0.8 0 0.7-1.5 0.7 1.3 0.8 0.7 0.7-0.3 0.8-0.3 0.7-0.1 0.7-0.3 0.8 0.2 0.7 0.2 0.8-1.1 0.7 1.9 0.7-1.5 0.8 1.5 0.7-0.3 0.8-1 0.7 0.3 0.7 0.4 0.8 0.5 0.7-1.2 0.8 0.8 0.7 0.1 0.7-0.5 0.8 0.3 0.7-0.5 0.8 0.1 0.7-0.4 0.7 0.1 0.8 0.9 0.7-0.1 0.7 0 0.8-0.6 0.7 0.5 0.8 0.3 0.7-1.2 0.7 0.1 0.8-0.1 0.7 0.8 0.8 0 0.7 1 0.7-0.5 0.8-2.2 0.7 1.7 0.8-0.4 0.7 0.8 0.7-1.2 0.8-0.2 0.7 0.3 0.8 0.9 0.7-0.6 0.7 0.7 0.8 0.7 0.7-1.8 0.8 0.4 0.7 0.4 0.7 0.4 0.8-1 0.7 0.5 0.7-0.6 0.8 1.5 0.7-0.4 0.8 0.6 0.7-0.2 0.7-0.6 0.8 0.2 0.7-0.1 0.8-0.4 0.7-0.1 0.7-0.1 0.8 0.4 0.7 0 0.8 0.5 0.7-0.6 0.7 0.1 0.8 0.8 0.7-1.3 0.8-0.3 0.7 2 0.7-2.1 0.8 0.3 0.7 1.4 0.8-1.1 0.7-0.3 0.7 0.4 0.8-0.1 0.7-0.5 0.7-0.5 0.8 0.6 0.7-0.2 0.8 0.4 0.7-0.2 0.7 1 0.8-0.1 0.7-0.8 0.8 1.4 0.7 0.2 0.7-2.3 0.8 0.5 0.7 1.7 0.8-1 0.7-0.2 0.7-0.1 0.8 0.1 0.7 0.7 0.8-0.3 0.7-0.4 0.7-0.3 0.8 0.1 0.7 0.9 0.8-0.9 0.7 0.2 0.7 0.2 0.8 0 0.7-0.9 0.7 2.4 0.8-1.2 0.7 0.5 0.8-1.6 0.7-0.2 0.7 1 0.8-0.3 0.7-0.3 0.8 1.5 0.7-1.7 0.7-0.2 0.8 2 0.7-0.9 0.8-1 0.7 1.5 0.7-1.2 0.8 0.2 0.7 0.2 0.8 0.1 0.7 1.1 0.7-1.6 0.8 0 0.7-0.2 0.8 0.7 0.7-0.6 0.7 0.7 0.8 0.8 0.7 0.3 0.7-1.3 0.8 0.2 0.7-0.4 0.8 0.1 0.7 0.7 0.7-1.7 0.8 0.7 0.7-0.1 0.8 0.1 0.7 0.2 0.7 0.5 0.8-0.3 0.7 1.8 0.8-1 0.7-1.2 0.7 0.3 0.8-0.2 0.7 0.5 0.8-0.1 0.7 0.4 0.7-0.3 0.8 0.7 0.7-0.9 0.8 0.2 0.7 0.2 0.7-0.2 0.8-0.1 0.7 0.4 0.7 0 0.8-0.1 0.7 0.1 0.8-0.6 0.7 0 0.7 0.9 0.8 0.1 0.7-0.9 0.8 0.9 0.7-1 0.7 1.1 0.8-0.4 0.7-0.5 0.8 0.3 0.7-0.7 0.7 0.1 0.8 0 0.7 0.8 0.8-0.1 0.7-0.5 0.7 0.2 0.8-0.7 0.7 0.5 0.8-0.5 0.7 1.4 0.7-0.3 0.8-0.9 0.7 0.1 0.7 1.3 0.8-0.9 0.7-0.8 0.8 0.3 0.7 0.1 0.7 0.2 0.8-0.7 0.7 1.1 0.8-0.7 0.7 1.5 0.7-0.6 0.8-1.4 0.7 0.4 0.8 0.5 0.7-1 0.7 0.2 0.8 1.7 0.7-1.3 0.8 0 0.7 0.5 0.7 0.1 0.8-0.1 0.7 0.4 0.8-0.9 0.7 1.1 0.7 0.1 0.8-1 0.7 0.2 0.7-0.1 0.8-0.1 0.7-0.5 0.8 0.8 0.7-0.6 0.7 0.1 0.8-0.2 0.7 0.7 0.8-0.7 0.7 1.2 0.7-1.7 0.8 0.4 0.7 0.6 0.8-0.1 0.7-0.5 0.7 2.1 0.8-1.6 0.7-0.7 0.8 0.9 0.7 1 0.7-0.2 0.8-0.9 0.7 0 0.8 1.3 0.7-1.1 0.7 0.1 0.8-1 0.7 0.4 0.7 0.7 0.8-1.6 0.7 1.4 0.8-0.2 0.7 0 0.7 0.2 0.8 0.2 0.7 0.5 0.8-1.7 0.7 1.5 0.7-0.9 0.8 0.2 0.7 0.3 0.8-0.2 0.7 0.6 0.7-1 0.8 0.8 0.7-0.6 0.8-1 0.7 0.4 0.7 1.6 0.8-0.9 0.7 0.6 0.8-0.4 0.7-0.3 0.7 1.9 0.8-0.8 0.7-1.5 0.8 0.7 0.7 0.1 0.7-1.4 0.8 0.5 0.7 1.5 0.7 0.1 0.8 0 0.7-1.4 0.8 0.8 0.7-0.1 0.7-0.2 0.8-0.2 0.7 0.4 0.8-1.3 0.7-0.6 0.7 1.5 0.8 1.2 0.7-1.7 0.8 0.3 0.7 0.5 0.7-0.8 0.8 0.9 0.7-0.5 0.8 0 0.7-0.4 0.7 0.9 0.8 0.2 0.7 0.4 0.8-1.1 0.7-0.4 0.7 0.7 0.8 0.5 0.7-1.2 0.7 1 0.8 1.1 0.7-0.8 0.8-1.4 0.7 0.6 0.7-0.7 0.8 0.2 0.7 2.2 0.8-1.6 0.7-0.2 0.7 0.5 0.8-0.8 0.7 1.8 0.8-0.7 0.7-0.4 0.7 0.5 0.8 0 0.7-0.2 0.8-1.5 0.7 0.8 0.7 1.5 0.8-1.5 0.7 0 0.8-0.2 0.7 0.9 0.7-0.6 0.8-0.1 0.7 1 0.7-1.2 0.8 1.1 0.7-0.3 0.8 0 0.7 0.3 0.7-0.5 0.8 0 0.7 1 0.8-1.1 0.7 0.4 0.7-0.5 0.8-0.3"/>
<path d="M132.4 1139.2l0.8 0.2 0.7-0.5 0.8-1.4 0.7 1.7 0.7 1 0.8-2.1 0.7 1 0.7 0.6 0.8-0.2 0.7-0.8 0.8 1.5 0.7-1.3 0.7 1 0.8-0.5 0.7 0.1 0.8 1.3 0.7-1 0.7-0.8 0.8 0.9 0.7-1.3 0.8 0.5 0.7 0.6 0.7-0.3 0.8 0.1 0.7 0 0.8-1 0.7 0.7 0.7-0.3 0.8 0.7 0.7 0.5 0.8-1.3 0.7 1.4 0.7-1.1 0.8 0.1 0.7 1.2 0.7-0.9 0.8 0 0.7 1.1 0.8 0 0.7-1.2 0.7 0 0.8 0.1 0.7-1 0.8 2.7 0.7-1.2 0.7-0.2 0.8 0.3 0.7-0.8 0.8-0.5 0.7 0.3 0.7 0.9 0.8-1.6 0.7-0.1 0.8 2.4 0.7-2.6 0.7 1.5 0.8-0.9 0.7-0.2 0.8 1.8 0.7-0.6 0.7-0.7 0.8 0.3 0.7-0.7 0.8 1.2 0.7-0.5 0.7 0.4 0.8-1.1 0.7 0.9 0.7-1.6 0.8 1.2 0.7-0.7 0.8 0.7 0.7-0.4 0.7-0.1 0.8 0.2 0.7-0.9 0.8 1.7 0.7-0.1 0.7-2.5 0.8 1 0.7 0.4 0.8 0.6 0.7 0.2 0.7-0.2 0.8-0.8 0.7 0.6 0.8-0.7 0.7 0.5 0.7-0.5 0.8 0.6 0.7-0.4 0.8 0.7 0.7-0.3 0.7-0.2 0.8-1.2 0.7 0.2 0.7 1.2 0.8-0.4 0.7 0.4 0.8-0.7 0.7 0.5 0.7 0 0.8-0.3 0.7-1 0.8 0.6 0.7-0.2 0.7 1.1 0.8-1.3 0.7 1.4 0.8 0.1 0.7-1 0.7 0.5 0.8-1.1 0.7-0.7 0.8-0.2 0.7 1.5 0.7 0 0.8-1.2 0.7 0.9 0.8-0.7 0.7 0.5 0.7-0.5 0.8 0.9 0.7-0.2 0.7-0.3 0.8 0 0.7-0.1 0.8 0.4 0.7-0.6 0.7 0.5 0.8-0.7 0.7 0 0.8-0.1 0.7 1.2 0.7-0.9 0.8-0.6 0.7 0.7 0.8 0 0.7 1.4 0.7-1.6 0.8 0.4 0.7-0.1 0.8 0.7 0.7-0.3 0.7-1.2 0.8 0.9 0.7-0.6 0.8 0.9 0.7-1.5 0.7 0.7 0.8 0.2 0.7-0.8 0.7 0.8 0.8-1.3 0.7 1 0.8 0 0.7 0.3 0.7-0.6 0.8 0.4 0.7-1.1 0.8 1.1 0.7-0.4 0.7 0.3 0.8-0.3 0.7-0.3 0.8 0.8 0.7-1.2 0.7 0.6 0.8 0 0.7 0 0.8-0.2 0.7 0.1 0.7-0.8 0.8 0.6 0.7-0.3 0.8 0.3 0.7-0.4 0.7-0.9 0.8 0.4 0.7 0.6 0.7 0 0.8 0.2 0.7 0.6 0.8-0.1 0.7-1.5 0.7 0.3 0.8 1.1 0.7-1 0.8 1 0.7-1.2 0.7 1.9 0.8-1.7 0.7 0.7 0.8-0.7 0.7-0.1 0.7 0.8 0.8-0.1 0.7-0.2 0.8-0.8 0.7 0.4 0.7 0.6 0.8-0.9 0.7 0 0.8-0.4 0.7 0.5 0.7 0.7 0.8-0.5 0.7 0.1 0.7-0.6 0.8 0.3 0.7-0.2 0.8-0.4 0.7 0.6 0.7-0.1 0.8 0 0.7 0.4 0.8 0 0.7 0.1 0.7-1 0.8 0.8 0.7-1 0.8 0.7 0.7-0.2 0.7 0.3 0.8-0.7 0.7 0.4 0.8 0.6 0.7-2.5 0.7 2.7 0.8-0.1 0.7-1.3 0.8 0.4 0.7 0.4 0.7-0.9 0.8 0.7 0.7-0.1 0.7 0.3 0.8-0.5 0.7 0.6 0.8-0.1 0.7-0.1 0.7 0.8 0.8-1.5 0.7-0.7 0.8 0.1 0.7 1.2 0.7-0.3 0.8 0.6 0.7-0.4 0.8-2.2 0.7 1.7 0.7 1.3 0.8-0.8 0.7 0 0.8-0.6 0.7 0.6 0.7-1.3 0.8 1.9 0.7-0.2 0.8-1.5 0.7 1.2 0.7 0.3 0.8 0.2 0.7-0.6 0.7-0.1 0.8-0.5 0.7 0.7 0.8-0.6 0.7 0.6 0.7 0.4 0.8-0.6 0.7-0.6 0.8 0.6 0.7 0.3 0.7-0.6 0.8 0.6 0.7-0.5 0.8 0.6 0.7-0.9 0.7 0.1 0.8 0.1 0.7 0.5 0.8-0.6 0.7 0.6 0.7-1.1 0.8 2.3 0.7-2.5 0.8 1.2 0.7-0.5 0.7 0.5 0.8-0.4 0.7 0.8 0.7-1.8 0.8 1.4 0.7 0 0.8 0.1 0.7-0.7 0.7 0 0.8-0.5 0.7 1.7 0.8-1 0.7 1 0.7-1.8 0.8 1.2 0.7-0.7 0.8 1.1 0.7-0.8 0.7 0.8 0.8-0.9 0.7 0.2 0.8 0.2 0.7 1.1 0.7-0.3 0.8-1.7 0.7 1.2 0.8-1.3 0.7 1.1 0.7-0.4 0.8 0.2 0.7-0.3 0.8 1.2 0.7 0 0.7 0.4 0.8-0.5 0.7-0.4 0.7 0.4 0.8-1.4 0.7 0.9 0.8 0 0.7-0.4 0.7-0.4 0.8 0.8 0.7 0 0.8-0.3 0.7 0 0.7-0.3 0.8 1.8 0.7-1.4 0.8 1.2 0.7-0.8 0.7-0.3 0.8 0.8 0.7-0.6 0.8-1.2 0.7 0.5 0.7 0.8 0.8-1.3 0.7 1.4 0.8-0.1 0.7 0.6 0.7-0.8 0.8-0.7 0.7 1 0.7 0.9 0.8-2.6 0.7 0.7 0.8 0.1 0.7 1.2 0.7-1.6 0.8 0.9 0.7 0.5 0.8 1 0.7-2.2 0.7 1.2 0.8-1 0.7 1 0.8 0.5 0.7-0.9 0.7 0.6 0.8-1.7 0.7 1.6 0.8-1.1 0.7 0.8 0.7 0.1 0.8-1.3 0.7 1.1 0.8-0.3 0.7 0.6 0.7 0.1 0.8-2 0.7 1.3 0.7-0.2 0.8 0.2 0.7-0.5 0.8 0.6 0.7 0.2 0.7-1.3 0.8 1.2 0.7-0.4 0.8-0.2 0.7 0.2 0.7 0.5 0.8-0.4 0.7-0.5 0.8-0.2 0.7 1 0.7 0.5 0.8-0.6 0.7 0 0.8-0.2 0.7 0.3 0.7-1.1 0.8 1.2 0.7 0.1 0.8-0.6 0.7-0.7 0.7 1 0.8-0.3 0.7 0.7 0.7-1.3 0.8 1.6 0.7-1.5 0.8 1.5 0.7-0.5 0.7 0.1 0.8-0.5 0.7 0.5 0.8-0.1 0.7 0.2 0.7-0.2 0.8-1.1 0.7 1.3 0.8-0.5 0.7-0.2 0.7 0.6 0.8-0.7 0.7 0.3 0.8 0.2 0.7-0.8 0.7 1.3 0.8-0.5 0.7-0.6 0.8 0.6 0.7-0.5 0.7 1.1 0.8 0 0.7-0.8 0.7 0 0.8 0.1 0.7-0.3 0.8 0.6 0.7-1 0.7 0.9 0.8-0.4 0.7 0.4 0.8 1 0.7-1.9 0.7 0.4 0.8-1.2 0.7 0.5 0.8 0.5 0.7-0.4 0.7 1.1 0.8 0.2 0.7-1.3 0.8 1 0.7-1 0.7 0.2 0.8 1.5 0.7-0.6 0.8-0.6 0.7 0.3 0.7 0.1 0.8-0.1 0.7 0.4 0.7-0.3 0.8 0.2 0.7-0.5 0.8 0.5 0.7-0.1 0.7-0.3 0.8 1.4 0.7-1.2 0.8-0.8 0.7 1.4 0.7-0.8 0.8 0.2 0.7 1.2 0.8-1 0.7 0.3 0.7-0.4 0.8-0.3 0.7 0.9 0.8-1.6 0.7 1.6 0.7-0.6 0.8 0.5 0.7 0 0.8-0.8 0.7 0.3 0.7-0.3 0.8 0.5 0.7-0.8 0.7 1.3 0.8-0.9 0.7 0 0.8 1 0.7-0.6 0.7 0.2 0.8-0.6 0.7-0.4 0.8 1.5 0.7-0.7 0.7 0 0.8 0.5 0.7-1.3 0.8 0.5 0.7 0.3 0.7-0.9 0.8 0.4 0.7 1.4 0.8-0.8 0.7-0.5 0.7 0.3 0.8-0.4 0.7 0.3 0.8-1 0.7 0.8 0.7 0.6 0.8-1 0.7 1.2 0.7-1.4 0.8 0.9 0.7-0.6 0.8-0.2 0.7 1.1 0.7-0.3 0.8 0 0.7-0.6 0.8 0.1 0.7 1.5 0.7-0.5 0.8 0.5 0.7-1.4 0.8 0.5 0.7-0.6 0.7-1.1 0.8 0.8 0.7 0.6 0.8-0.1 0.7 0 0.7-0.3 0.8-0.7 0.7 0.7 0.8 0.9 0.7-0.5 0.7-1 0.8 0.3 0.7-0.6 0.7 1.3 0.8 1.5 0.7-2 0.8 0 0.7 0.2 0.7-0.3 0.8-0.5 0.7 1.6 0.8-0.3 0.7-1.1 0.7 1.2 0.8-1.5 0.7 0.9 0.8 0.3 0.7 0.1 0.7-0.3 0.8-0.2 0.7 0.4 0.8-1.1 0.7 0.7 0.7 1 0.8-0.6 0.7-0.8 0.8 1.2 0.7 0.2 0.7-1.2 0.8 1 0.7-0.3 0.8-0.6 0.7 0.5 0.7 0.2 0.8-0.7 0.7 0.1 0.7 0.6 0.8-1.4 0.7 0.8 0.8 0.8 0.7-0.1 0.7-0.5 0.8 0.3 0.7-0.9 0.8 1.2 0.7-2 0.7 0.2 0.8 0.9 0.7-0.9 0.8 1.2 0.7-0.8 0.7 1.9 0.8-1.7 0.7 0.7 0.8-0.5 0.7 0.2 0.7 1.5 0.8-0.6 0.7-0.5 0.8 0.2 0.7-0.7 0.7-0.2 0.8 0.6 0.7-0.7 0.7-0.2 0.8 1.5 0.7-0.4 0.8 0.2 0.7-0.9 0.7 1 0.8-0.6 0.7-0.3 0.8 0.4 0.7 0.5 0.7-1 0.8 0.9 0.7-1.2 0.8 0.7 0.7 1.3 0.7 0 0.8-0.6 0.7-0.5 0.8-0.5 0.7-0.1 0.7 0.2 0.8-1.1 0.7 1.7 0.8-1.1 0.7 1 0.7 0 0.8-0.2 0.7-0.6 0.7 0.7 0.8 0.6 0.7-1 0.8 0.9 0.7-1.1 0.7 1 0.8-0.7 0.7 1.2 0.8-0.8 0.7-0.4 0.7-0.1 0.8 0.4"/>
</g>
<rect x="299.12" y="874.23" width="6.7" height="7.6" fill="#ff2200"/>
<rect x="299.12" y="976.81" width="6.7" height="7.6" fill="#ff2200"/>
<rect x="299.12" y="1046.18" width="6.7" height="7.6" fill="#ff2200"/>
<rect x="299.12" y="1086.68" width="6.7" height="7.6" fill="#ff2200"/>
<rect x="299.12" y="1108.77" width="6.7" height="7.6" fill="#ff2200"/>
<rect x="299.12" y="1120.33" width="6.7" height="7.6" fill="#ff2200"/>
<rect x="166" y="1139" width="6.5" height="12.5" fill="#ff2200"/>
<g fill="none" stroke="#000" stroke-width="3.6" stroke-linejoin="round" stroke-linecap="round">
<path d="M132.4 1138.9l37 0 7.2-20.6 7.4-20.1 7.6-19.6 7.6-18.7 7.7-18.1 7.8-17.2 8.1-17 8.1-16.2 8.4-15.6 8.5-15.1 8.7-14.6 8.8-14 8.9-13.1 9.2-13 9.5-12.3 9.6-11.9 310.5 0"/>
<path d="M132.4 1138.9l37 0 7.8-11 7.7-10.8 8-10.7 7.9-10.5 8.2-10.4 8.1-10.1 8.1-9.8 8.3-9.8 8.4-9.5 8.5-9.5 8.5-9.2 8.5-8.9 8.6-8.9 8.7-8.6 8.9-8.5 8.9-8.3 310.5 0"/>
<path d="M132.4 1138.9l37 0 16.1-11.3 16.2-11.2 16.5-11 16.4-10.6 16.9-10.6 16.8-10.3 17-10.2 17.2-9.9 310.5 0"/>
<path d="M132.4 1138.9l37 0 32.9-11.5 33.1-11.3 33.4-11 33.7-10.8 310.5 0"/>
<path d="M132.4 1138.9l37 0 66.2-11.4 66.9-11.1 310.5 0"/>
<path d="M132.4 1138.9l37 0 133.1-11 310.5 0"/>
<path d="M132.4 1138.9l37 0 133.1-4.9 310.5 0"/>
</g>
<g stroke="#000" stroke-width="3.4" fill="none">
<path d="M133.5 842V1165"/>
<path d="M131.8 1163.3H614.68"/>
<path d="M119.5 1138.9H133.5M119.5 1089.7H133.5M119.5 1040.5H133.5M119.5 991.3H133.5M119.5 942.1H133.5M119.5 892.9H133.5M119.5 843.7H133.5M169.4 1163.3V1177M243.33 1163.3V1177M317.26 1163.3V1177M391.19 1163.3V1177M465.12 1163.3V1177M539.05 1163.3V1177M612.98 1163.3V1177"/>
</g>
<g font-weight="bold">
<text transform="translate(114.4,1149.9) scale(1,1.030)" font-size="31.5" text-anchor="end">0</text>
<text transform="translate(114.4,1100.7) scale(1,1.030)" font-size="31.5" text-anchor="end"> 0</text><use href="#ob" transform="translate(114.4,1100.7) scale(1,1.030) translate(-35.03,0.00) scale(31.500,-31.500)"/>
<text transform="translate(114.4,1051.5) scale(1,1.030)" font-size="31.5" text-anchor="end">20</text>
<text transform="translate(114.4,1002.3) scale(1,1.030)" font-size="31.5" text-anchor="end">30</text>
<text transform="translate(114.4,953.1) scale(1,1.030)" font-size="31.5" text-anchor="end">40</text>
<text transform="translate(114.4,903.9) scale(1,1.030)" font-size="31.5" text-anchor="end">50</text>
<text transform="translate(114.4,854.7) scale(1,1.030)" font-size="31.5" text-anchor="end">60</text>
<text transform="translate(169.4,1210.6) scale(1,1.030)" font-size="31.5" text-anchor="middle">0</text>
<text transform="translate(243.33,1210.6) scale(1,1.030)" font-size="31.5" text-anchor="middle"> 00</text><use href="#ob" transform="translate(243.33,1210.6) scale(1,1.030) translate(-26.27,0.00) scale(31.500,-31.500)"/>
<text transform="translate(317.26,1210.6) scale(1,1.030)" font-size="31.5" text-anchor="middle">200</text>
<text transform="translate(391.19,1210.6) scale(1,1.030)" font-size="31.5" text-anchor="middle">300</text>
<text transform="translate(465.12,1210.6) scale(1,1.030)" font-size="31.5" text-anchor="middle">400</text>
<text transform="translate(539.05,1210.6) scale(1,1.030)" font-size="31.5" text-anchor="middle">500</text>
<text transform="translate(612.98,1210.6) scale(1,1.030)" font-size="31.5" text-anchor="middle">600</text>
</g>
<text transform="translate(373.8,1261.9) scale(1,1.075)" font-size="37.85" text-anchor="middle">Time (s)</text>
<text transform="translate(50.9,997.9) rotate(-90) scale(1,1.066)" font-size="37.8" text-anchor="middle">Response (RU)</text>
<text transform="translate(143.1,890.1) scale(1,1.055)" font-size="47" font-weight="bold" fill="#00a9ff"> H8</text><use href="#ob" transform="translate(143.1,890.1) scale(1,1.055) translate(0.00,0.00) scale(47.000,-47.000)" fill="rgb(0, 169, 255)"/>
<text transform="translate(-1.65,689.5) scale(1,1.056)" font-size="47" font-weight="bold">C</text>
<g transform="translate(0,698.7) scale(1,1.050)" font-size="41.6">
<text x="89.3" y="0">K<tspan font-size="23.5" dy="12.9">D</tspan></text>
<text x="147.3" y="0">= &lt;20 pM</text>
</g>
<g transform="translate(0,748.7) scale(1,1.050)" font-size="41.6">
<text x="90.8" y="0" font-style="italic">k<tspan font-size="23.5" dy="13.9">a</tspan></text>
<text x="147.3" y="0"><tspan>= 7.2 x 0</tspan><tspan font-size="23.5" dy="-14">4</tspan><tspan dy="14"> M</tspan><tspan font-size="23.5" dy="-14">- </tspan><tspan dy="14">s</tspan><tspan font-size="23.5" dy="-14">- </tspan><tspan dy="14" dx="-4.5"> ±  .3 x 0</tspan><tspan font-size="23.5" dy="-14">2</tspan></text><use href="#or" transform="translate(273.30,0.00) scale(41.600,-41.600)"/><use href="#or" transform="translate(386.66,-14.00) scale(23.500,-23.500)"/><use href="#or" transform="translate(428.36,-14.00) scale(23.500,-23.500)"/><use href="#or" transform="translate(482.87,0.00) scale(41.600,-41.600)"/><use href="#or" transform="translate(573.02,0.00) scale(41.600,-41.600)"/>
</g>
<g transform="translate(0,798.1) scale(1,1.050)" font-size="41.6">
<text x="90.8" y="0" font-style="italic">k<tspan font-size="23.5" dy="13.9">d</tspan></text>
<text x="147.3" y="0"><tspan>= 9.2 x 0</tspan><tspan font-size="23.5" dy="-14">- 0</tspan><tspan dy="14"> s</tspan><tspan font-size="23.5" dy="-14">- </tspan><tspan dy="14" dx="-4.5"> ±  .4 x 0</tspan><tspan font-size="23.5" dy="-14">-7</tspan></text><use href="#or" transform="translate(273.30,0.00) scale(41.600,-41.600)"/><use href="#or" transform="translate(327.38,-14.00) scale(23.500,-23.500)"/><use href="#or" transform="translate(393.69,-14.00) scale(23.500,-23.500)"/><use href="#or" transform="translate(448.20,0.00) scale(41.600,-41.600)"/><use href="#or" transform="translate(538.35,0.00) scale(41.600,-41.600)"/>
</g>
<path d="M814.95 1125.6H1300.5" stroke="#000" stroke-width="3.3" stroke-linecap="round" stroke-dasharray="0 6.5"/>
<g fill="none" stroke="#ff2200" stroke-width="7.6" stroke-linejoin="round" stroke-linecap="round">
<path d="M814.9 1126l37.4 0 7.1-20.2 7.3-19.6 7.4-19 7.5-17.8 7.9-17.7 7.8-16.5 8-15.9 8.3-15.2 8.4-14.6 8.5-13.9 8.8-13.3 9-12.6 9.1-12 9.6-11.5 9.7-10.9 10.1-10.5 155.9 7.9 157.8 7.8"/>
<path d="M814.9 1126l37.4 0 7.7-10.8 7.8-10.7 7.8-10.4 8.1-10.3 8-9.9 8.2-9.9 8.2-9.5 8.3-9.2 8.4-9.1 8.5-9 8.6-8.6 8.8-8.6 8.8-8.2 9-8.1 9.1-8 9.2-7.6 313.7 8.3"/>
<path d="M814.9 1126l37.4 0 16.1-11.1 16.2-10.7 16.4-10.6 16.8-10.4 16.9-10 17.1-9.9 17.4-9.6 17.6-9.4 313.7 3.9"/>
<path d="M814.9 1126l37.4 0 32.9-11.3 33.4-11.1 33.8-10.8 34.4-10.5 313.7 2"/>
<path d="M814.9 1126l37.4 0 66.7-11.2 67.8-10.8 313.7 0.8"/>
<path d="M814.9 1126l37.4 0 66.9-5.4 67.6-5.4 313.7 0.3"/>
</g>
<g fill="none" stroke="#000" stroke-width="3.6" stroke-linejoin="round" stroke-linecap="round">
<path d="M814.9 1125.6l37.4 0 7.1-20.2 7.3-19.6 7.4-19 7.5-17.8 7.9-17.7 7.8-16.5 8-15.9 8.3-15.2 8.4-14.6 8.5-13.9 8.8-13.3 9-12.6 9.1-12 9.6-11.5 9.7-10.9 10.1-10.5 155.9 7.9 157.8 7.8"/>
<path d="M814.9 1125.6l37.4 0 7.7-10.8 7.8-10.7 7.8-10.4 8.1-10.3 8-9.9 8.2-9.9 8.2-9.5 8.3-9.2 8.4-9.1 8.5-9 8.6-8.6 8.8-8.6 8.8-8.2 9-8.1 9.1-8 9.2-7.6 313.7 8.3"/>
<path d="M814.9 1125.6l37.4 0 16.1-11.1 16.2-10.7 16.4-10.6 16.8-10.4 16.9-10 17.1-9.9 17.4-9.6 17.6-9.4 313.7 3.9"/>
<path d="M814.9 1125.6l37.4 0 32.9-11.3 33.4-11.1 33.8-10.8 34.4-10.5 313.7 2"/>
<path d="M814.9 1125.6l37.4 0 66.7-11.2 67.8-10.8 313.7 0.8"/>
<path d="M814.9 1125.6l37.4 0 66.9-5.4 67.6-5.4 313.7 0.3"/>
</g>
<g stroke="#000" stroke-width="3.4" fill="none">
<path d="M815.4 846.1V1171.5"/>
<path d="M815.4 1125.7H1302.2"/>
<path d="M801.4 1125.6H815.4M801.4 1032.9H815.4M801.4 940.2H815.4M801.4 847.5H815.4M852.3 1125.7V1139.2M927 1125.7V1139.2M1001.7 1125.7V1139.2M1076.4 1125.7V1139.2M1151.1 1125.7V1139.2M1225.8 1125.7V1139.2M1300.5 1125.7V1139.2"/>
</g>
<g font-weight="bold">
<text transform="translate(795.3,1136.6) scale(1,1.030)" font-size="31.5" text-anchor="end">0</text>
<text transform="translate(795.3,1043.9) scale(1,1.030)" font-size="31.5" text-anchor="end"> 00</text><use href="#ob" transform="translate(795.3,1043.9) scale(1,1.030) translate(-52.55,0.00) scale(31.500,-31.500)"/>
<text transform="translate(795.3,951.2) scale(1,1.030)" font-size="31.5" text-anchor="end">200</text>
<text transform="translate(795.3,858.5) scale(1,1.030)" font-size="31.5" text-anchor="end">300</text>
<text transform="translate(852.3,1172.3) scale(1,1.030)" font-size="31.5" text-anchor="middle">0</text>
<text transform="translate(927,1172.3) scale(1,1.030)" font-size="31.5" text-anchor="middle"> 00</text><use href="#ob" transform="translate(927,1172.3) scale(1,1.030) translate(-26.27,0.00) scale(31.500,-31.500)"/>
<text transform="translate(1001.7,1172.3) scale(1,1.030)" font-size="31.5" text-anchor="middle">200</text>
<text transform="translate(1076.4,1172.3) scale(1,1.030)" font-size="31.5" text-anchor="middle">300</text>
<text transform="translate(1151.1,1172.3) scale(1,1.030)" font-size="31.5" text-anchor="middle">400</text>
<text transform="translate(1225.8,1172.3) scale(1,1.030)" font-size="31.5" text-anchor="middle">500</text>
<text transform="translate(1300.5,1172.3) scale(1,1.030)" font-size="31.5" text-anchor="middle">600</text>
</g>
<text transform="translate(1059.05,1224.6) scale(1,1.075)" font-size="37.85" text-anchor="middle">Time (s)</text>
<text transform="translate(714.6,1004) rotate(-90) scale(1,1.066)" font-size="37.8" text-anchor="middle">Response (RU)</text>
<text transform="translate(833.6,889.8) scale(1,1.055)" font-size="47" font-weight="bold" fill="#9400ff"> A9</text><use href="#ob" transform="translate(833.6,889.8) scale(1,1.055) translate(0.00,0.00) scale(47.000,-47.000)" fill="rgb(148, 0, 255)"/>
<text transform="translate(692.7,690.6) scale(1,1.056)" font-size="47" font-weight="bold">D</text>
<g transform="translate(0,703.7) scale(1,1.050)" font-size="41.6">
<text x="791.1" y="0">K<tspan font-size="23.5" dy="12.9">D</tspan></text>
<text x="849.1" y="0">=  .7 nM</text><use href="#or" transform="translate(884.93,0.00) scale(41.600,-41.600)"/>
</g>
<g transform="translate(0,753.7) scale(1,1.050)" font-size="41.6">
<text x="792.6" y="0" font-style="italic">k<tspan font-size="23.5" dy="13.9">a</tspan></text>
<text x="849.1" y="0"><tspan>= 9.3 x 0</tspan><tspan font-size="23.5" dy="-14">4</tspan><tspan dy="14"> M</tspan><tspan font-size="23.5" dy="-14">- </tspan><tspan dy="14">s</tspan><tspan font-size="23.5" dy="-14">- </tspan><tspan dy="14" dx="-4.5"> ± 6.  x 0</tspan><tspan font-size="23.5" dy="-14">2</tspan></text><use href="#or" transform="translate(975.10,0.00) scale(41.600,-41.600)"/><use href="#or" transform="translate(1088.46,-14.00) scale(23.500,-23.500)"/><use href="#or" transform="translate(1130.16,-14.00) scale(23.500,-23.500)"/><use href="#or" transform="translate(1219.35,0.00) scale(41.600,-41.600)"/><use href="#or" transform="translate(1274.82,0.00) scale(41.600,-41.600)"/>
</g>
<g transform="translate(0,803.1) scale(1,1.050)" font-size="41.6">
<text x="792.6" y="0" font-style="italic">k<tspan font-size="23.5" dy="13.9">d</tspan></text>
<text x="849.1" y="0"><tspan>=  .6 x 0</tspan><tspan font-size="23.5" dy="-14">-4</tspan><tspan dy="14"> s</tspan><tspan font-size="23.5" dy="-14">- </tspan><tspan dy="14" dx="-4.5"> ± 5.3 x 0</tspan><tspan font-size="23.5" dy="-14">-7</tspan></text><use href="#or" transform="translate(884.93,0.00) scale(41.600,-41.600)"/><use href="#or" transform="translate(975.10,0.00) scale(41.600,-41.600)"/><use href="#or" transform="translate(1082.43,-14.00) scale(23.500,-23.500)"/><use href="#or" transform="translate(1227.09,0.00) scale(41.600,-41.600)"/>
</g>
<path d="M141.78 1807H634.74" stroke="#000" stroke-width="3.3" stroke-linecap="round" stroke-dasharray="0 6.5"/>
<g fill="none" stroke="#ff2200" stroke-width="7.6" stroke-linejoin="round" stroke-linecap="round">
<path d="M141.8 1807.4l37.9 0 7.8-20 7.7-19.3 8-19 8-18.3 8.1-18 8.2-17.4 8.3-17 8.4-16.3 8.5-16.1 8.7-15.7 8.7-15.1 9-14.7 9.1-14.5 9.2-14.1 9.3-13.4 9.5-13.2 38.3 8.1 38.9 7.9 39 7.7 39.7 7.6 40 7.3 40.4 7.3 40.9 7.1 41.3 6.9"/>
<path d="M141.8 1807.4l37.9 0 16.1-20.9 16.3-20.1 16.7-19.7 16.9-18.9 17.2-18.5 17.5-17.7 17.8-17.2 18-16.5 77.2 8.7 78.9 8.3 80.3 8 82.1 7.7"/>
<path d="M141.8 1807.4l37.9 0 16.5-10.8 16.5-10.5 16.9-10.4 16.8-10.1 17.1-9.9 17.4-9.7 17.5-9.4 17.8-9.3 77.2 4.6 78.9 4.4 80.3 4.3 82.1 4.1"/>
<path d="M141.8 1807.4l37.9 0 33.4-10.9 33.7-10.5 34.3-10.1 35.1-9.9 156.1 4.6 162.4 4.3"/>
<path d="M141.8 1807.4l37.9 0 33.4-5.3 33.9-5.2 34.3-5.1 34.9-4.9 156.1 2.3 162.4 2.1"/>
<path d="M141.8 1807.4l37.9 0 67.5-5.2 69-4.9 318.5 2.3"/>
</g>
<g fill="none" stroke="#000" stroke-width="3.6" stroke-linejoin="round" stroke-linecap="round">
<path d="M141.8 1807l37.9 0 7.8-20 7.7-19.3 8-19 8-18.3 8.1-18 8.2-17.4 8.3-17 8.4-16.3 8.5-16.1 8.7-15.7 8.7-15.1 9-14.7 9.1-14.5 9.2-14.1 9.3-13.4 9.5-13.2 38.3 8.1 38.9 7.9 39 7.7 39.7 7.6 40 7.3 40.4 7.3 40.9 7.1 41.3 6.9"/>
<path d="M141.8 1807l37.9 0 16.1-20.9 16.3-20.1 16.7-19.7 16.9-18.9 17.2-18.5 17.5-17.7 17.8-17.2 18-16.5 77.2 8.7 78.9 8.3 80.3 8 82.1 7.7"/>
<path d="M141.8 1807l37.9 0 16.5-10.8 16.5-10.5 16.9-10.4 16.8-10.1 17.1-9.9 17.4-9.7 17.5-9.4 17.8-9.3 77.2 4.6 78.9 4.4 80.3 4.3 82.1 4.1"/>
<path d="M141.8 1807l37.9 0 33.4-10.9 33.7-10.5 34.3-10.1 35.1-9.9 156.1 4.6 162.4 4.3"/>
<path d="M141.8 1807l37.9 0 33.4-5.3 33.9-5.2 34.3-5.1 34.9-4.9 156.1 2.3 162.4 2.1"/>
<path d="M141.8 1807l37.9 0 67.5-5.2 69-4.9 318.5 2.3"/>
</g>
<g stroke="#000" stroke-width="3.4" fill="none">
<path d="M143 1502.5V1832"/>
<path d="M141.3 1830.3H636.44"/>
<path d="M129 1807H143M129 1759.95H143M129 1712.9H143M129 1665.85H143M129 1618.8H143M129 1571.75H143M129 1524.7H143M179.7 1830.3V1843.6M255.54 1830.3V1843.6M331.38 1830.3V1843.6M407.22 1830.3V1843.6M483.06 1830.3V1843.6M558.9 1830.3V1843.6M634.74 1830.3V1843.6"/>
</g>
<g font-weight="bold">
<text transform="translate(122.1,1818) scale(1,1.030)" font-size="31.5" text-anchor="end">0</text>
<text transform="translate(122.1,1770.95) scale(1,1.030)" font-size="31.5" text-anchor="end"> 00</text><use href="#ob" transform="translate(122.1,1770.95) scale(1,1.030) translate(-52.55,0.00) scale(31.500,-31.500)"/>
<text transform="translate(122.1,1723.9) scale(1,1.030)" font-size="31.5" text-anchor="end">200</text>
<text transform="translate(122.1,1676.85) scale(1,1.030)" font-size="31.5" text-anchor="end">300</text>
<text transform="translate(122.1,1629.8) scale(1,1.030)" font-size="31.5" text-anchor="end">400</text>
<text transform="translate(122.1,1582.75) scale(1,1.030)" font-size="31.5" text-anchor="end">500</text>
<text transform="translate(122.1,1535.7) scale(1,1.030)" font-size="31.5" text-anchor="end">600</text>
<text transform="translate(179.7,1878.4) scale(1,1.030)" font-size="31.5" text-anchor="middle">0</text>
<text transform="translate(255.54,1878.4) scale(1,1.030)" font-size="31.5" text-anchor="middle"> 00</text><use href="#ob" transform="translate(255.54,1878.4) scale(1,1.030) translate(-26.27,0.00) scale(31.500,-31.500)"/>
<text transform="translate(331.38,1878.4) scale(1,1.030)" font-size="31.5" text-anchor="middle">200</text>
<text transform="translate(407.22,1878.4) scale(1,1.030)" font-size="31.5" text-anchor="middle">300</text>
<text transform="translate(483.06,1878.4) scale(1,1.030)" font-size="31.5" text-anchor="middle">400</text>
<text transform="translate(558.9,1878.4) scale(1,1.030)" font-size="31.5" text-anchor="middle">500</text>
<text transform="translate(634.74,1878.4) scale(1,1.030)" font-size="31.5" text-anchor="middle">600</text>
</g>
<text transform="translate(389.7,1930.6) scale(1,1.075)" font-size="37.85" text-anchor="middle">Time (s)</text>
<text transform="translate(50.9,1660.7) rotate(-90) scale(1,1.066)" font-size="37.8" text-anchor="middle">Response (RU)</text>
<text transform="translate(154.5,1545.9) scale(1,1.055)" font-size="47" font-weight="bold" fill="#000000"> H </text><use href="#ob" transform="translate(154.5,1545.9) scale(1,1.055) translate(0.00,0.00) scale(47.000,-47.000)"/><use href="#ob" transform="translate(154.5,1545.9) scale(1,1.055) translate(60.06,0.00) scale(47.000,-47.000)"/>
<text transform="translate(-0.3,1345.5) scale(1,1.056)" font-size="47" font-weight="bold">E</text>
<g transform="translate(0,1354.9) scale(1,1.050)" font-size="41.6">
<text x="95.9" y="0">K<tspan font-size="23.5" dy="12.9">D</tspan></text>
<text x="153.8" y="0">=  0.  nM</text><use href="#or" transform="translate(189.63,0.00) scale(41.600,-41.600)"/><use href="#or" transform="translate(247.45,0.00) scale(41.600,-41.600)"/>
</g>
<g transform="translate(0,1404.3) scale(1,1.050)" font-size="41.6">
<text x="97.4" y="0" font-style="italic">k<tspan font-size="23.5" dy="13.9">a</tspan></text>
<text x="153.8" y="0"><tspan>= 7.  x 0</tspan><tspan font-size="23.5" dy="-14">4</tspan><tspan dy="14"> M</tspan><tspan font-size="23.5" dy="-14">- </tspan><tspan dy="14">s</tspan><tspan font-size="23.5" dy="-14">- </tspan><tspan dy="14" dx="-4.5"> ± 6.9 x 0</tspan><tspan font-size="23.5" dy="-14">2</tspan></text><use href="#or" transform="translate(224.31,0.00) scale(41.600,-41.600)"/><use href="#or" transform="translate(279.80,0.00) scale(41.600,-41.600)"/><use href="#or" transform="translate(393.16,-14.00) scale(23.500,-23.500)"/><use href="#or" transform="translate(434.86,-14.00) scale(23.500,-23.500)"/><use href="#or" transform="translate(579.52,0.00) scale(41.600,-41.600)"/>
</g>
<g transform="translate(0,1453.7) scale(1,1.050)" font-size="41.6">
<text x="97.4" y="0" font-style="italic">k<tspan font-size="23.5" dy="13.9">d</tspan></text>
<text x="153.8" y="0"><tspan>= 7.2 x 0</tspan><tspan font-size="23.5" dy="-14">-4</tspan><tspan dy="14"> s</tspan><tspan font-size="23.5" dy="-14">- </tspan><tspan dy="14" dx="-4.5"> ± 3.6 x 0</tspan><tspan font-size="23.5" dy="-14">-6</tspan></text><use href="#or" transform="translate(279.80,0.00) scale(41.600,-41.600)"/><use href="#or" transform="translate(387.13,-14.00) scale(23.500,-23.500)"/><use href="#or" transform="translate(531.79,0.00) scale(41.600,-41.600)"/>
</g>
<path d="M831.91 1815.3H1317.98" stroke="#000" stroke-width="3.3" stroke-linecap="round" stroke-dasharray="0 6.5"/>
<g fill="none" stroke="#ff2200" stroke-width="7.6" stroke-linejoin="round" stroke-linecap="round">
<path d="M831.9 1815.7l37.4 0 8.4-35.5 7.9-31 7.6-28.2 4-13.6 3.7-12.3 3.7-11.8 3.8-11.2 3.7-10.6 3.8-10 3.7-9.5 3.7-8.8 3.8-8.4 3.9-8.1 3.7-7.3 4-7 3.9-6.5 4.1-6.2 4.1-5.7 4.1-5.2 4.3-4.9 4.3-4.4 4.5-4.1 4.5-3.7 4.9-3.4 4.8-3.1 5.1-2.7 5.2-2.4 5.6-2.1 5.8-1.9 6.4 13.4 6.5 13 6.7 12.5 6.8 11.9 6.9 11.4 7.1 11.1 7.3 10.6 7.5 10.2 7.6 9.8 7.7 9.2 8 9 8.2 8.6 8.5 8.2 8.6 7.8 8.9 7.5 9.2 7.2 9.3 6.7 9.6 6.4 9.9 6.2 10.3 5.8 10.4 5.5 10.9 5.3 11.2 5 11.6 4.7 12 4.4 12.3 4.2 12.9 4 13.3 3.7 13.8 3.5 14.2 3.2 15 3.1 15.5 2.9"/>
<path d="M831.9 1815.7l37.4 0 6.7-16.2 6.8-15 6.9-14.2 7.3-13.8 7.3-12.6 7.6-12.2 7.9-11.4 8-10.6 8.4-10.1 8.6-9.3 4.5-4.5 4.5-4.3 4.5-4 4.7-4 4.6-3.8 4.9-3.8 5-3.6 5.1-3.4 5.2-3.4 5.3-3.1 5.4-3.1 5.4-2.9 6.5 8 6.8 7.8 6.7 7.3 6.9 7.2 7.1 6.9 7.3 6.7 7.5 6.4 7.5 6.1 7.8 5.9 7.9 5.7 8 5.3 8.4 5.3 8.4 5 8.8 4.8 9 4.6 9.2 4.4 9.3 4.1 9.7 4 9.9 3.8 10.3 3.7 10.5 3.4 10.8 3.3 11.3 3.2 11.5 3 11.8 2.8 12.4 2.7 12.5 2.5 13.1 2.4 13.6 2.3 14 2.1 14.6 2 15 1.9"/>
<path d="M831.9 1815.7l37.4 0 7.1-7.8 7.3-7.6 7.5-7.3 7.5-6.9 7.8-6.7 7.9-6.4 8-6.2 8.2-5.8 8.4-5.7 8.6-5.3 8.8-5.1 9-4.9 9.2-4.6 9.5-4.5 9.7-4.2 10.1-4 6.7 4.3 6.8 4 6.9 3.9 6.9 3.8 7.3 3.7 7.3 3.5 7.5 3.4 7.6 3.3 7.9 3.1 8 3.1 8.2 2.9 8.5 2.8 8.6 2.7 8.7 2.6 18.4 4.8 19 4.5 20.2 4 21.3 3.7 22.7 3.4 23.9 3 25.4 2.8 27.1 2.4 29.2 2.2"/>
<path d="M831.9 1815.7l37.4 0 15-7.5 15.3-7.1 15.9-6.6 16.4-6.2 17-5.8 17.6-5.4 18.3-5 19.1-4.7 13.7 4.1 14.2 3.9 14.7 3.5 15.4 3.4 16 3.1 16.9 2.9 17.5 2.7 18.4 2.4 19.2 2.3 20.2 2.1 21.3 1.9 22.4 1.7 23.8 1.6 25.2 1.4 26.8 1.3 28.4 1.2"/>
<path d="M831.9 1815.7l37.4 0 15.1-3.7 15.7-3.6 16.1-3.3 16.5-3.2 17-3 17.6-2.8 17.9-2.6 18.7-2.5 13.8 2 14.4 1.9 15 1.8 15.5 1.6 16.3 1.5 16.8 1.5 36.3 2.5 39.4 2.2 43.8 1.9 48.4 1.5 54.4 1.3"/>
<path d="M831.9 1815.7l37.4 0 31-3.7 32.7-3.3 34.4-2.9 36.5-2.7 28 2 30.5 1.8 33.1 1.5 36.1 1.3 39.4 1.1 43.8 1 48.6 0.8 54.6 0.6"/>
<path d="M831.9 1815.7l37.4 0 31.2-2 32.7-1.9 34.4-1.6 36.3-1.5 27.9 1.1 30.2 1.1 32.9 0.8 35.9 0.8 83.2 1.1 104 0.8"/>
</g>
<g fill="none" stroke="#000" stroke-width="3.6" stroke-linejoin="round" stroke-linecap="round">
<path d="M831.9 1815.3l37.4 0 8.4-35.5 7.9-31 7.6-28.2 4-13.6 3.7-12.3 3.7-11.8 3.8-11.2 3.7-10.6 3.8-10 3.7-9.5 3.7-8.8 3.8-8.4 3.9-8.1 3.7-7.3 4-7 3.9-6.5 4.1-6.2 4.1-5.7 4.1-5.2 4.3-4.9 4.3-4.4 4.5-4.1 4.5-3.7 4.9-3.4 4.8-3.1 5.1-2.7 5.2-2.4 5.6-2.1 5.8-1.9 6.4 13.4 6.5 13 6.7 12.5 6.8 11.9 6.9 11.4 7.1 11.1 7.3 10.6 7.5 10.2 7.6 9.8 7.7 9.2 8 9 8.2 8.6 8.5 8.2 8.6 7.8 8.9 7.5 9.2 7.2 9.3 6.7 9.6 6.4 9.9 6.2 10.3 5.8 10.4 5.5 10.9 5.3 11.2 5 11.6 4.7 12 4.4 12.3 4.2 12.9 4 13.3 3.7 13.8 3.5 14.2 3.2 15 3.1 15.5 2.9"/>
<path d="M831.9 1815.3l37.4 0 6.7-16.2 6.8-15 6.9-14.2 7.3-13.8 7.3-12.6 7.6-12.2 7.9-11.4 8-10.6 8.4-10.1 8.6-9.3 4.5-4.5 4.5-4.3 4.5-4 4.7-4 4.6-3.8 4.9-3.8 5-3.6 5.1-3.4 5.2-3.4 5.3-3.1 5.4-3.1 5.4-2.9 6.5 8 6.8 7.8 6.7 7.3 6.9 7.2 7.1 6.9 7.3 6.7 7.5 6.4 7.5 6.1 7.8 5.9 7.9 5.7 8 5.3 8.4 5.3 8.4 5 8.8 4.8 9 4.6 9.2 4.4 9.3 4.1 9.7 4 9.9 3.8 10.3 3.7 10.5 3.4 10.8 3.3 11.3 3.2 11.5 3 11.8 2.8 12.4 2.7 12.5 2.5 13.1 2.4 13.6 2.3 14 2.1 14.6 2 15 1.9"/>
<path d="M831.9 1815.3l37.4 0 7.1-7.8 7.3-7.6 7.5-7.3 7.5-6.9 7.8-6.7 7.9-6.4 8-6.2 8.2-5.8 8.4-5.7 8.6-5.3 8.8-5.1 9-4.9 9.2-4.6 9.5-4.5 9.7-4.2 10.1-4 6.7 4.3 6.8 4 6.9 3.9 6.9 3.8 7.3 3.7 7.3 3.5 7.5 3.4 7.6 3.3 7.9 3.1 8 3.1 8.2 2.9 8.5 2.8 8.6 2.7 8.7 2.6 18.4 4.8 19 4.5 20.2 4 21.3 3.7 22.7 3.4 23.9 3 25.4 2.8 27.1 2.4 29.2 2.2"/>
<path d="M831.9 1815.3l37.4 0 15-7.5 15.3-7.1 15.9-6.6 16.4-6.2 17-5.8 17.6-5.4 18.3-5 19.1-4.7 13.7 4.1 14.2 3.9 14.7 3.5 15.4 3.4 16 3.1 16.9 2.9 17.5 2.7 18.4 2.4 19.2 2.3 20.2 2.1 21.3 1.9 22.4 1.7 23.8 1.6 25.2 1.4 26.8 1.3 28.4 1.2"/>
<path d="M831.9 1815.3l37.4 0 15.1-3.7 15.7-3.6 16.1-3.3 16.5-3.2 17-3 17.6-2.8 17.9-2.6 18.7-2.5 13.8 2 14.4 1.9 15 1.8 15.5 1.6 16.3 1.5 16.8 1.5 36.3 2.5 39.4 2.2 43.8 1.9 48.4 1.5 54.4 1.3"/>
<path d="M831.9 1815.3l37.4 0 31-3.7 32.7-3.3 34.4-2.9 36.5-2.7 28 2 30.5 1.8 33.1 1.5 36.1 1.3 39.4 1.1 43.8 1 48.6 0.8 54.6 0.6"/>
<path d="M831.9 1815.3l37.4 0 31.2-2 32.7-1.9 34.4-1.6 36.3-1.5 27.9 1.1 30.2 1.1 32.9 0.8 35.9 0.8 83.2 1.1 104 0.8"/>
</g>
<g stroke="#000" stroke-width="3.4" fill="none">
<path d="M832.3 1508.75V1833.7"/>
<path d="M830.6 1832H1319.68"/>
<path d="M818.3 1815.3H832.3M818.3 1750.55H832.3M818.3 1685.8H832.3M818.3 1621.05H832.3M818.3 1556.3H832.3M869.3 1832V1845.2M944.08 1832V1845.2M1018.86 1832V1845.2M1093.64 1832V1845.2M1168.42 1832V1845.2M1243.2 1832V1845.2M1317.98 1832V1845.2"/>
</g>
<g font-weight="bold">
<text transform="translate(812,1826.3) scale(1,1.030)" font-size="31.5" text-anchor="end">0</text>
<text transform="translate(812,1761.55) scale(1,1.030)" font-size="31.5" text-anchor="end">200</text>
<text transform="translate(812,1696.8) scale(1,1.030)" font-size="31.5" text-anchor="end">400</text>
<text transform="translate(812,1632.05) scale(1,1.030)" font-size="31.5" text-anchor="end">600</text>
<text transform="translate(812,1567.3) scale(1,1.030)" font-size="31.5" text-anchor="end">800</text>
<text transform="translate(869.3,1879) scale(1,1.030)" font-size="31.5" text-anchor="middle">0</text>
<text transform="translate(944.08,1879) scale(1,1.030)" font-size="31.5" text-anchor="middle"> 00</text><use href="#ob" transform="translate(944.08,1879) scale(1,1.030) translate(-26.27,0.00) scale(31.500,-31.500)"/>
<text transform="translate(1018.86,1879) scale(1,1.030)" font-size="31.5" text-anchor="middle">200</text>
<text transform="translate(1093.64,1879) scale(1,1.030)" font-size="31.5" text-anchor="middle">300</text>
<text transform="translate(1168.42,1879) scale(1,1.030)" font-size="31.5" text-anchor="middle">400</text>
<text transform="translate(1243.2,1879) scale(1,1.030)" font-size="31.5" text-anchor="middle">500</text>
<text transform="translate(1317.98,1879) scale(1,1.030)" font-size="31.5" text-anchor="middle">600</text>
</g>
<text transform="translate(1076.5,1930.6) scale(1,1.075)" font-size="37.85" text-anchor="middle">Time (s)</text>
<text transform="translate(732.9,1664) rotate(-90) scale(1,1.066)" font-size="37.8" text-anchor="middle">Response (RU)</text>
<text transform="translate(843.7,1554) scale(1,1.055)" font-size="47" font-weight="bold" fill="#ff0000">2B 2</text><use href="#ob" transform="translate(843.7,1554) scale(1,1.055) translate(60.06,0.00) scale(47.000,-47.000)" fill="rgb(255, 0, 0)"/>
<text transform="translate(692.1,1345.4) scale(1,1.056)" font-size="47" font-weight="bold">F</text>
<g transform="translate(0,1354.9) scale(1,1.050)" font-size="41.6">
<text x="782.6" y="0">K<tspan font-size="23.5" dy="12.9">D</tspan></text>
<text x="840.5" y="0">=  7.8 nM</text><use href="#or" transform="translate(876.33,0.00) scale(41.600,-41.600)"/>
</g>
<g transform="translate(0,1404.3) scale(1,1.050)" font-size="41.6">
<text x="784.1" y="0" font-style="italic">k<tspan font-size="23.5" dy="13.9">a</tspan></text>
<text x="840.5" y="0"><tspan>= 9.5 x 0</tspan><tspan font-size="23.5" dy="-14">5</tspan><tspan dy="14"> M</tspan><tspan font-size="23.5" dy="-14">- </tspan><tspan dy="14">s</tspan><tspan font-size="23.5" dy="-14">- </tspan><tspan dy="14" dx="-4.5"> ± 2.8 x 0</tspan><tspan font-size="23.5" dy="-14">3</tspan></text><use href="#or" transform="translate(966.50,0.00) scale(41.600,-41.600)"/><use href="#or" transform="translate(1079.86,-14.00) scale(23.500,-23.500)"/><use href="#or" transform="translate(1121.56,-14.00) scale(23.500,-23.500)"/><use href="#or" transform="translate(1266.22,0.00) scale(41.600,-41.600)"/>
</g>
<g transform="translate(0,1453.7) scale(1,1.050)" font-size="41.6">
<text x="784.1" y="0" font-style="italic">k<tspan font-size="23.5" dy="13.9">d</tspan></text>
<text x="840.5" y="0"><tspan>=  .7 x 0</tspan><tspan font-size="23.5" dy="-14">-2</tspan><tspan dy="14"> s</tspan><tspan font-size="23.5" dy="-14">- </tspan><tspan dy="14" dx="-4.5"> ± 5.  x 0</tspan><tspan font-size="23.5" dy="-14">-5</tspan></text><use href="#or" transform="translate(876.33,0.00) scale(41.600,-41.600)"/><use href="#or" transform="translate(966.50,0.00) scale(41.600,-41.600)"/><use href="#or" transform="translate(1073.83,-14.00) scale(23.500,-23.500)"/><use href="#or" transform="translate(1163.02,0.00) scale(41.600,-41.600)"/><use href="#or" transform="translate(1218.49,0.00) scale(41.600,-41.600)"/>
</g>
</svg></body></html>
